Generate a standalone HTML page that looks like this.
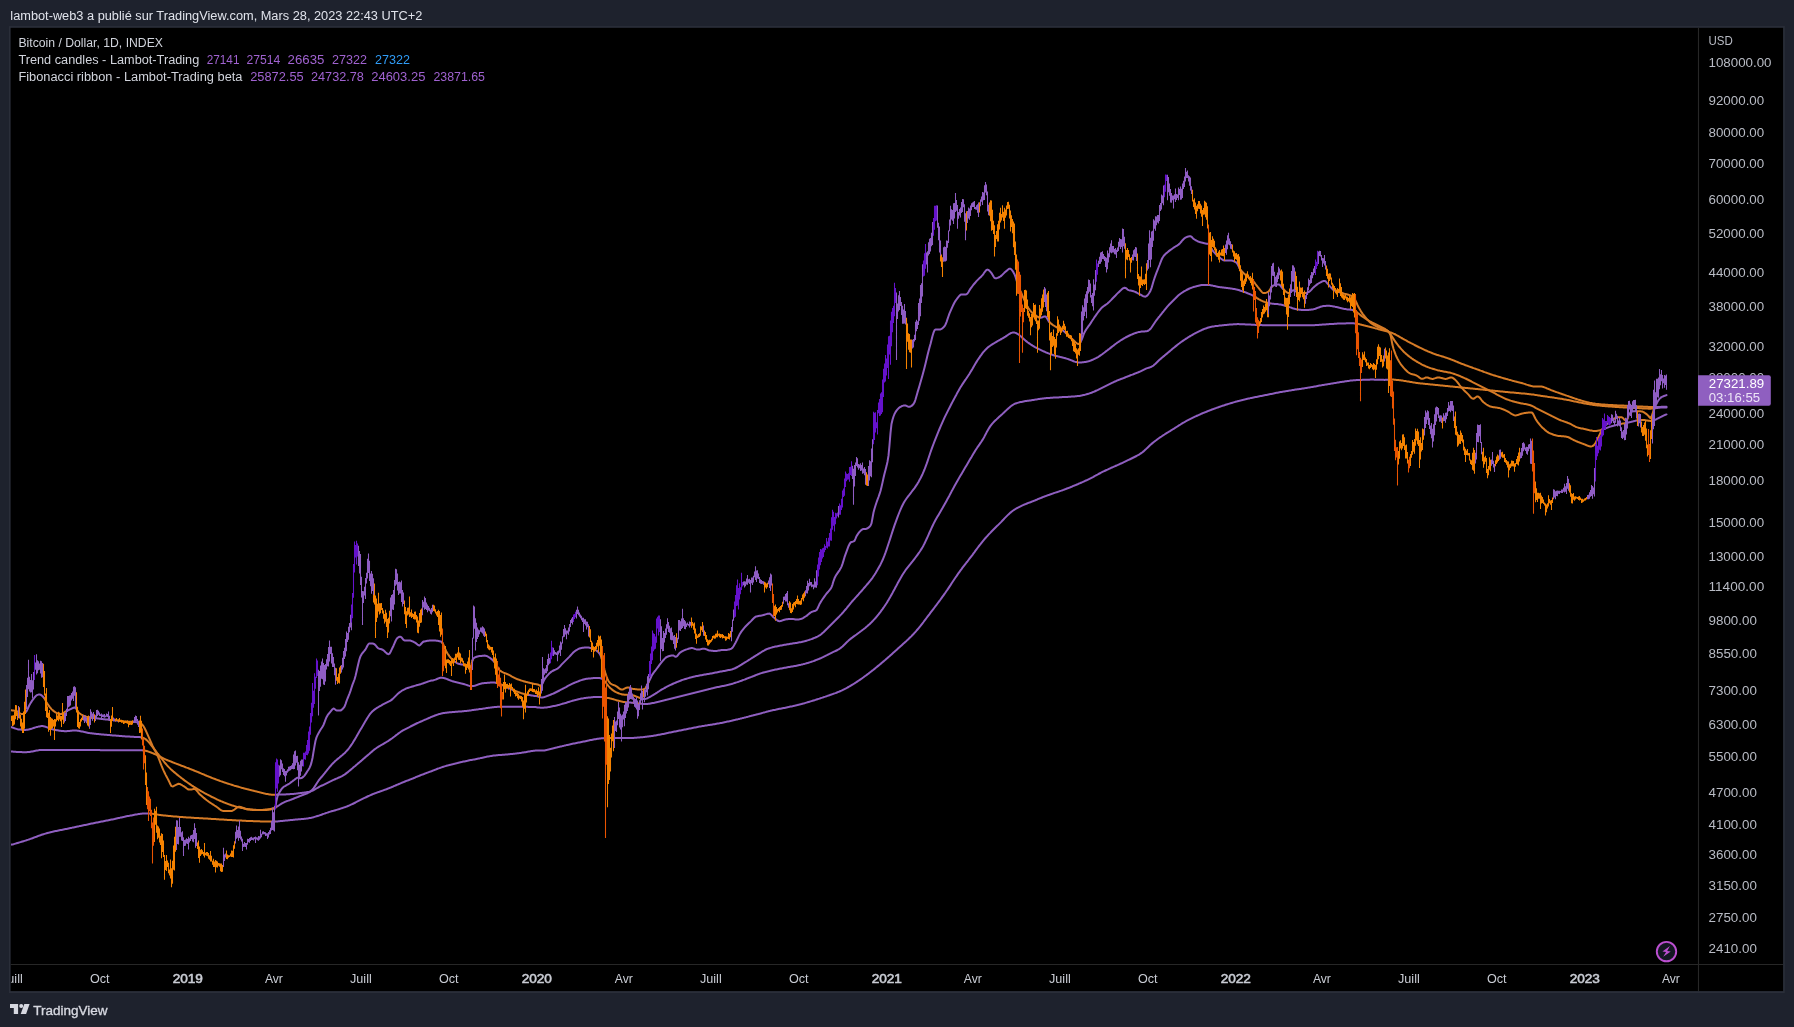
<!DOCTYPE html><html><head><meta charset="utf-8"><title>BTCUSD</title>
<style>html,body{margin:0;padding:0;background:#1e222d;overflow:hidden}svg{display:block;will-change:transform}text{font-family:"Liberation Sans",sans-serif}</style></head><body>
<svg width="1794" height="1027" viewBox="0 0 1794 1027">
<rect width="1794" height="1027" fill="#1e222d"/>
<rect x="9" y="26.1" width="1775.8" height="966.9" fill="#2a2e39"/>
<rect x="10.6" y="27.8" width="1772.5" height="963.3" fill="#000"/>
<path d="M1698.5 27.8V991M10.6 964.5H1783" stroke="#272727" stroke-width="1.1" fill="none"/>
<defs><clipPath id="cp"><rect x="11" y="28" width="1687" height="936"/></clipPath><clipPath id="ct"><rect x="11" y="965" width="1687" height="26"/></clipPath></defs>
<g clip-path="url(#cp)" fill="none" stroke-width="2" stroke-linejoin="round" stroke-linecap="round">
<path stroke="#8f5fc0" d="M10.5 844.8 L11.5 844.6 L12.5 844.4 L13.5 844.2 L14.5 843.9 L15.5 843.6 L16.5 843.3 L17.5 843.0 L18.5 842.7 L19.5 842.4 L20.5 842.1 L21.5 841.8 L22.5 841.5 L23.5 841.2 L24.5 840.9 L25.5 840.6 L26.5 840.3 L27.5 839.9 L28.5 839.6 L29.5 839.2 L30.5 838.9 L31.5 838.5 L32.5 838.2 L33.5 837.8 L34.5 837.4 L35.5 837.0 L36.5 836.7 L37.5 836.3 L38.5 835.9 L39.5 835.5 L40.5 835.2 L41.5 834.8 L42.5 834.5 L43.5 834.2 L44.5 833.9 L45.5 833.6 L46.5 833.3 L47.5 833.0 L48.5 832.7 L49.5 832.5 L50.5 832.2 L51.5 832.0 L52.5 831.8 L53.5 831.5 L54.5 831.3 L55.5 831.1 L56.5 830.9 L57.5 830.7 L58.5 830.5 L59.5 830.3 L60.5 830.1 L61.5 829.9 L62.5 829.7 L63.5 829.5 L64.5 829.3 L65.5 829.1 L66.5 828.9 L67.5 828.7 L68.5 828.5 L69.5 828.3 L70.5 828.1 L71.5 827.9 L72.5 827.6 L73.5 827.4 L74.5 827.2 L75.5 827.0 L76.5 826.8 L77.5 826.6 L78.5 826.4 L79.5 826.1 L80.5 825.9 L81.5 825.7 L82.5 825.5 L83.5 825.3 L84.5 825.1 L85.5 824.9 L86.5 824.7 L87.5 824.5 L88.5 824.2 L89.5 824.0 L90.5 823.8 L91.5 823.6 L92.5 823.4 L93.5 823.2 L94.5 823.0 L95.5 822.8 L96.5 822.6 L97.5 822.4 L98.5 822.2 L99.5 822.0 L100.5 821.8 L101.5 821.6 L102.5 821.4 L103.5 821.2 L104.5 821.0 L105.5 820.8 L106.5 820.6 L107.5 820.4 L108.5 820.2 L109.5 820.0 L110.5 819.8 L111.5 819.6 L112.5 819.4 L113.5 819.2 L114.5 819.0 L115.5 818.7 L116.5 818.5 L117.5 818.3 L118.5 818.1 L119.5 817.9 L120.5 817.6 L121.5 817.4 L122.5 817.2 L123.5 817.0 L124.5 816.8 L125.5 816.5 L126.5 816.3 L127.5 816.1 L128.5 815.9 L129.5 815.8 L130.5 815.6 L131.5 815.4 L132.5 815.2 L133.5 815.0 L134.5 814.8 L135.5 814.6 L136.5 814.4 L137.5 814.3 L138.5 814.1 L139.5 813.9 L140.5 813.8 L141.5 813.7 L142.5 813.6 L143.5 813.5 L144.5 813.4 L145.5 813.4 L146.5 813.4 L147.5 813.4 L148.5 813.4 L149.5 813.5 L150.5 813.6M274.5 821.5 L275.5 821.5 L276.5 821.4 L277.5 821.4 L278.5 821.3 L279.5 821.2 L280.5 821.1 L281.5 821.0 L282.5 820.9 L283.5 820.8 L284.5 820.7 L285.5 820.6 L286.5 820.5 L287.5 820.4 L288.5 820.3 L289.5 820.2 L290.5 820.1 L291.5 820.0 L292.5 819.9 L293.5 819.8 L294.5 819.7 L295.5 819.6 L296.5 819.5 L297.5 819.4 L298.5 819.3 L299.5 819.3 L300.5 819.2 L301.5 819.1 L302.5 819.0 L303.5 818.9 L304.5 818.8 L305.5 818.7 L306.5 818.6 L307.5 818.4 L308.5 818.3 L309.5 818.1 L310.5 817.9 L311.5 817.7 L312.5 817.4 L313.5 817.2 L314.5 816.9 L315.5 816.6 L316.5 816.3 L317.5 816.0 L318.5 815.7 L319.5 815.4 L320.5 815.0 L321.5 814.7 L322.5 814.3 L323.5 813.9 L324.5 813.6 L325.5 813.2 L326.5 812.9 L327.5 812.6 L328.5 812.2 L329.5 811.9 L330.5 811.6 L331.5 811.3 L332.5 811.0 L333.5 810.8 L334.5 810.5 L335.5 810.2 L336.5 809.9 L337.5 809.6 L338.5 809.3 L339.5 809.0 L340.5 808.6 L341.5 808.3 L342.5 808.0 L343.5 807.6 L344.5 807.3 L345.5 807.0 L346.5 806.6 L347.5 806.2 L348.5 805.8 L349.5 805.4 L350.5 804.9 L351.5 804.4 L352.5 804.0 L353.5 803.5 L354.5 803.0 L355.5 802.5 L356.5 801.9 L357.5 801.4 L358.5 800.9 L359.5 800.4 L360.5 799.9 L361.5 799.4 L362.5 798.9 L363.5 798.4 L364.5 797.9 L365.5 797.5 L366.5 797.0 L367.5 796.5 L368.5 796.0 L369.5 795.6 L370.5 795.1 L371.5 794.7 L372.5 794.3 L373.5 793.9 L374.5 793.5 L375.5 793.1 L376.5 792.8 L377.5 792.4 L378.5 792.0 L379.5 791.7 L380.5 791.3 L381.5 791.0 L382.5 790.6 L383.5 790.3 L384.5 789.9 L385.5 789.5 L386.5 789.2 L387.5 788.8 L388.5 788.4 L389.5 788.0 L390.5 787.6 L391.5 787.2 L392.5 786.8 L393.5 786.3 L394.5 785.9 L395.5 785.5 L396.5 785.0 L397.5 784.6 L398.5 784.2 L399.5 783.8 L400.5 783.4 L401.5 782.9 L402.5 782.5 L403.5 782.1 L404.5 781.7 L405.5 781.3 L406.5 780.9 L407.5 780.5 L408.5 780.2 L409.5 779.8 L410.5 779.4 L411.5 779.0 L412.5 778.6 L413.5 778.2 L414.5 777.8 L415.5 777.3 L416.5 776.9 L417.5 776.5 L418.5 776.1 L419.5 775.7 L420.5 775.3 L421.5 774.9 L422.5 774.5 L423.5 774.2 L424.5 773.8 L425.5 773.4 L426.5 773.0 L427.5 772.6 L428.5 772.3 L429.5 771.9 L430.5 771.5 L431.5 771.2 L432.5 770.8 L433.5 770.4 L434.5 770.0 L435.5 769.6 L436.5 769.2 L437.5 768.8 L438.5 768.4 L439.5 768.1 L440.5 767.7 L441.5 767.4 L442.5 767.0 L443.5 766.7 L444.5 766.4 L445.5 766.1 L446.5 765.8 L447.5 765.5 L448.5 765.3 L449.5 765.0 L450.5 764.7 L451.5 764.5 L452.5 764.2 L453.5 764.0 L454.5 763.7 L455.5 763.5 L456.5 763.2 L457.5 763.0 L458.5 762.7 L459.5 762.5 L460.5 762.3 L461.5 762.1 L462.5 761.8 L463.5 761.6 L464.5 761.4 L465.5 761.2 L466.5 761.0 L467.5 760.8 L468.5 760.5 L469.5 760.3 L470.5 760.1 L471.5 759.9 L472.5 759.7 L473.5 759.6 L474.5 759.4 L475.5 759.2 L476.5 759.0 L477.5 758.8 L478.5 758.6 L479.5 758.4 L480.5 758.1 L481.5 757.9 L482.5 757.7 L483.5 757.5 L484.5 757.3 L485.5 757.1 L486.5 756.8 L487.5 756.6 L488.5 756.4 L489.5 756.2 L490.5 756.1 L491.5 755.9 L492.5 755.7 L493.5 755.6 L494.5 755.5 L495.5 755.4 L496.5 755.3 L497.5 755.2 L498.5 755.1 L499.5 755.0 L500.5 755.0 L501.5 754.9 L502.5 754.8 L503.5 754.7 L504.5 754.7 L505.5 754.6 L506.5 754.5 L507.5 754.4 L508.5 754.3 L509.5 754.2 L510.5 754.1 L511.5 754.0 L512.5 753.9 L513.5 753.8 L514.5 753.7 L515.5 753.6 L516.5 753.4 L517.5 753.3 L518.5 753.2 L519.5 753.1 L520.5 752.9 L521.5 752.8 L522.5 752.6 L523.5 752.5 L524.5 752.3 L525.5 752.2 L526.5 752.0 L527.5 751.8 L528.5 751.6 L529.5 751.5 L530.5 751.3 L531.5 751.1 L532.5 751.0 L533.5 750.8 L534.5 750.7 L535.5 750.6 L536.5 750.6 L537.5 750.6 L538.5 750.6 L539.5 750.6 L540.5 750.6 L541.5 750.6 L542.5 750.5 L543.5 750.5 L544.5 750.4 L545.5 750.2 L546.5 750.0 L547.5 749.8 L548.5 749.5 L549.5 749.3 L550.5 749.0 L551.5 748.8 L552.5 748.5 L553.5 748.3 L554.5 748.0 L555.5 747.8 L556.5 747.6 L557.5 747.3 L558.5 747.1 L559.5 746.8 L560.5 746.6 L561.5 746.4 L562.5 746.1 L563.5 745.9 L564.5 745.6 L565.5 745.4 L566.5 745.1 L567.5 744.9 L568.5 744.7 L569.5 744.5 L570.5 744.2 L571.5 744.0 L572.5 743.8 L573.5 743.6 L574.5 743.4 L575.5 743.2 L576.5 743.0 L577.5 742.8 L578.5 742.6 L579.5 742.4 L580.5 742.2 L581.5 742.0 L582.5 741.8 L583.5 741.6 L584.5 741.4 L585.5 741.2 L586.5 741.0 L587.5 740.8 L588.5 740.6 L589.5 740.3 L590.5 740.1 L591.5 739.9 L592.5 739.7 L593.5 739.5 L594.5 739.3 L595.5 739.2 L596.5 739.0 L597.5 738.8 L598.5 738.7 L599.5 738.5 L600.5 738.4 L601.5 738.3 L602.5 738.2 L603.5 738.2 L604.5 738.1 L605.5 738.1 L606.5 738.1M611.5 738.1 L612.5 738.1 L613.5 738.1 L614.5 738.1 L615.5 738.1 L616.5 738.1 L617.5 738.1 L618.5 738.1 L619.5 738.1 L620.5 738.1 L621.5 738.1 L622.5 738.1 L623.5 738.1 L624.5 738.1 L625.5 738.1 L626.5 738.1 L627.5 738.1 L628.5 738.0 L629.5 738.0 L630.5 738.0 L631.5 738.0 L632.5 737.9 L633.5 737.9 L634.5 737.8 L635.5 737.7 L636.5 737.7 L637.5 737.6 L638.5 737.5 L639.5 737.4 L640.5 737.3 L641.5 737.2 L642.5 737.2 L643.5 737.1 L644.5 736.9 L645.5 736.8 L646.5 736.7 L647.5 736.6 L648.5 736.5 L649.5 736.3 L650.5 736.2 L651.5 736.0 L652.5 735.9 L653.5 735.7 L654.5 735.5 L655.5 735.4 L656.5 735.2 L657.5 735.0 L658.5 734.8 L659.5 734.7 L660.5 734.5 L661.5 734.3 L662.5 734.1 L663.5 733.9 L664.5 733.7 L665.5 733.5 L666.5 733.3 L667.5 733.1 L668.5 732.8 L669.5 732.6 L670.5 732.4 L671.5 732.2 L672.5 732.0 L673.5 731.8 L674.5 731.6 L675.5 731.4 L676.5 731.2 L677.5 731.0 L678.5 730.8 L679.5 730.6 L680.5 730.4 L681.5 730.2 L682.5 730.0 L683.5 729.8 L684.5 729.6 L685.5 729.4 L686.5 729.2 L687.5 729.0 L688.5 728.8 L689.5 728.6 L690.5 728.4 L691.5 728.2 L692.5 728.0 L693.5 727.8 L694.5 727.6 L695.5 727.4 L696.5 727.2 L697.5 727.0 L698.5 726.8 L699.5 726.6 L700.5 726.4 L701.5 726.3 L702.5 726.1 L703.5 725.9 L704.5 725.8 L705.5 725.6 L706.5 725.4 L707.5 725.3 L708.5 725.1 L709.5 725.0 L710.5 724.8 L711.5 724.7 L712.5 724.5 L713.5 724.3 L714.5 724.2 L715.5 724.0 L716.5 723.8 L717.5 723.6 L718.5 723.4 L719.5 723.3 L720.5 723.1 L721.5 722.9 L722.5 722.7 L723.5 722.5 L724.5 722.3 L725.5 722.1 L726.5 721.8 L727.5 721.6 L728.5 721.4 L729.5 721.2 L730.5 721.0 L731.5 720.8 L732.5 720.5 L733.5 720.3 L734.5 720.1 L735.5 719.8 L736.5 719.6 L737.5 719.4 L738.5 719.1 L739.5 718.9 L740.5 718.6 L741.5 718.4 L742.5 718.1 L743.5 717.9 L744.5 717.6 L745.5 717.4 L746.5 717.1 L747.5 716.9 L748.5 716.6 L749.5 716.3 L750.5 716.1 L751.5 715.8 L752.5 715.6 L753.5 715.3 L754.5 715.0 L755.5 714.8 L756.5 714.5 L757.5 714.2 L758.5 714.0 L759.5 713.7 L760.5 713.5 L761.5 713.2 L762.5 712.9 L763.5 712.6 L764.5 712.4 L765.5 712.1 L766.5 711.8 L767.5 711.6 L768.5 711.3 L769.5 711.1 L770.5 710.8 L771.5 710.6 L772.5 710.3 L773.5 710.1 L774.5 709.9 L775.5 709.7 L776.5 709.4 L777.5 709.2 L778.5 709.0 L779.5 708.8 L780.5 708.7 L781.5 708.5 L782.5 708.3 L783.5 708.1 L784.5 707.9 L785.5 707.7 L786.5 707.5 L787.5 707.3 L788.5 707.1 L789.5 706.8 L790.5 706.6 L791.5 706.4 L792.5 706.2 L793.5 705.9 L794.5 705.7 L795.5 705.5 L796.5 705.2 L797.5 705.0 L798.5 704.7 L799.5 704.5 L800.5 704.2 L801.5 704.0 L802.5 703.7 L803.5 703.4 L804.5 703.2 L805.5 702.9 L806.5 702.6 L807.5 702.3 L808.5 702.0 L809.5 701.7 L810.5 701.4 L811.5 701.1 L812.5 700.8 L813.5 700.5 L814.5 700.2 L815.5 699.9 L816.5 699.5 L817.5 699.2 L818.5 698.9 L819.5 698.6 L820.5 698.2 L821.5 697.9 L822.5 697.6 L823.5 697.2 L824.5 696.9 L825.5 696.6 L826.5 696.2 L827.5 695.9 L828.5 695.5 L829.5 695.2 L830.5 694.8 L831.5 694.5 L832.5 694.1 L833.5 693.8 L834.5 693.4 L835.5 693.1 L836.5 692.7 L837.5 692.3 L838.5 691.9 L839.5 691.5 L840.5 691.0 L841.5 690.6 L842.5 690.1 L843.5 689.6 L844.5 689.1 L845.5 688.6 L846.5 688.1 L847.5 687.5 L848.5 687.0 L849.5 686.4 L850.5 685.8 L851.5 685.2 L852.5 684.6 L853.5 684.0 L854.5 683.4 L855.5 682.7 L856.5 682.1 L857.5 681.4 L858.5 680.7 L859.5 680.1 L860.5 679.4 L861.5 678.7 L862.5 678.0 L863.5 677.3 L864.5 676.5 L865.5 675.8 L866.5 675.1 L867.5 674.3 L868.5 673.6 L869.5 672.8 L870.5 672.0 L871.5 671.2 L872.5 670.4 L873.5 669.7 L874.5 668.9 L875.5 668.0 L876.5 667.2 L877.5 666.4 L878.5 665.6 L879.5 664.8 L880.5 663.9 L881.5 663.1 L882.5 662.2 L883.5 661.4 L884.5 660.5 L885.5 659.7 L886.5 658.8 L887.5 657.9 L888.5 657.0 L889.5 656.2 L890.5 655.3 L891.5 654.4 L892.5 653.5 L893.5 652.6 L894.5 651.7 L895.5 650.8 L896.5 649.9 L897.5 649.0 L898.5 648.1 L899.5 647.2 L900.5 646.3 L901.5 645.4 L902.5 644.5 L903.5 643.6 L904.5 642.7 L905.5 641.8 L906.5 640.9 L907.5 639.9 L908.5 639.0 L909.5 638.0 L910.5 637.1 L911.5 636.1 L912.5 635.0 L913.5 634.0 L914.5 632.9 L915.5 631.8 L916.5 630.7 L917.5 629.5 L918.5 628.3 L919.5 627.1 L920.5 625.9 L921.5 624.6 L922.5 623.3 L923.5 622.0 L924.5 620.6 L925.5 619.3 L926.5 618.0 L927.5 616.7 L928.5 615.4 L929.5 614.1 L930.5 612.7 L931.5 611.4 L932.5 610.1 L933.5 608.8 L934.5 607.5 L935.5 606.2 L936.5 604.9 L937.5 603.5 L938.5 602.2 L939.5 600.8 L940.5 599.5 L941.5 598.1 L942.5 596.7 L943.5 595.3 L944.5 593.9 L945.5 592.5 L946.5 591.0 L947.5 589.6 L948.5 588.1 L949.5 586.6 L950.5 585.1 L951.5 583.5 L952.5 582.0 L953.5 580.5 L954.5 579.0 L955.5 577.5 L956.5 576.1 L957.5 574.6 L958.5 573.2 L959.5 571.8 L960.5 570.4 L961.5 569.1 L962.5 567.7 L963.5 566.4 L964.5 565.1 L965.5 563.8 L966.5 562.5 L967.5 561.3 L968.5 560.0 L969.5 558.7 L970.5 557.4 L971.5 556.1 L972.5 554.8 L973.5 553.4 L974.5 552.1 L975.5 550.7 L976.5 549.3 L977.5 548.0 L978.5 546.7 L979.5 545.3 L980.5 544.1 L981.5 542.8 L982.5 541.6 L983.5 540.4 L984.5 539.2 L985.5 538.0 L986.5 536.9 L987.5 535.8 L988.5 534.7 L989.5 533.6 L990.5 532.6 L991.5 531.5 L992.5 530.5 L993.5 529.5 L994.5 528.5 L995.5 527.5 L996.5 526.5 L997.5 525.6 L998.5 524.6 L999.5 523.6 L1000.5 522.6 L1001.5 521.6 L1002.5 520.5 L1003.5 519.5 L1004.5 518.4 L1005.5 517.4 L1006.5 516.4 L1007.5 515.4 L1008.5 514.4 L1009.5 513.5 L1010.5 512.6 L1011.5 511.8 L1012.5 511.0 L1013.5 510.3 L1014.5 509.6 L1015.5 509.0 L1016.5 508.4 L1017.5 507.8 L1018.5 507.3 L1019.5 506.8 L1020.5 506.3 L1021.5 505.8 L1022.5 505.4 L1023.5 504.9 L1024.5 504.5 L1025.5 504.1 L1026.5 503.7 L1027.5 503.3 L1028.5 502.9 L1029.5 502.5 L1030.5 502.2 L1031.5 501.8 L1032.5 501.4 L1033.5 501.0 L1034.5 500.6 L1035.5 500.2 L1036.5 499.8 L1037.5 499.3 L1038.5 498.9 L1039.5 498.5 L1040.5 498.1 L1041.5 497.7 L1042.5 497.3 L1043.5 496.9 L1044.5 496.5 L1045.5 496.1 L1046.5 495.8 L1047.5 495.4 L1048.5 495.0 L1049.5 494.7 L1050.5 494.3 L1051.5 494.0 L1052.5 493.6 L1053.5 493.3 L1054.5 492.9 L1055.5 492.6 L1056.5 492.3 L1057.5 492.0 L1058.5 491.6 L1059.5 491.3 L1060.5 490.9 L1061.5 490.6 L1062.5 490.2 L1063.5 489.9 L1064.5 489.5 L1065.5 489.1 L1066.5 488.7 L1067.5 488.3 L1068.5 488.0 L1069.5 487.6 L1070.5 487.2 L1071.5 486.8 L1072.5 486.3 L1073.5 485.9 L1074.5 485.5 L1075.5 485.1 L1076.5 484.7 L1077.5 484.3 L1078.5 483.8 L1079.5 483.4 L1080.5 483.0 L1081.5 482.5 L1082.5 482.1 L1083.5 481.6 L1084.5 481.2 L1085.5 480.7 L1086.5 480.3 L1087.5 479.8 L1088.5 479.3 L1089.5 478.8 L1090.5 478.3 L1091.5 477.8 L1092.5 477.3 L1093.5 476.8 L1094.5 476.2 L1095.5 475.7 L1096.5 475.1 L1097.5 474.6 L1098.5 474.0 L1099.5 473.5 L1100.5 473.0 L1101.5 472.4 L1102.5 471.9 L1103.5 471.4 L1104.5 471.0 L1105.5 470.5 L1106.5 470.0 L1107.5 469.6 L1108.5 469.1 L1109.5 468.6 L1110.5 468.2 L1111.5 467.7 L1112.5 467.3 L1113.5 466.9 L1114.5 466.4 L1115.5 466.0 L1116.5 465.5 L1117.5 465.1 L1118.5 464.6 L1119.5 464.2 L1120.5 463.7 L1121.5 463.3 L1122.5 462.8 L1123.5 462.3 L1124.5 461.9 L1125.5 461.4 L1126.5 460.9 L1127.5 460.4 L1128.5 459.9 L1129.5 459.5 L1130.5 459.0 L1131.5 458.5 L1132.5 458.0 L1133.5 457.5 L1134.5 457.0 L1135.5 456.5 L1136.5 456.0 L1137.5 455.4 L1138.5 454.9 L1139.5 454.3 L1140.5 453.6 L1141.5 452.9 L1142.5 452.2 L1143.5 451.4 L1144.5 450.5 L1145.5 449.6 L1146.5 448.6 L1147.5 447.7 L1148.5 446.7 L1149.5 445.7 L1150.5 444.8 L1151.5 443.9 L1152.5 443.1 L1153.5 442.3 L1154.5 441.5 L1155.5 440.7 L1156.5 440.0 L1157.5 439.2 L1158.5 438.5 L1159.5 437.8 L1160.5 437.1 L1161.5 436.5 L1162.5 435.8 L1163.5 435.1 L1164.5 434.5 L1165.5 433.8 L1166.5 433.2 L1167.5 432.6 L1168.5 432.0 L1169.5 431.4 L1170.5 430.8 L1171.5 430.1 L1172.5 429.5 L1173.5 428.9 L1174.5 428.3 L1175.5 427.6 L1176.5 427.0 L1177.5 426.4 L1178.5 425.7 L1179.5 425.1 L1180.5 424.5 L1181.5 423.8 L1182.5 423.2 L1183.5 422.6 L1184.5 422.1 L1185.5 421.5 L1186.5 420.9 L1187.5 420.4 L1188.5 419.9 L1189.5 419.4 L1190.5 418.9 L1191.5 418.4 L1192.5 417.9 L1193.5 417.4 L1194.5 416.9 L1195.5 416.4 L1196.5 416.0 L1197.5 415.5 L1198.5 415.1 L1199.5 414.6 L1200.5 414.2 L1201.5 413.7 L1202.5 413.3 L1203.5 412.9 L1204.5 412.5 L1205.5 412.1 L1206.5 411.7 L1207.5 411.3 L1208.5 410.9 L1209.5 410.5 L1210.5 410.1 L1211.5 409.7 L1212.5 409.3 L1213.5 409.0 L1214.5 408.6 L1215.5 408.2 L1216.5 407.9 L1217.5 407.5 L1218.5 407.2 L1219.5 406.8 L1220.5 406.5 L1221.5 406.1 L1222.5 405.8 L1223.5 405.5 L1224.5 405.2 L1225.5 404.8 L1226.5 404.5 L1227.5 404.2 L1228.5 403.9 L1229.5 403.6 L1230.5 403.3 L1231.5 403.0 L1232.5 402.7 L1233.5 402.4 L1234.5 402.1 L1235.5 401.8 L1236.5 401.6 L1237.5 401.3 L1238.5 401.0 L1239.5 400.8 L1240.5 400.5 L1241.5 400.3 L1242.5 400.0 L1243.5 399.8 L1244.5 399.5 L1245.5 399.3 L1246.5 399.0 L1247.5 398.8 L1248.5 398.6 L1249.5 398.4 L1250.5 398.1 L1251.5 397.9 L1252.5 397.7 L1253.5 397.5 L1254.5 397.3 L1255.5 397.1 L1256.5 396.9 L1257.5 396.7 L1258.5 396.5 L1259.5 396.3 L1260.5 396.1 L1261.5 395.9 L1262.5 395.7 L1263.5 395.5 L1264.5 395.3 L1265.5 395.1 L1266.5 394.9 L1267.5 394.7 L1268.5 394.5 L1269.5 394.3 L1270.5 394.1 L1271.5 393.9 L1272.5 393.7 L1273.5 393.5 L1274.5 393.2 L1275.5 393.0 L1276.5 392.8 L1277.5 392.7 L1278.5 392.5 L1279.5 392.3 L1280.5 392.1 L1281.5 391.9 L1282.5 391.7 L1283.5 391.6 L1284.5 391.4 L1285.5 391.2 L1286.5 391.1 L1287.5 390.9 L1288.5 390.7 L1289.5 390.6 L1290.5 390.4 L1291.5 390.3 L1292.5 390.1 L1293.5 390.0 L1294.5 389.8 L1295.5 389.6 L1296.5 389.5 L1297.5 389.3 L1298.5 389.2 L1299.5 389.0 L1300.5 388.9 L1301.5 388.7 L1302.5 388.5 L1303.5 388.4 L1304.5 388.2 L1305.5 388.1 L1306.5 387.9 L1307.5 387.7 L1308.5 387.6 L1309.5 387.4 L1310.5 387.2 L1311.5 387.1 L1312.5 386.9 L1313.5 386.7 L1314.5 386.5 L1315.5 386.4 L1316.5 386.2 L1317.5 386.0 L1318.5 385.8 L1319.5 385.6 L1320.5 385.4 L1321.5 385.3 L1322.5 385.1 L1323.5 384.9 L1324.5 384.7 L1325.5 384.6 L1326.5 384.4 L1327.5 384.2 L1328.5 384.1 L1329.5 383.9 L1330.5 383.7 L1331.5 383.6 L1332.5 383.4 L1333.5 383.2 L1334.5 383.1 L1335.5 382.9 L1336.5 382.8 L1337.5 382.6 L1338.5 382.5 L1339.5 382.3 L1340.5 382.1 L1341.5 382.0 L1342.5 381.8 L1343.5 381.7 L1344.5 381.5 L1345.5 381.3 L1346.5 381.2 L1347.5 381.0 L1348.5 380.9 L1349.5 380.8 L1350.5 380.6 L1351.5 380.5 L1352.5 380.4 L1353.5 380.3 L1354.5 380.2 L1355.5 380.2 L1356.5 380.1 L1357.5 380.1 L1358.5 380.0 L1359.5 380.0 L1360.5 379.9 L1361.5 379.9 L1362.5 379.8 L1363.5 379.8 L1364.5 379.8 L1365.5 379.7 L1366.5 379.7 L1367.5 379.7 L1368.5 379.7 L1369.5 379.7 L1370.5 379.6 L1371.5 379.6 L1372.5 379.6 L1373.5 379.6 L1374.5 379.7 L1375.5 379.7 L1376.5 379.7 L1377.5 379.7 L1378.5 379.7 L1379.5 379.8 L1380.5 379.8 L1381.5 379.8 L1382.5 379.8 L1383.5 379.8 L1384.5 379.9 L1385.5 379.8 L1386.5 379.8 L1387.5 379.8 L1388.5 379.7 L1389.5 379.7 L1390.5 379.7 L1391.5 379.6M1628.5 407.7 L1629.5 407.7 L1630.5 407.8M1632.5 407.9 L1633.5 407.9 L1634.5 408.0 L1635.5 408.0M1654.5 408.4 L1655.5 408.2 L1656.5 408.1 L1657.5 408.0 L1658.5 407.8 L1659.5 407.7 L1660.5 407.6 L1661.5 407.6 L1662.5 407.5 L1663.5 407.5 L1664.5 407.4 L1665.5 407.4 L1666.5 407.4"/>
<path stroke="#d67b26" d="M150.5 813.6 L151.5 813.7 L152.5 813.8 L153.5 814.0 L154.5 814.1 L155.5 814.3 L156.5 814.4 L157.5 814.6 L158.5 814.7 L159.5 814.9 L160.5 815.0 L161.5 815.2 L162.5 815.3 L163.5 815.4 L164.5 815.5 L165.5 815.6 L166.5 815.7 L167.5 815.8 L168.5 815.9 L169.5 816.0 L170.5 816.1 L171.5 816.2 L172.5 816.3 L173.5 816.4 L174.5 816.5 L175.5 816.5 L176.5 816.6 L177.5 816.7 L178.5 816.8 L179.5 816.9 L180.5 817.0 L181.5 817.0 L182.5 817.1 L183.5 817.2 L184.5 817.2 L185.5 817.3 L186.5 817.4 L187.5 817.5 L188.5 817.5 L189.5 817.6 L190.5 817.6 L191.5 817.7 L192.5 817.8 L193.5 817.8 L194.5 817.9 L195.5 817.9 L196.5 818.0 L197.5 818.1 L198.5 818.1 L199.5 818.2 L200.5 818.2 L201.5 818.3 L202.5 818.3 L203.5 818.4 L204.5 818.5 L205.5 818.5 L206.5 818.6 L207.5 818.6 L208.5 818.7 L209.5 818.7 L210.5 818.8 L211.5 818.9 L212.5 818.9 L213.5 819.0 L214.5 819.1 L215.5 819.1 L216.5 819.2 L217.5 819.2 L218.5 819.3 L219.5 819.4 L220.5 819.4 L221.5 819.5 L222.5 819.6 L223.5 819.6 L224.5 819.7 L225.5 819.7 L226.5 819.8 L227.5 819.9 L228.5 819.9 L229.5 820.0 L230.5 820.0 L231.5 820.1 L232.5 820.2 L233.5 820.2 L234.5 820.3 L235.5 820.3 L236.5 820.4 L237.5 820.4 L238.5 820.5 L239.5 820.5 L240.5 820.6 L241.5 820.6 L242.5 820.7 L243.5 820.7 L244.5 820.8 L245.5 820.8 L246.5 820.9 L247.5 820.9 L248.5 820.9 L249.5 821.0 L250.5 821.0 L251.5 821.1 L252.5 821.1 L253.5 821.2 L254.5 821.2 L255.5 821.2 L256.5 821.3 L257.5 821.3 L258.5 821.3 L259.5 821.3 L260.5 821.4 L261.5 821.4 L262.5 821.4 L263.5 821.4 L264.5 821.4 L265.5 821.5 L266.5 821.5 L267.5 821.5 L268.5 821.5 L269.5 821.5 L270.5 821.5 L271.5 821.5 L272.5 821.5 L273.5 821.5 L274.5 821.5M606.5 738.1 L607.5 738.1 L608.5 738.1 L609.5 738.1 L610.5 738.1 L611.5 738.1M1391.5 379.6 L1392.5 379.6 L1393.5 379.6 L1394.5 379.7 L1395.5 379.8 L1396.5 379.9 L1397.5 380.0 L1398.5 380.1 L1399.5 380.2 L1400.5 380.3 L1401.5 380.5 L1402.5 380.6 L1403.5 380.8 L1404.5 380.9 L1405.5 381.1 L1406.5 381.3 L1407.5 381.4 L1408.5 381.6 L1409.5 381.8 L1410.5 382.0 L1411.5 382.1 L1412.5 382.3 L1413.5 382.4 L1414.5 382.6 L1415.5 382.7 L1416.5 382.9 L1417.5 383.0 L1418.5 383.2 L1419.5 383.3 L1420.5 383.4 L1421.5 383.5 L1422.5 383.6 L1423.5 383.7 L1424.5 383.8 L1425.5 383.9 L1426.5 384.0 L1427.5 384.1 L1428.5 384.2 L1429.5 384.3 L1430.5 384.4 L1431.5 384.5 L1432.5 384.6 L1433.5 384.7 L1434.5 384.8 L1435.5 384.9 L1436.5 385.0 L1437.5 385.1 L1438.5 385.2 L1439.5 385.3 L1440.5 385.4 L1441.5 385.5 L1442.5 385.6 L1443.5 385.7 L1444.5 385.8 L1445.5 385.9 L1446.5 386.0 L1447.5 386.1 L1448.5 386.2 L1449.5 386.3 L1450.5 386.4 L1451.5 386.5 L1452.5 386.6 L1453.5 386.7 L1454.5 386.8 L1455.5 386.9 L1456.5 387.0 L1457.5 387.1 L1458.5 387.2 L1459.5 387.3 L1460.5 387.4 L1461.5 387.5 L1462.5 387.6 L1463.5 387.7 L1464.5 387.8 L1465.5 387.9 L1466.5 388.0 L1467.5 388.1 L1468.5 388.2 L1469.5 388.3 L1470.5 388.4 L1471.5 388.5 L1472.5 388.6 L1473.5 388.7 L1474.5 388.8 L1475.5 388.9 L1476.5 389.0 L1477.5 389.1 L1478.5 389.2 L1479.5 389.3 L1480.5 389.4 L1481.5 389.5 L1482.5 389.6 L1483.5 389.7 L1484.5 389.8 L1485.5 389.9 L1486.5 390.0 L1487.5 390.1 L1488.5 390.2 L1489.5 390.3 L1490.5 390.4 L1491.5 390.5 L1492.5 390.6 L1493.5 390.7 L1494.5 390.8 L1495.5 390.9 L1496.5 391.0 L1497.5 391.1 L1498.5 391.2 L1499.5 391.3 L1500.5 391.4 L1501.5 391.5 L1502.5 391.6 L1503.5 391.7 L1504.5 391.8 L1505.5 391.9 L1506.5 392.0 L1507.5 392.1 L1508.5 392.2 L1509.5 392.3 L1510.5 392.4 L1511.5 392.5 L1512.5 392.6 L1513.5 392.6 L1514.5 392.7 L1515.5 392.8 L1516.5 392.9 L1517.5 393.0 L1518.5 393.1 L1519.5 393.2 L1520.5 393.3 L1521.5 393.4 L1522.5 393.5 L1523.5 393.5 L1524.5 393.6 L1525.5 393.7 L1526.5 393.8 L1527.5 393.9 L1528.5 394.0 L1529.5 394.2 L1530.5 394.3 L1531.5 394.4 L1532.5 394.5 L1533.5 394.6 L1534.5 394.8 L1535.5 394.9 L1536.5 395.1 L1537.5 395.2 L1538.5 395.4 L1539.5 395.5 L1540.5 395.7 L1541.5 395.9 L1542.5 396.0 L1543.5 396.2 L1544.5 396.3 L1545.5 396.5 L1546.5 396.6 L1547.5 396.8 L1548.5 396.9 L1549.5 397.1 L1550.5 397.2 L1551.5 397.3 L1552.5 397.5 L1553.5 397.6 L1554.5 397.8 L1555.5 397.9 L1556.5 398.1 L1557.5 398.2 L1558.5 398.4 L1559.5 398.5 L1560.5 398.7 L1561.5 398.8 L1562.5 399.0 L1563.5 399.2 L1564.5 399.4 L1565.5 399.5 L1566.5 399.7 L1567.5 399.9 L1568.5 400.1 L1569.5 400.3 L1570.5 400.5 L1571.5 400.7 L1572.5 400.9 L1573.5 401.2 L1574.5 401.4 L1575.5 401.6 L1576.5 401.8 L1577.5 402.0 L1578.5 402.2 L1579.5 402.4 L1580.5 402.6 L1581.5 402.8 L1582.5 403.0 L1583.5 403.2 L1584.5 403.4 L1585.5 403.6 L1586.5 403.8 L1587.5 403.9 L1588.5 404.1 L1589.5 404.3 L1590.5 404.4 L1591.5 404.6 L1592.5 404.7 L1593.5 404.9 L1594.5 405.0 L1595.5 405.2 L1596.5 405.3 L1597.5 405.4 L1598.5 405.5 L1599.5 405.6 L1600.5 405.7 L1601.5 405.8 L1602.5 405.9 L1603.5 406.0 L1604.5 406.1 L1605.5 406.2 L1606.5 406.2 L1607.5 406.3 L1608.5 406.4 L1609.5 406.5 L1610.5 406.5 L1611.5 406.6 L1612.5 406.7 L1613.5 406.7 L1614.5 406.8 L1615.5 406.9 L1616.5 407.0 L1617.5 407.0 L1618.5 407.1 L1619.5 407.2 L1620.5 407.2 L1621.5 407.3 L1622.5 407.3 L1623.5 407.4 L1624.5 407.5 L1625.5 407.5 L1626.5 407.6 L1627.5 407.6 L1628.5 407.7M1630.5 407.8 L1631.5 407.8 L1632.5 407.9M1635.5 408.0 L1636.5 408.0 L1637.5 408.1 L1638.5 408.1 L1639.5 408.2 L1640.5 408.2 L1641.5 408.3 L1642.5 408.4 L1643.5 408.4 L1644.5 408.5 L1645.5 408.5 L1646.5 408.6 L1647.5 408.6 L1648.5 408.7 L1649.5 408.7 L1650.5 408.7 L1651.5 408.6 L1652.5 408.6 L1653.5 408.5 L1654.5 408.4"/>
<path stroke="#8f5fc0" d="M10.5 751.5 L11.5 751.6 L12.5 751.6 L13.5 751.7 L14.5 751.7 L15.5 751.8 L16.5 751.9 L17.5 751.9 L18.5 752.0 L19.5 752.0 L20.5 752.1 L21.5 752.1 L22.5 752.2 L23.5 752.2 L24.5 752.2 L25.5 752.2 L26.5 752.2 L27.5 752.1 L28.5 752.1 L29.5 752.0 L30.5 751.8 L31.5 751.6 L32.5 751.4 L33.5 751.2 L34.5 751.0 L35.5 750.8 L36.5 750.6 L37.5 750.4 L38.5 750.3 L39.5 750.1 L40.5 750.1 L41.5 750.0 L42.5 749.9 L43.5 749.9 L44.5 749.9 L45.5 749.9 L46.5 749.9 L47.5 749.9 L48.5 749.9 L49.5 749.9 L50.5 749.9 L51.5 749.9 L52.5 749.9 L53.5 749.9 L54.5 749.9 L55.5 749.9 L56.5 749.9 L57.5 749.9 L58.5 749.9 L59.5 749.9 L60.5 749.9 L61.5 749.9 L62.5 749.9 L63.5 749.9 L64.5 749.9 L65.5 749.9 L66.5 749.9 L67.5 749.9 L68.5 749.9 L69.5 749.9 L70.5 749.9 L71.5 749.9 L72.5 749.9 L73.5 749.9 L74.5 749.9 L75.5 749.9 L76.5 749.9 L77.5 749.9 L78.5 749.9 L79.5 749.9 L80.5 749.9 L81.5 749.9 L82.5 750.0 L83.5 750.0 L84.5 750.0 L85.5 750.0 L86.5 750.0 L87.5 750.0 L88.5 750.0 L89.5 750.0 L90.5 750.1 L91.5 750.1 L92.5 750.1 L93.5 750.1 L94.5 750.1 L95.5 750.1 L96.5 750.1 L97.5 750.1 L98.5 750.1 L99.5 750.1 L100.5 750.2 L101.5 750.2 L102.5 750.2 L103.5 750.2 L104.5 750.2 L105.5 750.2 L106.5 750.2 L107.5 750.2 L108.5 750.2 L109.5 750.2 L110.5 750.2 L111.5 750.2 L112.5 750.2 L113.5 750.2 L114.5 750.2 L115.5 750.2 L116.5 750.2 L117.5 750.2 L118.5 750.2 L119.5 750.2 L120.5 750.2 L121.5 750.2 L122.5 750.2 L123.5 750.2 L124.5 750.2 L125.5 750.2 L126.5 750.2 L127.5 750.2 L128.5 750.2 L129.5 750.2 L130.5 750.2 L131.5 750.2 L132.5 750.2 L133.5 750.2 L134.5 750.2 L135.5 750.2 L136.5 750.2 L137.5 750.2 L138.5 750.2 L139.5 750.2 L140.5 750.2 L141.5 750.2 L142.5 750.3 L143.5 750.4M275.5 794.7 L276.5 794.7 L277.5 794.6 L278.5 794.6 L279.5 794.5 L280.5 794.5 L281.5 794.5 L282.5 794.4 L283.5 794.4 L284.5 794.4 L285.5 794.4 L286.5 794.3 L287.5 794.3 L288.5 794.2 L289.5 794.2 L290.5 794.1 L291.5 794.1 L292.5 794.0 L293.5 793.9 L294.5 793.8 L295.5 793.7 L296.5 793.6 L297.5 793.4 L298.5 793.3 L299.5 793.2 L300.5 793.1 L301.5 793.0 L302.5 792.8 L303.5 792.7 L304.5 792.6 L305.5 792.5 L306.5 792.3 L307.5 792.1 L308.5 791.9 L309.5 791.7 L310.5 791.4 L311.5 791.1 L312.5 790.6 L313.5 790.2 L314.5 789.6 L315.5 789.0 L316.5 788.4 L317.5 787.9 L318.5 787.3 L319.5 786.7 L320.5 786.2 L321.5 785.7 L322.5 785.3 L323.5 784.8 L324.5 784.3 L325.5 783.8 L326.5 783.3 L327.5 782.8 L328.5 782.3 L329.5 781.8 L330.5 781.4 L331.5 780.9 L332.5 780.4 L333.5 779.9 L334.5 779.5 L335.5 779.0 L336.5 778.6 L337.5 778.2 L338.5 777.7 L339.5 777.3 L340.5 776.8 L341.5 776.3 L342.5 775.8 L343.5 775.2 L344.5 774.6 L345.5 773.9 L346.5 773.1 L347.5 772.4 L348.5 771.5 L349.5 770.7 L350.5 769.9 L351.5 769.0 L352.5 768.2 L353.5 767.3 L354.5 766.5 L355.5 765.7 L356.5 764.8 L357.5 764.0 L358.5 763.1 L359.5 762.3 L360.5 761.4 L361.5 760.6 L362.5 759.7 L363.5 758.8 L364.5 757.9 L365.5 757.1 L366.5 756.2 L367.5 755.4 L368.5 754.5 L369.5 753.7 L370.5 752.8 L371.5 751.9 L372.5 751.1 L373.5 750.2 L374.5 749.4 L375.5 748.7 L376.5 748.0 L377.5 747.3 L378.5 746.7 L379.5 746.1 L380.5 745.5 L381.5 744.9 L382.5 744.4 L383.5 743.8 L384.5 743.2 L385.5 742.6 L386.5 742.0 L387.5 741.4 L388.5 740.8 L389.5 740.1 L390.5 739.4 L391.5 738.7 L392.5 738.0 L393.5 737.2 L394.5 736.5 L395.5 735.7 L396.5 734.9 L397.5 734.2 L398.5 733.4 L399.5 732.7 L400.5 732.0 L401.5 731.3 L402.5 730.7 L403.5 730.1 L404.5 729.6 L405.5 729.1 L406.5 728.6 L407.5 728.1 L408.5 727.6 L409.5 727.1 L410.5 726.5 L411.5 726.0 L412.5 725.5 L413.5 725.0 L414.5 724.5 L415.5 724.0 L416.5 723.5 L417.5 723.0 L418.5 722.6 L419.5 722.1 L420.5 721.7 L421.5 721.3 L422.5 720.8 L423.5 720.4 L424.5 719.9 L425.5 719.5 L426.5 719.1 L427.5 718.6 L428.5 718.2 L429.5 717.8 L430.5 717.3 L431.5 716.9 L432.5 716.5 L433.5 716.1 L434.5 715.7 L435.5 715.3 L436.5 715.0 L437.5 714.6 L438.5 714.3 L439.5 713.9 L440.5 713.7 L441.5 713.4 L442.5 713.2 L443.5 713.0 L444.5 712.9 L445.5 712.8 L446.5 712.7 L447.5 712.5 L448.5 712.4 L449.5 712.3 L450.5 712.2 L451.5 712.2 L452.5 712.1 L453.5 712.0 L454.5 711.9 L455.5 711.8 L456.5 711.8 L457.5 711.7 L458.5 711.6 L459.5 711.5 L460.5 711.5 L461.5 711.4 L462.5 711.3 L463.5 711.2 L464.5 711.1 L465.5 711.0 L466.5 710.9 L467.5 710.8 L468.5 710.7 L469.5 710.5 L470.5 710.4 L471.5 710.3 L472.5 710.1 L473.5 710.0 L474.5 709.8 L475.5 709.7 L476.5 709.5 L477.5 709.4 L478.5 709.3 L479.5 709.1 L480.5 709.0 L481.5 708.9 L482.5 708.7 L483.5 708.6 L484.5 708.4 L485.5 708.3 L486.5 708.1 L487.5 708.0 L488.5 707.8 L489.5 707.7 L490.5 707.6 L491.5 707.4 L492.5 707.3 L493.5 707.2 L494.5 707.1 L495.5 707.0 L496.5 706.9 L497.5 706.8 L498.5 706.8 L499.5 706.8 L500.5 706.8 L501.5 706.7 L502.5 706.7 L503.5 706.7 L504.5 706.7 L505.5 706.7 L506.5 706.7 L507.5 706.7 L508.5 706.7 L509.5 706.7 L510.5 706.7 L511.5 706.7 L512.5 706.7 L513.5 706.7 L514.5 706.7 L515.5 706.7 L516.5 706.7 L517.5 706.7 L518.5 706.7 L519.5 706.8 L520.5 706.8 L521.5 706.8 L522.5 706.8 L523.5 706.8 L524.5 706.8 L525.5 706.8 L526.5 706.8 L527.5 706.8 L528.5 706.9 L529.5 706.9 L530.5 706.9 L531.5 706.9 L532.5 707.0 L533.5 707.0 L534.5 707.1 L535.5 707.1 L536.5 707.2 L537.5 707.4 L538.5 707.5 L539.5 707.6 L540.5 707.7 L541.5 707.7 L542.5 707.8 L543.5 707.7 L544.5 707.6 L545.5 707.5 L546.5 707.4 L547.5 707.2 L548.5 707.1 L549.5 706.9 L550.5 706.7 L551.5 706.5 L552.5 706.3 L553.5 706.1 L554.5 705.9 L555.5 705.7 L556.5 705.5 L557.5 705.2 L558.5 704.9 L559.5 704.7 L560.5 704.4 L561.5 704.1 L562.5 703.8 L563.5 703.5 L564.5 703.3 L565.5 703.0 L566.5 702.7 L567.5 702.3 L568.5 702.0 L569.5 701.7 L570.5 701.4 L571.5 701.1 L572.5 700.8 L573.5 700.5 L574.5 700.3 L575.5 700.0 L576.5 699.8 L577.5 699.5 L578.5 699.3 L579.5 699.1 L580.5 698.8 L581.5 698.6 L582.5 698.4 L583.5 698.3 L584.5 698.1 L585.5 697.9 L586.5 697.8 L587.5 697.7 L588.5 697.6 L589.5 697.5 L590.5 697.4 L591.5 697.3 L592.5 697.2 L593.5 697.1 L594.5 697.0 L595.5 697.0 L596.5 696.9 L597.5 696.9 L598.5 696.9 L599.5 696.9 L600.5 697.0 L601.5 697.0 L602.5 697.1 L603.5 697.2 L604.5 697.3M627.5 702.4 L628.5 702.5 L629.5 702.5 L630.5 702.6 L631.5 702.7 L632.5 702.7 L633.5 702.8M639.5 703.5 L640.5 703.7 L641.5 703.8 L642.5 703.9 L643.5 704.0 L644.5 704.1 L645.5 704.1 L646.5 704.0 L647.5 703.9 L648.5 703.8 L649.5 703.7 L650.5 703.5 L651.5 703.3 L652.5 703.1 L653.5 702.9 L654.5 702.7 L655.5 702.4 L656.5 702.2 L657.5 702.0 L658.5 701.8 L659.5 701.5 L660.5 701.3 L661.5 701.0 L662.5 700.8 L663.5 700.5 L664.5 700.3 L665.5 700.0 L666.5 699.7 L667.5 699.5 L668.5 699.2 L669.5 699.0 L670.5 698.7 L671.5 698.5 L672.5 698.2 L673.5 698.0 L674.5 697.7 L675.5 697.5 L676.5 697.2 L677.5 697.0 L678.5 696.7 L679.5 696.5 L680.5 696.2 L681.5 696.0 L682.5 695.7 L683.5 695.5 L684.5 695.2 L685.5 695.0 L686.5 694.7 L687.5 694.5 L688.5 694.2 L689.5 694.0 L690.5 693.7 L691.5 693.5 L692.5 693.2 L693.5 693.0 L694.5 692.7 L695.5 692.5 L696.5 692.2 L697.5 692.0 L698.5 691.7 L699.5 691.5 L700.5 691.2 L701.5 691.0 L702.5 690.7 L703.5 690.5 L704.5 690.2 L705.5 690.0 L706.5 689.7 L707.5 689.5 L708.5 689.2 L709.5 688.9 L710.5 688.7 L711.5 688.4 L712.5 688.2 L713.5 688.0 L714.5 687.7 L715.5 687.5 L716.5 687.3 L717.5 687.1 L718.5 686.9 L719.5 686.7 L720.5 686.5 L721.5 686.3 L722.5 686.1 L723.5 685.9 L724.5 685.7 L725.5 685.5 L726.5 685.3 L727.5 685.0 L728.5 684.8 L729.5 684.5 L730.5 684.2 L731.5 684.0 L732.5 683.7 L733.5 683.4 L734.5 683.0 L735.5 682.7 L736.5 682.4 L737.5 682.1 L738.5 681.7 L739.5 681.4 L740.5 681.0 L741.5 680.7 L742.5 680.3 L743.5 679.9 L744.5 679.6 L745.5 679.2 L746.5 678.8 L747.5 678.4 L748.5 678.0 L749.5 677.6 L750.5 677.2 L751.5 676.9 L752.5 676.5 L753.5 676.1 L754.5 675.7 L755.5 675.3 L756.5 674.9 L757.5 674.5 L758.5 674.1 L759.5 673.8 L760.5 673.4 L761.5 673.1 L762.5 672.8 L763.5 672.5 L764.5 672.2 L765.5 672.0 L766.5 671.7 L767.5 671.5 L768.5 671.2 L769.5 671.0 L770.5 670.7 L771.5 670.5 L772.5 670.3 L773.5 670.1 L774.5 669.8 L775.5 669.6 L776.5 669.4 L777.5 669.2 L778.5 669.0 L779.5 668.8 L780.5 668.6 L781.5 668.4 L782.5 668.2 L783.5 668.0 L784.5 667.8 L785.5 667.7 L786.5 667.5 L787.5 667.3 L788.5 667.1 L789.5 667.0 L790.5 666.8 L791.5 666.6 L792.5 666.5 L793.5 666.3 L794.5 666.1 L795.5 665.9 L796.5 665.7 L797.5 665.5 L798.5 665.3 L799.5 665.1 L800.5 664.9 L801.5 664.6 L802.5 664.4 L803.5 664.1 L804.5 663.9 L805.5 663.6 L806.5 663.3 L807.5 663.1 L808.5 662.8 L809.5 662.4 L810.5 662.1 L811.5 661.8 L812.5 661.4 L813.5 661.1 L814.5 660.7 L815.5 660.3 L816.5 659.9 L817.5 659.5 L818.5 659.1 L819.5 658.7 L820.5 658.3 L821.5 657.8 L822.5 657.4 L823.5 656.9 L824.5 656.4 L825.5 655.9 L826.5 655.4 L827.5 654.9 L828.5 654.3 L829.5 653.8 L830.5 653.3 L831.5 652.8 L832.5 652.3 L833.5 651.9 L834.5 651.4 L835.5 651.0 L836.5 650.5 L837.5 650.0 L838.5 649.4 L839.5 648.8 L840.5 648.1 L841.5 647.3 L842.5 646.5 L843.5 645.5 L844.5 644.6 L845.5 643.5 L846.5 642.5 L847.5 641.6 L848.5 640.6 L849.5 639.7 L850.5 638.9 L851.5 638.1 L852.5 637.4 L853.5 636.6 L854.5 635.9 L855.5 635.2 L856.5 634.5 L857.5 633.7 L858.5 633.0 L859.5 632.3 L860.5 631.5 L861.5 630.8 L862.5 630.0 L863.5 629.3 L864.5 628.5 L865.5 627.7 L866.5 626.8 L867.5 626.0 L868.5 625.1 L869.5 624.2 L870.5 623.2 L871.5 622.3 L872.5 621.3 L873.5 620.2 L874.5 619.1 L875.5 618.0 L876.5 616.8 L877.5 615.6 L878.5 614.4 L879.5 613.1 L880.5 611.8 L881.5 610.4 L882.5 609.1 L883.5 607.7 L884.5 606.2 L885.5 604.7 L886.5 603.2 L887.5 601.6 L888.5 599.9 L889.5 598.2 L890.5 596.5 L891.5 594.7 L892.5 592.9 L893.5 591.0 L894.5 589.2 L895.5 587.3 L896.5 585.5 L897.5 583.6 L898.5 581.8 L899.5 580.0 L900.5 578.2 L901.5 576.5 L902.5 574.8 L903.5 573.2 L904.5 571.7 L905.5 570.2 L906.5 568.9 L907.5 567.6 L908.5 566.3 L909.5 565.1 L910.5 563.9 L911.5 562.6 L912.5 561.4 L913.5 560.1 L914.5 558.8 L915.5 557.5 L916.5 556.2 L917.5 554.8 L918.5 553.4 L919.5 552.0 L920.5 550.5 L921.5 548.9 L922.5 547.2 L923.5 545.4 L924.5 543.5 L925.5 541.4 L926.5 539.3 L927.5 537.1 L928.5 534.8 L929.5 532.5 L930.5 530.3 L931.5 528.1 L932.5 526.0 L933.5 523.9 L934.5 521.9 L935.5 520.1 L936.5 518.3 L937.5 516.6 L938.5 514.9 L939.5 513.2 L940.5 511.5 L941.5 509.8 L942.5 508.1 L943.5 506.3 L944.5 504.5 L945.5 502.7 L946.5 500.9 L947.5 499.1 L948.5 497.2 L949.5 495.4 L950.5 493.5 L951.5 491.6 L952.5 489.8 L953.5 487.9 L954.5 486.1 L955.5 484.3 L956.5 482.5 L957.5 480.7 L958.5 479.0 L959.5 477.3 L960.5 475.6 L961.5 473.9 L962.5 472.2 L963.5 470.5 L964.5 468.8 L965.5 467.1 L966.5 465.4 L967.5 463.7 L968.5 462.0 L969.5 460.3 L970.5 458.6 L971.5 457.0 L972.5 455.3 L973.5 453.6 L974.5 451.9 L975.5 450.3 L976.5 448.7 L977.5 447.2 L978.5 445.8 L979.5 444.4 L980.5 442.9 L981.5 441.5 L982.5 439.9 L983.5 438.2 L984.5 436.4 L985.5 434.5 L986.5 432.6 L987.5 430.8 L988.5 429.0 L989.5 427.4 L990.5 425.9 L991.5 424.6 L992.5 423.4 L993.5 422.3 L994.5 421.3 L995.5 420.3 L996.5 419.4 L997.5 418.4 L998.5 417.5 L999.5 416.6 L1000.5 415.7 L1001.5 414.8 L1002.5 413.9 L1003.5 412.9 L1004.5 412.0 L1005.5 411.1 L1006.5 410.1 L1007.5 409.2 L1008.5 408.3 L1009.5 407.4 L1010.5 406.5 L1011.5 405.8 L1012.5 405.1 L1013.5 404.5 L1014.5 403.9 L1015.5 403.5 L1016.5 403.2 L1017.5 402.9 L1018.5 402.6 L1019.5 402.3 L1020.5 402.1 L1021.5 401.9 L1022.5 401.7 L1023.5 401.5 L1024.5 401.3 L1025.5 401.1 L1026.5 401.0 L1027.5 400.8 L1028.5 400.7 L1029.5 400.5 L1030.5 400.4 L1031.5 400.2 L1032.5 400.0 L1033.5 399.9 L1034.5 399.7 L1035.5 399.6 L1036.5 399.4 L1037.5 399.3 L1038.5 399.1 L1039.5 399.0 L1040.5 398.8 L1041.5 398.7 L1042.5 398.5 L1043.5 398.4 L1044.5 398.3 L1045.5 398.2 L1046.5 398.1 L1047.5 398.0 L1048.5 398.0 L1049.5 397.9 L1050.5 397.8 L1051.5 397.8 L1052.5 397.7 L1053.5 397.6 L1054.5 397.6 L1055.5 397.5 L1056.5 397.5 L1057.5 397.4 L1058.5 397.4 L1059.5 397.3 L1060.5 397.3 L1061.5 397.2 L1062.5 397.1 L1063.5 397.1 L1064.5 397.0 L1065.5 397.0 L1066.5 396.9 L1067.5 396.9 L1068.5 396.8 L1069.5 396.8 L1070.5 396.7 L1071.5 396.6 L1072.5 396.6 L1073.5 396.5 L1074.5 396.4 L1075.5 396.3 L1076.5 396.2 L1077.5 396.1 L1078.5 396.0 L1079.5 395.9 L1080.5 395.7 L1081.5 395.6 L1082.5 395.3 L1083.5 395.1 L1084.5 394.9 L1085.5 394.6 L1086.5 394.3 L1087.5 394.0 L1088.5 393.7 L1089.5 393.4 L1090.5 393.0 L1091.5 392.7 L1092.5 392.3 L1093.5 391.9 L1094.5 391.5 L1095.5 391.0 L1096.5 390.5 L1097.5 390.1 L1098.5 389.6 L1099.5 389.1 L1100.5 388.6 L1101.5 388.1 L1102.5 387.6 L1103.5 387.1 L1104.5 386.6 L1105.5 386.1 L1106.5 385.6 L1107.5 385.1 L1108.5 384.6 L1109.5 384.1 L1110.5 383.6 L1111.5 383.1 L1112.5 382.6 L1113.5 382.2 L1114.5 381.7 L1115.5 381.3 L1116.5 380.8 L1117.5 380.4 L1118.5 380.0 L1119.5 379.6 L1120.5 379.2 L1121.5 378.8 L1122.5 378.5 L1123.5 378.1 L1124.5 377.7 L1125.5 377.3 L1126.5 376.9 L1127.5 376.5 L1128.5 376.1 L1129.5 375.7 L1130.5 375.3 L1131.5 374.9 L1132.5 374.6 L1133.5 374.2 L1134.5 373.8 L1135.5 373.4 L1136.5 373.0 L1137.5 372.6 L1138.5 372.2 L1139.5 371.8 L1140.5 371.4 L1141.5 370.9 L1142.5 370.4 L1143.5 369.9 L1144.5 369.4 L1145.5 368.9 L1146.5 368.4 L1147.5 368.1 L1148.5 367.8 L1149.5 367.5 L1150.5 367.1 L1151.5 366.7 L1152.5 366.2 L1153.5 365.5 L1154.5 364.6 L1155.5 363.7 L1156.5 362.7 L1157.5 361.7 L1158.5 360.7 L1159.5 359.8 L1160.5 358.9 L1161.5 358.1 L1162.5 357.2 L1163.5 356.4 L1164.5 355.6 L1165.5 354.7 L1166.5 353.9 L1167.5 353.1 L1168.5 352.2 L1169.5 351.4 L1170.5 350.5 L1171.5 349.7 L1172.5 348.8 L1173.5 348.0 L1174.5 347.2 L1175.5 346.4 L1176.5 345.6 L1177.5 344.8 L1178.5 344.0 L1179.5 343.3 L1180.5 342.5 L1181.5 341.8 L1182.5 341.1 L1183.5 340.4 L1184.5 339.7 L1185.5 339.1 L1186.5 338.4 L1187.5 337.8 L1188.5 337.1 L1189.5 336.5 L1190.5 336.0 L1191.5 335.4 L1192.5 334.8 L1193.5 334.2 L1194.5 333.7 L1195.5 333.1 L1196.5 332.6 L1197.5 332.1 L1198.5 331.6 L1199.5 331.1 L1200.5 330.6 L1201.5 330.2 L1202.5 329.7 L1203.5 329.3 L1204.5 328.9 L1205.5 328.5 L1206.5 328.2 L1207.5 327.8 L1208.5 327.5 L1209.5 327.2 L1210.5 327.0 L1211.5 326.8 L1212.5 326.6 L1213.5 326.4 L1214.5 326.3 L1215.5 326.1 L1216.5 326.0 L1217.5 325.9 L1218.5 325.8 L1219.5 325.6 L1220.5 325.5 L1221.5 325.4 L1222.5 325.3 L1223.5 325.2 L1224.5 325.1 L1225.5 325.0 L1226.5 324.9 L1227.5 324.8 L1228.5 324.7 L1229.5 324.6 L1230.5 324.5 L1231.5 324.4 L1232.5 324.4 L1233.5 324.3 L1234.5 324.2 L1235.5 324.2 L1236.5 324.2 L1237.5 324.1 L1238.5 324.1 L1239.5 324.2 L1240.5 324.2 L1241.5 324.2 L1242.5 324.2 L1243.5 324.3 L1244.5 324.3 L1245.5 324.4 L1246.5 324.4 L1247.5 324.5 L1248.5 324.5 L1249.5 324.6 L1250.5 324.6 L1251.5 324.7 L1252.5 324.7 L1253.5 324.8 L1254.5 324.8 L1255.5 324.9 L1256.5 324.9 L1257.5 325.0M1258.5 325.0 L1259.5 325.1 L1260.5 325.1 L1261.5 325.1 L1262.5 325.2 L1263.5 325.2 L1264.5 325.2 L1265.5 325.3 L1266.5 325.3 L1267.5 325.3 L1268.5 325.3 L1269.5 325.3 L1270.5 325.3 L1271.5 325.3 L1272.5 325.3 L1273.5 325.3 L1274.5 325.3 L1275.5 325.3 L1276.5 325.3 L1277.5 325.3 L1278.5 325.3 L1279.5 325.3 L1280.5 325.3 L1281.5 325.3 L1282.5 325.3 L1283.5 325.3 L1284.5 325.3 L1285.5 325.3 L1286.5 325.3 L1287.5 325.3 L1288.5 325.3 L1289.5 325.3 L1290.5 325.3 L1291.5 325.3 L1292.5 325.3 L1293.5 325.3 L1294.5 325.3 L1295.5 325.3 L1296.5 325.3 L1297.5 325.3 L1298.5 325.3 L1299.5 325.3 L1300.5 325.3 L1301.5 325.3 L1302.5 325.3 L1303.5 325.3 L1304.5 325.3 L1305.5 325.3 L1306.5 325.3 L1307.5 325.3 L1308.5 325.3 L1309.5 325.3 L1310.5 325.3 L1311.5 325.3 L1312.5 325.2 L1313.5 325.2 L1314.5 325.2 L1315.5 325.1 L1316.5 325.0 L1317.5 325.0 L1318.5 324.9 L1319.5 324.8 L1320.5 324.8 L1321.5 324.7 L1322.5 324.6 L1323.5 324.5 L1324.5 324.5 L1325.5 324.4 L1326.5 324.3 L1327.5 324.3 L1328.5 324.2 L1329.5 324.1 L1330.5 324.1 L1331.5 324.0 L1332.5 323.9 L1333.5 323.9 L1334.5 323.8 L1335.5 323.7 L1336.5 323.7 L1337.5 323.6 L1338.5 323.6 L1339.5 323.6 L1340.5 323.5 L1341.5 323.5 L1342.5 323.5 L1343.5 323.4 L1344.5 323.4 L1345.5 323.4 L1346.5 323.3 L1347.5 323.3 L1348.5 323.3 L1349.5 323.3 L1350.5 323.3 L1351.5 323.3 L1352.5 323.3 L1353.5 323.3 L1354.5 323.4 L1355.5 323.5 L1356.5 323.6M1628.5 405.9 L1629.5 405.9M1632.5 406.1 L1633.5 406.1 L1634.5 406.2 L1635.5 406.3M1654.5 406.9 L1655.5 406.9 L1656.5 406.9 L1657.5 406.9 L1658.5 406.9 L1659.5 406.9 L1660.5 406.9 L1661.5 406.8 L1662.5 406.8 L1663.5 406.8 L1664.5 406.8 L1665.5 406.8 L1666.5 406.7"/>
<path stroke="#d67b26" d="M143.5 750.4 L144.5 750.5 L145.5 750.7 L146.5 751.0 L147.5 751.3 L148.5 751.6 L149.5 752.0 L150.5 752.3 L151.5 752.7 L152.5 753.1 L153.5 753.5 L154.5 754.0 L155.5 754.4 L156.5 754.9 L157.5 755.4 L158.5 756.0 L159.5 756.5 L160.5 757.0 L161.5 757.5 L162.5 758.0 L163.5 758.5 L164.5 758.9 L165.5 759.4 L166.5 759.8 L167.5 760.2 L168.5 760.6 L169.5 761.0 L170.5 761.4 L171.5 761.8 L172.5 762.2 L173.5 762.6 L174.5 763.0 L175.5 763.4 L176.5 763.7 L177.5 764.1 L178.5 764.5 L179.5 764.9 L180.5 765.3 L181.5 765.7 L182.5 766.0 L183.5 766.4 L184.5 766.8 L185.5 767.2 L186.5 767.6 L187.5 767.9 L188.5 768.3 L189.5 768.7 L190.5 769.1 L191.5 769.5 L192.5 769.9 L193.5 770.3 L194.5 770.7 L195.5 771.1 L196.5 771.5 L197.5 771.9 L198.5 772.3 L199.5 772.7 L200.5 773.1 L201.5 773.6 L202.5 774.0 L203.5 774.4 L204.5 774.8 L205.5 775.3 L206.5 775.7 L207.5 776.1 L208.5 776.5 L209.5 776.9 L210.5 777.3 L211.5 777.7 L212.5 778.1 L213.5 778.5 L214.5 778.8 L215.5 779.2 L216.5 779.6 L217.5 780.0 L218.5 780.3 L219.5 780.7 L220.5 781.1 L221.5 781.4 L222.5 781.8 L223.5 782.1 L224.5 782.5 L225.5 782.8 L226.5 783.1 L227.5 783.5 L228.5 783.8 L229.5 784.1 L230.5 784.4 L231.5 784.7 L232.5 785.0 L233.5 785.4 L234.5 785.7 L235.5 785.9 L236.5 786.2 L237.5 786.5 L238.5 786.8 L239.5 787.1 L240.5 787.4 L241.5 787.7 L242.5 787.9 L243.5 788.2 L244.5 788.5 L245.5 788.7 L246.5 789.0 L247.5 789.2 L248.5 789.5 L249.5 789.8 L250.5 790.0 L251.5 790.3 L252.5 790.5 L253.5 790.7 L254.5 791.0 L255.5 791.2 L256.5 791.4 L257.5 791.7 L258.5 791.9 L259.5 792.2 L260.5 792.4 L261.5 792.7 L262.5 792.9 L263.5 793.2 L264.5 793.4 L265.5 793.7 L266.5 793.9 L267.5 794.1 L268.5 794.3 L269.5 794.5 L270.5 794.6 L271.5 794.7 L272.5 794.7 L273.5 794.7 L274.5 794.7 L275.5 794.7M604.5 697.3 L605.5 697.5 L606.5 697.7 L607.5 697.9 L608.5 698.1 L609.5 698.3 L610.5 698.6 L611.5 698.8 L612.5 699.1 L613.5 699.3 L614.5 699.6 L615.5 699.9 L616.5 700.2 L617.5 700.4 L618.5 700.7 L619.5 701.0 L620.5 701.3 L621.5 701.5 L622.5 701.7 L623.5 701.9 L624.5 702.0 L625.5 702.2 L626.5 702.3 L627.5 702.4M633.5 702.8 L634.5 702.9 L635.5 703.0 L636.5 703.1 L637.5 703.2 L638.5 703.4 L639.5 703.5M1257.5 325.0 L1258.5 325.0M1356.5 323.6 L1357.5 323.8 L1358.5 324.0 L1359.5 324.3 L1360.5 324.6 L1361.5 324.8 L1362.5 325.1 L1363.5 325.3 L1364.5 325.6 L1365.5 325.8 L1366.5 326.1 L1367.5 326.3 L1368.5 326.6 L1369.5 326.8 L1370.5 327.1 L1371.5 327.3 L1372.5 327.6 L1373.5 327.8 L1374.5 328.1 L1375.5 328.4 L1376.5 328.6 L1377.5 328.9 L1378.5 329.2 L1379.5 329.4 L1380.5 329.7 L1381.5 330.0 L1382.5 330.3 L1383.5 330.5 L1384.5 330.8 L1385.5 331.1 L1386.5 331.3 L1387.5 331.6 L1388.5 331.8 L1389.5 332.1 L1390.5 332.4 L1391.5 332.7 L1392.5 333.1 L1393.5 333.6 L1394.5 334.0 L1395.5 334.5 L1396.5 335.1 L1397.5 335.6 L1398.5 336.2 L1399.5 336.8 L1400.5 337.4 L1401.5 338.0 L1402.5 338.5 L1403.5 339.1 L1404.5 339.7 L1405.5 340.2 L1406.5 340.7 L1407.5 341.3 L1408.5 341.8 L1409.5 342.3 L1410.5 342.9 L1411.5 343.4 L1412.5 343.9 L1413.5 344.4 L1414.5 345.0 L1415.5 345.5 L1416.5 346.0 L1417.5 346.5 L1418.5 347.0 L1419.5 347.5 L1420.5 347.9 L1421.5 348.4 L1422.5 348.9 L1423.5 349.3 L1424.5 349.8 L1425.5 350.3 L1426.5 350.7 L1427.5 351.2 L1428.5 351.6 L1429.5 352.0 L1430.5 352.4 L1431.5 352.8 L1432.5 353.2 L1433.5 353.6 L1434.5 354.0 L1435.5 354.3 L1436.5 354.7 L1437.5 355.0 L1438.5 355.3 L1439.5 355.6 L1440.5 355.9 L1441.5 356.2 L1442.5 356.5 L1443.5 356.8 L1444.5 357.1 L1445.5 357.5 L1446.5 357.8 L1447.5 358.1 L1448.5 358.5 L1449.5 358.8 L1450.5 359.2 L1451.5 359.6 L1452.5 360.0 L1453.5 360.4 L1454.5 360.8 L1455.5 361.2 L1456.5 361.6 L1457.5 362.0 L1458.5 362.5 L1459.5 362.9 L1460.5 363.3 L1461.5 363.7 L1462.5 364.0 L1463.5 364.4 L1464.5 364.8 L1465.5 365.2 L1466.5 365.5 L1467.5 365.9 L1468.5 366.3 L1469.5 366.6 L1470.5 367.0 L1471.5 367.3 L1472.5 367.7 L1473.5 368.1 L1474.5 368.4 L1475.5 368.8 L1476.5 369.1 L1477.5 369.5 L1478.5 369.8 L1479.5 370.2 L1480.5 370.6 L1481.5 370.9 L1482.5 371.3 L1483.5 371.7 L1484.5 372.1 L1485.5 372.4 L1486.5 372.8 L1487.5 373.1 L1488.5 373.5 L1489.5 373.8 L1490.5 374.2 L1491.5 374.5 L1492.5 374.9 L1493.5 375.2 L1494.5 375.5 L1495.5 375.8 L1496.5 376.1 L1497.5 376.4 L1498.5 376.7 L1499.5 377.0 L1500.5 377.3 L1501.5 377.6 L1502.5 377.9 L1503.5 378.2 L1504.5 378.5 L1505.5 378.8 L1506.5 379.1 L1507.5 379.3 L1508.5 379.6 L1509.5 379.9 L1510.5 380.1 L1511.5 380.4 L1512.5 380.7 L1513.5 380.9 L1514.5 381.2 L1515.5 381.4 L1516.5 381.7 L1517.5 382.0 L1518.5 382.2 L1519.5 382.5 L1520.5 382.7 L1521.5 383.0 L1522.5 383.3 L1523.5 383.6 L1524.5 383.9 L1525.5 384.2 L1526.5 384.6 L1527.5 384.9 L1528.5 385.2 L1529.5 385.5 L1530.5 385.8 L1531.5 386.1 L1532.5 386.3 L1533.5 386.4 L1534.5 386.6 L1535.5 386.6 L1536.5 386.6 L1537.5 386.6 L1538.5 386.5 L1539.5 386.5 L1540.5 386.5 L1541.5 386.6 L1542.5 386.8 L1543.5 387.0 L1544.5 387.4 L1545.5 387.7 L1546.5 388.2 L1547.5 388.6 L1548.5 389.0 L1549.5 389.4 L1550.5 389.9 L1551.5 390.3 L1552.5 390.6 L1553.5 391.0 L1554.5 391.4 L1555.5 391.7 L1556.5 392.1 L1557.5 392.4 L1558.5 392.8 L1559.5 393.1 L1560.5 393.5 L1561.5 393.8 L1562.5 394.2 L1563.5 394.5 L1564.5 394.9 L1565.5 395.2 L1566.5 395.6 L1567.5 395.9 L1568.5 396.3 L1569.5 396.6 L1570.5 397.0 L1571.5 397.3 L1572.5 397.7 L1573.5 398.0 L1574.5 398.4 L1575.5 398.7 L1576.5 399.0 L1577.5 399.4 L1578.5 399.7 L1579.5 400.0 L1580.5 400.3 L1581.5 400.6 L1582.5 400.9 L1583.5 401.2 L1584.5 401.5 L1585.5 401.7 L1586.5 402.0 L1587.5 402.2 L1588.5 402.4 L1589.5 402.7 L1590.5 402.9 L1591.5 403.1 L1592.5 403.3 L1593.5 403.4 L1594.5 403.6 L1595.5 403.8 L1596.5 403.9 L1597.5 404.0 L1598.5 404.1 L1599.5 404.2 L1600.5 404.3 L1601.5 404.4 L1602.5 404.5 L1603.5 404.6 L1604.5 404.6 L1605.5 404.7 L1606.5 404.8 L1607.5 404.8 L1608.5 404.9 L1609.5 404.9 L1610.5 405.0 L1611.5 405.1 L1612.5 405.1 L1613.5 405.2 L1614.5 405.2 L1615.5 405.3 L1616.5 405.3 L1617.5 405.4 L1618.5 405.4 L1619.5 405.5 L1620.5 405.5 L1621.5 405.5 L1622.5 405.6 L1623.5 405.6 L1624.5 405.7 L1625.5 405.7 L1626.5 405.8 L1627.5 405.8 L1628.5 405.9M1629.5 405.9 L1630.5 406.0 L1631.5 406.0 L1632.5 406.1M1635.5 406.3 L1636.5 406.3 L1637.5 406.4 L1638.5 406.4 L1639.5 406.5 L1640.5 406.5 L1641.5 406.6 L1642.5 406.6 L1643.5 406.7 L1644.5 406.7 L1645.5 406.7 L1646.5 406.8 L1647.5 406.8 L1648.5 406.9 L1649.5 406.9 L1650.5 406.9 L1651.5 406.9 L1652.5 406.9 L1653.5 406.9 L1654.5 406.9"/>
<path stroke="#8f5fc0" d="M10.5 727.0 L11.5 727.2 L12.5 727.5 L13.5 727.9 L14.5 728.3 L15.5 728.6 L16.5 728.9 L17.5 729.2 L18.5 729.4 L19.5 729.5 L20.5 729.6 L21.5 729.7 L22.5 729.8 L23.5 729.8 L24.5 729.9 L25.5 729.9 L26.5 729.8 L27.5 729.7 L28.5 729.6 L29.5 729.3 L30.5 729.0 L31.5 728.7 L32.5 728.4 L33.5 728.0 L34.5 727.7 L35.5 727.4 L36.5 727.1 L37.5 726.9 L38.5 726.6 L39.5 726.4 L40.5 726.2 L41.5 726.1 L42.5 726.1 L43.5 726.2 L44.5 726.4 L45.5 726.7 L46.5 727.1 L47.5 727.5 L48.5 727.9 L49.5 728.3 L50.5 728.7 L51.5 729.0 L52.5 729.3 L53.5 729.6 L54.5 729.8 L55.5 730.0 L56.5 730.2 L57.5 730.3 L58.5 730.5 L59.5 730.7 L60.5 730.8 L61.5 730.9 L62.5 731.1 L63.5 731.1 L64.5 731.2 L65.5 731.2 L66.5 731.2 L67.5 731.1 L68.5 731.0 L69.5 730.9 L70.5 730.8 L71.5 730.7 L72.5 730.6 L73.5 730.5 L74.5 730.5 L75.5 730.5 L76.5 730.6 L77.5 730.7 L78.5 730.8 L79.5 731.0 L80.5 731.2 L81.5 731.4 L82.5 731.6 L83.5 731.8 L84.5 732.1 L85.5 732.3 L86.5 732.5 L87.5 732.7 L88.5 732.9 L89.5 733.1 L90.5 733.2 L91.5 733.3 L92.5 733.5 L93.5 733.6 L94.5 733.7 L95.5 733.8 L96.5 733.9 L97.5 734.0 L98.5 734.1 L99.5 734.2 L100.5 734.3 L101.5 734.4 L102.5 734.5 L103.5 734.6 L104.5 734.7 L105.5 734.8 L106.5 734.8 L107.5 734.9 L108.5 735.0 L109.5 735.1 L110.5 735.2 L111.5 735.3 L112.5 735.4 L113.5 735.4 L114.5 735.5 L115.5 735.6 L116.5 735.7 L117.5 735.8 L118.5 735.8 L119.5 735.9 L120.5 736.0 L121.5 736.1 L122.5 736.2 L123.5 736.2 L124.5 736.3 L125.5 736.4 L126.5 736.4 L127.5 736.5 L128.5 736.6 L129.5 736.6 L130.5 736.7 L131.5 736.8 L132.5 736.8 L133.5 736.8 L134.5 736.9 L135.5 736.9 L136.5 737.0 L137.5 737.0 L138.5 737.0 L139.5 737.1 L140.5 737.2 L141.5 737.3 L142.5 737.6M275.5 807.6 L276.5 807.0 L277.5 806.3 L278.5 805.6 L279.5 805.0 L280.5 804.3 L281.5 803.7 L282.5 803.1 L283.5 802.6 L284.5 802.1 L285.5 801.6 L286.5 801.3 L287.5 800.9 L288.5 800.6 L289.5 800.2 L290.5 799.9 L291.5 799.5 L292.5 799.1 L293.5 798.7 L294.5 798.3 L295.5 797.9 L296.5 797.5 L297.5 797.1 L298.5 796.7 L299.5 796.3 L300.5 795.9 L301.5 795.5 L302.5 795.1 L303.5 794.7 L304.5 794.3 L305.5 794.0 L306.5 793.6 L307.5 793.2 L308.5 792.7 L309.5 792.1 L310.5 791.4 L311.5 790.6 L312.5 789.5 L313.5 788.3 L314.5 786.9 L315.5 785.4 L316.5 783.8 L317.5 782.2 L318.5 780.7 L319.5 779.4 L320.5 778.2 L321.5 777.0 L322.5 775.8 L323.5 774.6 L324.5 773.4 L325.5 772.1 L326.5 770.9 L327.5 769.6 L328.5 768.4 L329.5 767.1 L330.5 766.0 L331.5 764.8 L332.5 763.7 L333.5 762.7 L334.5 761.8 L335.5 760.8 L336.5 760.0 L337.5 759.1 L338.5 758.3 L339.5 757.5 L340.5 756.6 L341.5 755.8 L342.5 755.0 L343.5 754.1 L344.5 753.2 L345.5 752.2 L346.5 751.1 L347.5 750.0 L348.5 748.8 L349.5 747.5 L350.5 746.1 L351.5 744.7 L352.5 743.2 L353.5 741.5 L354.5 739.9 L355.5 738.2 L356.5 736.5 L357.5 734.7 L358.5 733.0 L359.5 731.3 L360.5 729.6 L361.5 727.9 L362.5 726.2 L363.5 724.5 L364.5 722.8 L365.5 721.1 L366.5 719.4 L367.5 717.8 L368.5 716.2 L369.5 714.7 L370.5 713.4 L371.5 712.3 L372.5 711.3 L373.5 710.4 L374.5 709.6 L375.5 708.9 L376.5 708.2 L377.5 707.6 L378.5 707.0 L379.5 706.4 L380.5 705.8 L381.5 705.3 L382.5 704.7 L383.5 704.2 L384.5 703.7 L385.5 703.2 L386.5 702.7 L387.5 702.2 L388.5 701.7 L389.5 701.2 L390.5 700.6 L391.5 699.9 L392.5 699.1 L393.5 698.1 L394.5 697.1 L395.5 696.1 L396.5 695.1 L397.5 694.1 L398.5 693.2 L399.5 692.4 L400.5 691.7 L401.5 691.0 L402.5 690.3 L403.5 689.8 L404.5 689.3 L405.5 688.8 L406.5 688.4 L407.5 688.0 L408.5 687.7 L409.5 687.4 L410.5 687.1 L411.5 686.8 L412.5 686.5 L413.5 686.2 L414.5 685.9 L415.5 685.6 L416.5 685.3 L417.5 685.0 L418.5 684.8 L419.5 684.5 L420.5 684.2 L421.5 683.9 L422.5 683.5 L423.5 683.2 L424.5 682.8 L425.5 682.5 L426.5 682.1 L427.5 681.8 L428.5 681.4 L429.5 681.1 L430.5 680.8 L431.5 680.6 L432.5 680.4 L433.5 680.2 L434.5 679.9 L435.5 679.6 L436.5 679.2 L437.5 678.8 L438.5 678.4 L439.5 678.0 L440.5 677.8 L441.5 677.7 L442.5 677.7 L443.5 677.9 L444.5 678.2 L445.5 678.5 L446.5 678.9 L447.5 679.3 L448.5 679.7 L449.5 680.1 L450.5 680.5 L451.5 680.9 L452.5 681.2 L453.5 681.5 L454.5 681.8 L455.5 682.0 L456.5 682.3 L457.5 682.5 L458.5 682.8 L459.5 683.0 L460.5 683.3 L461.5 683.5 L462.5 683.7 L463.5 684.0 L464.5 684.3 L465.5 684.6 L466.5 684.9 L467.5 685.3 L468.5 685.6 L469.5 685.9 L470.5 686.1 L471.5 686.2 L472.5 686.1 L473.5 686.0 L474.5 685.8 L475.5 685.5 L476.5 685.1 L477.5 684.8 L478.5 684.4 L479.5 684.0 L480.5 683.8 L481.5 683.5 L482.5 683.3 L483.5 683.2 L484.5 683.1 L485.5 683.0 L486.5 682.9 L487.5 682.8 L488.5 682.7 L489.5 682.7 L490.5 682.6 L491.5 682.6 L492.5 682.5 L493.5 682.6 L494.5 682.6 L495.5 682.8 L496.5 683.0 L497.5 683.2 L498.5 683.5 L499.5 683.8M503.5 685.5 L504.5 686.0 L505.5 686.5 L506.5 687.0 L507.5 687.5 L508.5 688.0 L509.5 688.4 L510.5 688.9 L511.5 689.3 L512.5 689.7 L513.5 690.2M527.5 694.7 L528.5 694.9 L529.5 695.1 L530.5 695.2 L531.5 695.4 L532.5 695.6 L533.5 695.7 L534.5 695.9 L535.5 696.0 L536.5 696.1 L537.5 696.4 L538.5 696.7 L539.5 697.0 L540.5 697.3 L541.5 697.5 L542.5 697.4 L543.5 697.2 L544.5 697.0 L545.5 696.6 L546.5 696.3 L547.5 695.9 L548.5 695.5 L549.5 695.1 L550.5 694.7 L551.5 694.3 L552.5 693.9 L553.5 693.5 L554.5 693.0 L555.5 692.5 L556.5 692.0 L557.5 691.5 L558.5 691.0 L559.5 690.5 L560.5 689.9 L561.5 689.4 L562.5 688.9 L563.5 688.3 L564.5 687.8 L565.5 687.3 L566.5 686.8 L567.5 686.2 L568.5 685.7 L569.5 685.2 L570.5 684.7 L571.5 684.2 L572.5 683.7 L573.5 683.2 L574.5 682.8 L575.5 682.4 L576.5 682.0 L577.5 681.6 L578.5 681.2 L579.5 680.8 L580.5 680.4 L581.5 680.1 L582.5 679.8 L583.5 679.5 L584.5 679.2 L585.5 679.0 L586.5 678.8 L587.5 678.7 L588.5 678.6 L589.5 678.5 L590.5 678.4 L591.5 678.3 L592.5 678.2 L593.5 678.1 L594.5 678.0 L595.5 678.0 L596.5 677.9 L597.5 677.9 L598.5 678.0 L599.5 678.0 L600.5 678.2 L601.5 678.5 L602.5 679.0 L603.5 679.8M629.5 694.8 L630.5 694.9 L631.5 695.0M640.5 698.2 L641.5 698.5 L642.5 698.8 L643.5 699.0 L644.5 699.0 L645.5 698.9 L646.5 698.6 L647.5 698.2 L648.5 697.7 L649.5 697.2 L650.5 696.6 L651.5 696.0 L652.5 695.4 L653.5 694.8 L654.5 694.2 L655.5 693.6 L656.5 692.9 L657.5 692.3 L658.5 691.6 L659.5 691.0 L660.5 690.3 L661.5 689.7 L662.5 689.1 L663.5 688.6 L664.5 688.0 L665.5 687.5 L666.5 686.9 L667.5 686.4 L668.5 685.9 L669.5 685.4 L670.5 684.9 L671.5 684.5 L672.5 684.0 L673.5 683.5 L674.5 683.1 L675.5 682.7 L676.5 682.3 L677.5 681.9 L678.5 681.5 L679.5 681.1 L680.5 680.7 L681.5 680.3 L682.5 679.9 L683.5 679.6 L684.5 679.3 L685.5 679.0 L686.5 678.7 L687.5 678.4 L688.5 678.1 L689.5 677.8 L690.5 677.5 L691.5 677.3 L692.5 677.0 L693.5 676.8 L694.5 676.6 L695.5 676.3 L696.5 676.1 L697.5 675.9 L698.5 675.7 L699.5 675.5 L700.5 675.3 L701.5 675.2 L702.5 675.0 L703.5 674.8 L704.5 674.6 L705.5 674.5 L706.5 674.3 L707.5 674.1 L708.5 674.0 L709.5 673.8 L710.5 673.6 L711.5 673.4 L712.5 673.2 L713.5 673.0 L714.5 672.8 L715.5 672.6 L716.5 672.4 L717.5 672.2 L718.5 672.0 L719.5 671.8 L720.5 671.6 L721.5 671.4 L722.5 671.2 L723.5 671.0 L724.5 670.9 L725.5 670.7 L726.5 670.5 L727.5 670.3 L728.5 670.1 L729.5 669.9 L730.5 669.7 L731.5 669.5 L732.5 669.2 L733.5 668.8 L734.5 668.5 L735.5 668.0 L736.5 667.5 L737.5 667.0 L738.5 666.4 L739.5 665.8 L740.5 665.2 L741.5 664.6 L742.5 663.9 L743.5 663.3 L744.5 662.7 L745.5 662.1 L746.5 661.5 L747.5 660.9 L748.5 660.2 L749.5 659.6 L750.5 659.0 L751.5 658.3 L752.5 657.7 L753.5 657.1 L754.5 656.4 L755.5 655.8 L756.5 655.2 L757.5 654.6 L758.5 653.9 L759.5 653.3 L760.5 652.7 L761.5 652.0 L762.5 651.4 L763.5 650.8 L764.5 650.3 L765.5 649.7 L766.5 649.3 L767.5 648.9 L768.5 648.5 L769.5 648.2 L770.5 647.9 L771.5 647.6 L772.5 647.3 L773.5 647.1 L774.5 646.8 L775.5 646.6 L776.5 646.4 L777.5 646.2 L778.5 646.0 L779.5 645.8 L780.5 645.6 L781.5 645.4 L782.5 645.2 L783.5 645.0 L784.5 644.8 L785.5 644.7 L786.5 644.5 L787.5 644.3 L788.5 644.2 L789.5 644.0 L790.5 643.8 L791.5 643.7 L792.5 643.5 L793.5 643.3 L794.5 643.2 L795.5 643.0 L796.5 642.9 L797.5 642.7 L798.5 642.5 L799.5 642.3 L800.5 642.2 L801.5 642.0 L802.5 641.7 L803.5 641.5 L804.5 641.3 L805.5 641.0 L806.5 640.7 L807.5 640.4 L808.5 640.1 L809.5 639.8 L810.5 639.4 L811.5 639.1 L812.5 638.7 L813.5 638.3 L814.5 637.9 L815.5 637.5 L816.5 637.0 L817.5 636.6 L818.5 636.0 L819.5 635.4 L820.5 634.8 L821.5 634.0 L822.5 633.1 L823.5 632.2 L824.5 631.2 L825.5 630.2 L826.5 629.2 L827.5 628.3 L828.5 627.3 L829.5 626.3 L830.5 625.3 L831.5 624.3 L832.5 623.3 L833.5 622.3 L834.5 621.3 L835.5 620.2 L836.5 619.2 L837.5 618.2 L838.5 617.2 L839.5 616.2 L840.5 615.1 L841.5 614.1 L842.5 613.0 L843.5 611.9 L844.5 610.7 L845.5 609.5 L846.5 608.3 L847.5 607.0 L848.5 605.8 L849.5 604.6 L850.5 603.3 L851.5 602.2 L852.5 601.0 L853.5 599.9 L854.5 598.8 L855.5 597.7 L856.5 596.6 L857.5 595.5 L858.5 594.4 L859.5 593.2 L860.5 592.1 L861.5 591.0 L862.5 589.8 L863.5 588.7 L864.5 587.5 L865.5 586.3 L866.5 585.2 L867.5 584.0 L868.5 582.8 L869.5 581.6 L870.5 580.4 L871.5 579.1 L872.5 577.8 L873.5 576.3 L874.5 574.8 L875.5 573.2 L876.5 571.5 L877.5 569.8 L878.5 568.0 L879.5 566.2 L880.5 564.4 L881.5 562.4 L882.5 560.3 L883.5 557.9 L884.5 555.4 L885.5 552.7 L886.5 549.8 L887.5 546.8 L888.5 543.8 L889.5 540.7 L890.5 537.6 L891.5 534.5 L892.5 531.4 L893.5 528.4 L894.5 525.4 L895.5 522.6 L896.5 519.8 L897.5 517.1 L898.5 514.5 L899.5 512.0 L900.5 509.6 L901.5 507.3 L902.5 505.2 L903.5 503.3 L904.5 501.5 L905.5 500.0 L906.5 498.5 L907.5 497.2 L908.5 495.8 L909.5 494.6 L910.5 493.3 L911.5 492.0 L912.5 490.7 L913.5 489.4 L914.5 488.1 L915.5 486.6 L916.5 485.1 L917.5 483.6 L918.5 481.9 L919.5 480.1 L920.5 478.3 L921.5 476.3 L922.5 474.2 L923.5 471.9 L924.5 469.5 L925.5 466.9 L926.5 464.2 L927.5 461.3 L928.5 458.3 L929.5 455.3 L930.5 452.3 L931.5 449.4 L932.5 446.7 L933.5 444.0 L934.5 441.4 L935.5 438.8 L936.5 436.3 L937.5 433.8 L938.5 431.4 L939.5 429.0 L940.5 426.6 L941.5 424.3 L942.5 422.1 L943.5 419.9 L944.5 417.7 L945.5 415.6 L946.5 413.6 L947.5 411.6 L948.5 409.6 L949.5 407.7 L950.5 405.8 L951.5 403.8 L952.5 401.9 L953.5 400.0 L954.5 398.1 L955.5 396.2 L956.5 394.4 L957.5 392.5 L958.5 390.8 L959.5 389.0 L960.5 387.3 L961.5 385.7 L962.5 384.1 L963.5 382.6 L964.5 381.1 L965.5 379.7 L966.5 378.2 L967.5 376.7 L968.5 375.2 L969.5 373.7 L970.5 372.0 L971.5 370.4 L972.5 368.7 L973.5 366.9 L974.5 365.2 L975.5 363.5 L976.5 361.9 L977.5 360.3 L978.5 358.8 L979.5 357.4 L980.5 355.9 L981.5 354.6 L982.5 353.2 L983.5 351.9 L984.5 350.8 L985.5 349.7 L986.5 348.7 L987.5 347.7 L988.5 346.9 L989.5 346.2 L990.5 345.5 L991.5 344.8 L992.5 344.2 L993.5 343.6 L994.5 343.0 L995.5 342.4 L996.5 341.8 L997.5 341.2 L998.5 340.7 L999.5 340.1 L1000.5 339.5 L1001.5 339.0 L1002.5 338.4 L1003.5 337.8 L1004.5 337.2 L1005.5 336.6 L1006.5 335.9 L1007.5 335.2 L1008.5 334.5 L1009.5 333.9 L1010.5 333.3 L1011.5 332.9 L1012.5 332.6 L1013.5 332.5 L1014.5 332.6 L1015.5 332.9 L1016.5 333.3 L1017.5 333.9 L1018.5 334.5 L1019.5 335.3 L1020.5 336.1 L1021.5 337.0 L1022.5 337.9 L1023.5 338.8 L1024.5 339.7 L1025.5 340.6 L1026.5 341.4 L1027.5 342.2 L1028.5 342.9 L1029.5 343.6 L1030.5 344.3 L1031.5 344.9 L1032.5 345.6 L1033.5 346.2 L1034.5 346.8 L1035.5 347.3 L1036.5 347.9 L1037.5 348.4 L1038.5 348.9 L1039.5 349.4 L1040.5 349.9 L1041.5 350.4 L1042.5 350.9 L1043.5 351.3 L1044.5 351.7 L1045.5 352.2 L1046.5 352.6 L1047.5 353.0 L1048.5 353.4 L1049.5 353.7 L1050.5 354.1 L1051.5 354.5 L1052.5 354.8 L1053.5 355.2 L1054.5 355.5 L1055.5 355.8 L1056.5 356.1 L1057.5 356.3 L1058.5 356.6 L1059.5 356.8 L1060.5 357.1 L1061.5 357.3 L1062.5 357.5 L1063.5 357.8 L1064.5 358.0 L1065.5 358.3 L1066.5 358.6 L1067.5 358.9 L1068.5 359.2 L1069.5 359.6 L1070.5 360.0 L1071.5 360.4 L1072.5 360.8 L1073.5 361.2 L1074.5 361.6 L1075.5 361.9 L1076.5 362.1 L1077.5 362.3 L1078.5 362.4 L1079.5 362.4 L1080.5 362.4 L1081.5 362.4 L1082.5 362.3 L1083.5 362.2 L1084.5 362.1 L1085.5 362.0 L1086.5 361.8 L1087.5 361.6 L1088.5 361.3 L1089.5 361.0 L1090.5 360.6 L1091.5 360.2 L1092.5 359.8 L1093.5 359.3 L1094.5 358.9 L1095.5 358.4 L1096.5 357.9 L1097.5 357.3 L1098.5 356.8 L1099.5 356.1 L1100.5 355.4 L1101.5 354.7 L1102.5 354.0 L1103.5 353.2 L1104.5 352.5 L1105.5 351.7 L1106.5 350.9 L1107.5 350.2 L1108.5 349.4 L1109.5 348.7 L1110.5 347.9 L1111.5 347.1 L1112.5 346.3 L1113.5 345.6 L1114.5 344.8 L1115.5 344.0 L1116.5 343.3 L1117.5 342.5 L1118.5 341.9 L1119.5 341.2 L1120.5 340.5 L1121.5 339.9 L1122.5 339.3 L1123.5 338.7 L1124.5 338.1 L1125.5 337.5 L1126.5 337.0 L1127.5 336.5 L1128.5 336.0 L1129.5 335.5 L1130.5 335.0 L1131.5 334.6 L1132.5 334.2 L1133.5 333.8 L1134.5 333.4 L1135.5 333.0 L1136.5 332.7 L1137.5 332.4 L1138.5 332.1 L1139.5 331.9 L1140.5 331.8 L1141.5 331.6 L1142.5 331.5 L1143.5 331.5 L1144.5 331.4 L1145.5 331.3 L1146.5 331.2 L1147.5 331.0 L1148.5 330.5 L1149.5 329.8 L1150.5 328.8 L1151.5 327.5 L1152.5 326.0 L1153.5 324.5 L1154.5 323.0 L1155.5 321.5 L1156.5 320.1 L1157.5 318.8 L1158.5 317.5 L1159.5 316.3 L1160.5 315.0 L1161.5 313.8 L1162.5 312.5 L1163.5 311.3 L1164.5 310.0 L1165.5 308.8 L1166.5 307.6 L1167.5 306.4 L1168.5 305.3 L1169.5 304.3 L1170.5 303.3 L1171.5 302.3 L1172.5 301.3 L1173.5 300.3 L1174.5 299.3 L1175.5 298.2 L1176.5 297.2 L1177.5 296.2 L1178.5 295.3 L1179.5 294.5 L1180.5 293.7 L1181.5 293.0 L1182.5 292.4 L1183.5 291.7 L1184.5 291.1 L1185.5 290.6 L1186.5 290.0 L1187.5 289.5 L1188.5 289.0 L1189.5 288.5 L1190.5 288.1 L1191.5 287.7 L1192.5 287.4 L1193.5 287.0 L1194.5 286.7 L1195.5 286.5 L1196.5 286.2 L1197.5 285.9 L1198.5 285.7 L1199.5 285.5 L1200.5 285.3 L1201.5 285.1 L1202.5 285.0 L1203.5 285.0 L1204.5 285.0 L1205.5 285.0 L1206.5 285.0 L1207.5 285.0 L1208.5 285.0 L1209.5 285.1 L1210.5 285.2 L1211.5 285.4 L1212.5 285.6 L1213.5 285.9 L1214.5 286.1 L1215.5 286.3 L1216.5 286.6 L1217.5 286.7 L1218.5 286.9 L1219.5 287.1 L1220.5 287.2 L1221.5 287.3 L1222.5 287.5 L1223.5 287.6 L1224.5 287.7 L1225.5 287.8 L1226.5 288.0 L1227.5 288.1 L1228.5 288.2 L1229.5 288.3 L1230.5 288.4 L1231.5 288.6 L1232.5 288.7 L1233.5 288.9 L1234.5 289.0 L1235.5 289.3 L1236.5 289.5 L1237.5 289.7 L1238.5 290.0 L1239.5 290.3 L1240.5 290.7 L1241.5 291.0 L1242.5 291.3 L1243.5 291.7 L1244.5 292.0 L1245.5 292.4 L1246.5 292.8 L1247.5 293.2 L1248.5 293.6 L1249.5 294.0 L1250.5 294.4 L1251.5 294.9 L1252.5 295.4 L1253.5 295.9 L1254.5 296.5 L1255.5 297.1M1269.5 303.3 L1270.5 303.4 L1271.5 303.6 L1272.5 303.7 L1273.5 303.8 L1274.5 303.9 L1275.5 303.9 L1276.5 304.0 L1277.5 304.1 L1278.5 304.3 L1279.5 304.4 L1280.5 304.6 L1281.5 304.8 L1282.5 305.0 L1283.5 305.3 L1284.5 305.5 L1285.5 305.8M1287.5 306.4 L1288.5 306.7 L1289.5 307.1 L1290.5 307.4 L1291.5 307.8 L1292.5 308.2 L1293.5 308.5 L1294.5 308.8 L1295.5 309.1 L1296.5 309.3 L1297.5 309.4 L1298.5 309.6 L1299.5 309.7 L1300.5 309.8 L1301.5 309.9 L1302.5 310.0 L1303.5 310.0 L1304.5 310.1 L1305.5 310.1 L1306.5 310.0 L1307.5 310.0 L1308.5 309.9 L1309.5 309.8 L1310.5 309.7 L1311.5 309.5 L1312.5 309.4 L1313.5 309.2 L1314.5 308.9 L1315.5 308.7 L1316.5 308.3 L1317.5 307.9 L1318.5 307.5 L1319.5 307.2 L1320.5 306.8 L1321.5 306.6 L1322.5 306.3 L1323.5 306.1 L1324.5 306.0 L1325.5 305.9 L1326.5 305.8 L1327.5 305.8 L1328.5 305.8 L1329.5 305.8 L1330.5 305.9 L1331.5 306.1 L1332.5 306.2 L1333.5 306.4 L1334.5 306.6 L1335.5 306.9 L1336.5 307.1 L1337.5 307.3 L1338.5 307.5 L1339.5 307.8 L1340.5 308.0 L1341.5 308.3 L1342.5 308.5 L1343.5 308.8 L1344.5 309.0 L1345.5 309.1 L1346.5 309.3 L1347.5 309.4 L1348.5 309.5 L1349.5 309.6 L1350.5 309.7 L1351.5 309.8 L1352.5 310.0 L1353.5 310.2 L1354.5 310.6M1602.5 429.5 L1603.5 429.1 L1604.5 428.7 L1605.5 428.3 L1606.5 428.0 L1607.5 427.6 L1608.5 427.3 L1609.5 426.9 L1610.5 426.6 L1611.5 426.3 L1612.5 426.0 L1613.5 425.7 L1614.5 425.4 L1615.5 425.2 L1616.5 424.9 L1617.5 424.6 L1618.5 424.4 L1619.5 424.2 L1620.5 423.9M1626.5 422.9 L1627.5 422.7 L1628.5 422.5 L1629.5 422.3 L1630.5 422.1 L1631.5 421.8 L1632.5 421.6 L1633.5 421.3 L1634.5 421.1 L1635.5 420.8 L1636.5 420.6 L1637.5 420.3M1639.5 420.0 L1640.5 419.9M1653.5 420.4 L1654.5 420.1 L1655.5 419.6 L1656.5 419.2 L1657.5 418.7 L1658.5 418.2 L1659.5 417.7 L1660.5 417.2 L1661.5 416.7 L1662.5 416.1 L1663.5 415.6 L1664.5 415.1 L1665.5 414.7 L1666.5 414.4"/>
<path stroke="#d67b26" d="M142.5 737.6 L143.5 737.9 L144.5 738.5 L145.5 739.1 L146.5 739.9 L147.5 740.8 L148.5 741.9 L149.5 743.0 L150.5 744.3 L151.5 745.6 L152.5 746.9 L153.5 748.2 L154.5 749.5 L155.5 750.7 L156.5 752.0 L157.5 753.3 L158.5 754.5 L159.5 755.8 L160.5 757.1 L161.5 758.4 L162.5 759.7 L163.5 761.0 L164.5 762.3 L165.5 763.5 L166.5 764.7 L167.5 765.8 L168.5 766.9 L169.5 767.9 L170.5 768.9 L171.5 769.8 L172.5 770.7 L173.5 771.6 L174.5 772.4 L175.5 773.2 L176.5 774.1 L177.5 774.9 L178.5 775.7 L179.5 776.5 L180.5 777.3 L181.5 778.1 L182.5 778.8 L183.5 779.6 L184.5 780.4 L185.5 781.1 L186.5 781.8 L187.5 782.5 L188.5 783.2 L189.5 783.9 L190.5 784.6 L191.5 785.3 L192.5 785.9 L193.5 786.6 L194.5 787.2 L195.5 787.8 L196.5 788.4 L197.5 789.0 L198.5 789.6 L199.5 790.2 L200.5 790.8 L201.5 791.4 L202.5 791.9 L203.5 792.5 L204.5 793.1 L205.5 793.6 L206.5 794.2 L207.5 794.7 L208.5 795.2 L209.5 795.7 L210.5 796.2 L211.5 796.8 L212.5 797.2 L213.5 797.7 L214.5 798.2 L215.5 798.7 L216.5 799.2 L217.5 799.6 L218.5 800.1 L219.5 800.5 L220.5 801.0 L221.5 801.4 L222.5 801.8 L223.5 802.2 L224.5 802.6 L225.5 803.0 L226.5 803.4 L227.5 803.8 L228.5 804.1 L229.5 804.5 L230.5 804.8 L231.5 805.2 L232.5 805.5 L233.5 805.8 L234.5 806.1 L235.5 806.4 L236.5 806.7 L237.5 806.9 L238.5 807.2 L239.5 807.4 L240.5 807.7 L241.5 807.9 L242.5 808.1 L243.5 808.3 L244.5 808.5 L245.5 808.7 L246.5 808.9 L247.5 809.0 L248.5 809.2 L249.5 809.3 L250.5 809.4 L251.5 809.5 L252.5 809.6 L253.5 809.7 L254.5 809.7 L255.5 809.8 L256.5 809.9 L257.5 809.9 L258.5 810.0 L259.5 810.0 L260.5 810.1 L261.5 810.1 L262.5 810.1 L263.5 810.1 L264.5 810.1 L265.5 810.0 L266.5 809.9 L267.5 809.8 L268.5 809.7 L269.5 809.6 L270.5 809.4 L271.5 809.2 L272.5 809.0 L273.5 808.6 L274.5 808.1 L275.5 807.6M499.5 683.8 L500.5 684.2 L501.5 684.6 L502.5 685.0 L503.5 685.5M513.5 690.2 L514.5 690.6 L515.5 691.0 L516.5 691.4 L517.5 691.8 L518.5 692.1 L519.5 692.5 L520.5 692.9 L521.5 693.2 L522.5 693.5 L523.5 693.7 L524.5 694.0 L525.5 694.2 L526.5 694.4 L527.5 694.7M603.5 679.8 L604.5 680.8 L605.5 682.1 L606.5 683.5 L607.5 684.8 L608.5 686.1 L609.5 687.2 L610.5 688.2 L611.5 689.1 L612.5 689.9 L613.5 690.7 L614.5 691.3 L615.5 691.9 L616.5 692.4 L617.5 692.8 L618.5 693.2 L619.5 693.6 L620.5 693.9 L621.5 694.2 L622.5 694.5 L623.5 694.6 L624.5 694.8 L625.5 694.8 L626.5 694.8 L627.5 694.8 L628.5 694.8 L629.5 694.8M631.5 695.0 L632.5 695.2 L633.5 695.5 L634.5 695.8 L635.5 696.2 L636.5 696.6 L637.5 697.0 L638.5 697.4 L639.5 697.8 L640.5 698.2M1255.5 297.1 L1256.5 297.8 L1257.5 298.4 L1258.5 299.1 L1259.5 299.6 L1260.5 300.2 L1261.5 300.6 L1262.5 301.1 L1263.5 301.5 L1264.5 301.9 L1265.5 302.2 L1266.5 302.5 L1267.5 302.8 L1268.5 303.1 L1269.5 303.3M1285.5 305.8 L1286.5 306.1 L1287.5 306.4M1354.5 310.6 L1355.5 311.2 L1356.5 311.8 L1357.5 312.7 L1358.5 313.5 L1359.5 314.3 L1360.5 315.1 L1361.5 315.9 L1362.5 316.6 L1363.5 317.3 L1364.5 318.0 L1365.5 318.6 L1366.5 319.3 L1367.5 319.9 L1368.5 320.5 L1369.5 321.1 L1370.5 321.6 L1371.5 322.2 L1372.5 322.7 L1373.5 323.1 L1374.5 323.6 L1375.5 324.1 L1376.5 324.6 L1377.5 325.1 L1378.5 325.6 L1379.5 326.1 L1380.5 326.6 L1381.5 327.1 L1382.5 327.6 L1383.5 328.1 L1384.5 328.6 L1385.5 329.3 L1386.5 330.0 L1387.5 330.8 L1388.5 331.8 L1389.5 333.0 L1390.5 334.4 L1391.5 335.9 L1392.5 337.4 L1393.5 338.9 L1394.5 340.4 L1395.5 341.8 L1396.5 343.2 L1397.5 344.5 L1398.5 345.8 L1399.5 347.0 L1400.5 348.2 L1401.5 349.3 L1402.5 350.4 L1403.5 351.5 L1404.5 352.4 L1405.5 353.4 L1406.5 354.2 L1407.5 355.1 L1408.5 355.9 L1409.5 356.7 L1410.5 357.4 L1411.5 358.2 L1412.5 358.9 L1413.5 359.6 L1414.5 360.2 L1415.5 360.8 L1416.5 361.5 L1417.5 362.0 L1418.5 362.6 L1419.5 363.2 L1420.5 363.7 L1421.5 364.3 L1422.5 364.8 L1423.5 365.3 L1424.5 365.7 L1425.5 366.2 L1426.5 366.6 L1427.5 367.0 L1428.5 367.4 L1429.5 367.7 L1430.5 368.1 L1431.5 368.4 L1432.5 368.7 L1433.5 369.0 L1434.5 369.3 L1435.5 369.6 L1436.5 369.9 L1437.5 370.2 L1438.5 370.4 L1439.5 370.6 L1440.5 370.9 L1441.5 371.1 L1442.5 371.3 L1443.5 371.5 L1444.5 371.7 L1445.5 371.8 L1446.5 372.0 L1447.5 372.2 L1448.5 372.4 L1449.5 372.6 L1450.5 372.8 L1451.5 373.1 L1452.5 373.4 L1453.5 373.7 L1454.5 374.0 L1455.5 374.4 L1456.5 374.7 L1457.5 375.1 L1458.5 375.5 L1459.5 375.9 L1460.5 376.3 L1461.5 376.8 L1462.5 377.2 L1463.5 377.6 L1464.5 378.1 L1465.5 378.5 L1466.5 379.0 L1467.5 379.5 L1468.5 380.0 L1469.5 380.5 L1470.5 381.0 L1471.5 381.5 L1472.5 382.1 L1473.5 382.6 L1474.5 383.1 L1475.5 383.6 L1476.5 384.1 L1477.5 384.6 L1478.5 385.1 L1479.5 385.6 L1480.5 386.1 L1481.5 386.6 L1482.5 387.1 L1483.5 387.6 L1484.5 388.1 L1485.5 388.6 L1486.5 389.1 L1487.5 389.6 L1488.5 390.1 L1489.5 390.6 L1490.5 391.1 L1491.5 391.7 L1492.5 392.2 L1493.5 392.7 L1494.5 393.2 L1495.5 393.7 L1496.5 394.3 L1497.5 394.8 L1498.5 395.3 L1499.5 395.9 L1500.5 396.4 L1501.5 396.9 L1502.5 397.4 L1503.5 397.9 L1504.5 398.3 L1505.5 398.8 L1506.5 399.2 L1507.5 399.5 L1508.5 399.9 L1509.5 400.2 L1510.5 400.6 L1511.5 400.9 L1512.5 401.2 L1513.5 401.5 L1514.5 401.8 L1515.5 402.1 L1516.5 402.3 L1517.5 402.6 L1518.5 402.8 L1519.5 403.0 L1520.5 403.2 L1521.5 403.4 L1522.5 403.6 L1523.5 403.8 L1524.5 403.9 L1525.5 404.1 L1526.5 404.3 L1527.5 404.5 L1528.5 404.7 L1529.5 405.0 L1530.5 405.3 L1531.5 405.7 L1532.5 406.2 L1533.5 406.7 L1534.5 407.2 L1535.5 407.8 L1536.5 408.3 L1537.5 408.8 L1538.5 409.3 L1539.5 409.8 L1540.5 410.3 L1541.5 410.8 L1542.5 411.3 L1543.5 411.8 L1544.5 412.3 L1545.5 412.8 L1546.5 413.3 L1547.5 413.8 L1548.5 414.3 L1549.5 414.8 L1550.5 415.3 L1551.5 415.9 L1552.5 416.4 L1553.5 416.9 L1554.5 417.4 L1555.5 417.9 L1556.5 418.4 L1557.5 418.9 L1558.5 419.3 L1559.5 419.8 L1560.5 420.2 L1561.5 420.6 L1562.5 420.9 L1563.5 421.3 L1564.5 421.6 L1565.5 422.0 L1566.5 422.3 L1567.5 422.7 L1568.5 423.1 L1569.5 423.5 L1570.5 423.9 L1571.5 424.5 L1572.5 425.1 L1573.5 425.6 L1574.5 426.2 L1575.5 426.7 L1576.5 427.1 L1577.5 427.4 L1578.5 427.7 L1579.5 427.9 L1580.5 428.2 L1581.5 428.4 L1582.5 428.6 L1583.5 428.8 L1584.5 429.1 L1585.5 429.3 L1586.5 429.5 L1587.5 429.7 L1588.5 429.9 L1589.5 430.2 L1590.5 430.4 L1591.5 430.6 L1592.5 430.8 L1593.5 430.9 L1594.5 430.9 L1595.5 430.9 L1596.5 430.9 L1597.5 430.7 L1598.5 430.6 L1599.5 430.4 L1600.5 430.1 L1601.5 429.8 L1602.5 429.5M1620.5 423.9 L1621.5 423.7 L1622.5 423.6 L1623.5 423.4 L1624.5 423.2 L1625.5 423.1 L1626.5 422.9M1637.5 420.3 L1638.5 420.1 L1639.5 420.0M1640.5 419.9 L1641.5 419.9 L1642.5 419.9 L1643.5 420.0 L1644.5 420.1 L1645.5 420.2 L1646.5 420.4 L1647.5 420.5 L1648.5 420.7 L1649.5 420.8 L1650.5 420.9 L1651.5 420.8 L1652.5 420.7 L1653.5 420.4"/>
<path stroke="#8f5fc0" d="M15.5 710.9 L16.5 711.2M24.5 713.2 L25.5 712.3 L26.5 711.3 L27.5 709.4 L28.5 707.0 L29.5 704.9 L30.5 703.2 L31.5 701.6 L32.5 700.2 L33.5 698.8 L34.5 697.5 L35.5 696.3 L36.5 695.4 L37.5 694.9 L38.5 694.6 L39.5 694.4 L40.5 694.7 L41.5 695.3 L42.5 696.2 L43.5 697.2 L44.5 698.5M66.5 711.1 L67.5 710.6 L68.5 710.1 L69.5 709.6 L70.5 709.1 L71.5 708.7 L72.5 708.2 L73.5 707.8 L74.5 707.6 L75.5 707.8 L76.5 709.1 L77.5 710.9M91.5 717.7 L92.5 717.8 L93.5 717.9 L94.5 718.1 L95.5 718.2 L96.5 718.3 L97.5 718.5 L98.5 718.6 L99.5 718.7 L100.5 718.8 L101.5 719.0 L102.5 719.1 L103.5 719.2 L104.5 719.3 L105.5 719.4 L106.5 719.5 L107.5 719.6 L108.5 719.7 L109.5 719.8M112.5 720.1 L113.5 720.3 L114.5 720.4 L115.5 720.5 L116.5 720.6 L117.5 720.7 L118.5 720.8 L119.5 720.9 L120.5 721.0M132.5 721.9 L133.5 721.9 L134.5 722.0 L135.5 722.1 L136.5 722.2 L137.5 722.3 L138.5 722.4M275.5 806.5 L276.5 800.7 L277.5 796.3 L278.5 794.0 L279.5 792.2 L280.5 790.6 L281.5 789.2 L282.5 787.9 L283.5 787.0 L284.5 786.3 L285.5 785.8 L286.5 785.2 L287.5 784.7 L288.5 784.1 L289.5 783.5 L290.5 782.7 L291.5 781.9 L292.5 781.2 L293.5 780.4 L294.5 779.7 L295.5 778.9 L296.5 778.2 L297.5 777.7 L298.5 777.8 L299.5 778.1 L300.5 778.3 L301.5 778.1 L302.5 777.4 L303.5 776.6 L304.5 775.6 L305.5 774.2 L306.5 772.6 L307.5 771.0 L308.5 769.6 L309.5 767.9 L310.5 765.7 L311.5 762.4 L312.5 758.0 L313.5 751.8 L314.5 746.1 L315.5 740.8 L316.5 737.4 L317.5 735.1 L318.5 733.2 L319.5 731.5 L320.5 729.8 L321.5 728.3 L322.5 726.7 L323.5 724.9 L324.5 722.5 L325.5 719.7 L326.5 717.2 L327.5 715.4 L328.5 714.0 L329.5 712.8 L330.5 711.6 L331.5 710.4 L332.5 709.2 L333.5 708.5 L334.5 708.9 L335.5 709.9 L336.5 710.5 L337.5 710.5 L338.5 710.5 L339.5 710.5 L340.5 710.5 L341.5 710.0 L342.5 709.1 L343.5 708.0 L344.5 706.6 L345.5 704.1 L346.5 701.2 L347.5 698.5 L348.5 696.1 L349.5 693.6 L350.5 690.9 L351.5 687.7 L352.5 684.6 L353.5 682.1 L354.5 679.5 L355.5 675.9 L356.5 671.8 L357.5 667.3 L358.5 663.0 L359.5 659.1 L360.5 656.2 L361.5 654.4 L362.5 653.0 L363.5 651.8 L364.5 650.7 L365.5 649.3 L366.5 647.5 L367.5 645.5 L368.5 644.0 L369.5 643.4 L370.5 643.4 L371.5 643.5 L372.5 643.6 L373.5 643.8 L374.5 644.2 L375.5 645.2 L376.5 646.5 L377.5 647.7 L378.5 648.4 L379.5 648.8 L380.5 649.1 L381.5 649.3 L382.5 649.7 L383.5 650.3 L384.5 651.2 L385.5 652.2 L386.5 653.1 L387.5 653.9 L388.5 654.2 L389.5 653.6 L390.5 652.0 L391.5 649.8 L392.5 647.7 L393.5 645.7 L394.5 643.4 L395.5 641.0 L396.5 639.1 L397.5 637.9 L398.5 637.2 L399.5 636.8 L400.5 636.7 L401.5 637.4 L402.5 638.6 L403.5 639.8 L404.5 640.4 L405.5 640.4 L406.5 640.4 L407.5 640.4 L408.5 640.4 L409.5 640.5 L410.5 640.6 L411.5 641.0 L412.5 641.4 L413.5 641.8 L414.5 642.3 L415.5 642.9 L416.5 643.7 L417.5 644.6 L418.5 645.2 L419.5 645.4 L420.5 644.7 L421.5 643.5 L422.5 642.4 L423.5 641.6 L424.5 641.4 L425.5 641.2 L426.5 641.0 L427.5 640.8 L428.5 640.7 L429.5 640.6 L430.5 640.5 L431.5 640.4 L432.5 640.4 L433.5 640.4 L434.5 640.5 L435.5 640.6 L436.5 640.7 L437.5 640.8 L438.5 641.0 L439.5 641.2 L440.5 641.4 L441.5 641.8 L442.5 643.0M453.5 660.6 L454.5 661.4 L455.5 662.1 L456.5 662.8 L457.5 663.3 L458.5 663.8 L459.5 664.0 L460.5 664.2 L461.5 664.4 L462.5 664.6 L463.5 664.7 L464.5 665.0 L465.5 665.3M467.5 666.4 L468.5 666.9 L469.5 667.2M472.5 660.3 L473.5 658.4 L474.5 657.7 L475.5 657.2 L476.5 656.8 L477.5 656.5 L478.5 656.3 L479.5 656.1 L480.5 656.0 L481.5 655.9 L482.5 655.7 L483.5 655.7 L484.5 655.6 L485.5 655.7 L486.5 655.9 L487.5 656.4 L488.5 657.0 L489.5 657.6 L490.5 658.3 L491.5 659.1 L492.5 659.9 L493.5 661.0 L494.5 662.1M541.5 685.0 L542.5 683.4 L543.5 681.4 L544.5 679.4 L545.5 677.8 L546.5 676.5 L547.5 675.4 L548.5 674.3 L549.5 673.3 L550.5 672.4 L551.5 671.6 L552.5 671.0 L553.5 670.5 L554.5 670.0 L555.5 669.6 L556.5 669.1 L557.5 668.6 L558.5 667.8 L559.5 666.9 L560.5 665.8 L561.5 664.7 L562.5 663.6 L563.5 662.6 L564.5 661.6 L565.5 660.6 L566.5 659.6 L567.5 658.6 L568.5 657.6 L569.5 656.6 L570.5 655.5 L571.5 654.4 L572.5 653.3 L573.5 652.3 L574.5 651.4 L575.5 650.7 L576.5 650.1 L577.5 649.5 L578.5 648.9 L579.5 648.5 L580.5 648.2 L581.5 648.0 L582.5 647.8 L583.5 647.7 L584.5 647.6 L585.5 647.5 L586.5 647.5 L587.5 647.5 L588.5 647.6 L589.5 647.8 L590.5 648.1 L591.5 648.3 L592.5 648.7 L593.5 649.0M595.5 650.0 L596.5 650.6 L597.5 651.4 L598.5 652.3 L599.5 653.5 L600.5 655.1 L601.5 658.0M646.5 686.4 L647.5 684.3M648.5 682.4 L649.5 680.3 L650.5 678.2 L651.5 676.1 L652.5 674.3 L653.5 672.9 L654.5 671.5 L655.5 670.3 L656.5 669.0 L657.5 667.7 L658.5 666.3 L659.5 664.9 L660.5 663.6 L661.5 662.4 L662.5 661.2 L663.5 660.0 L664.5 658.9 L665.5 657.9 L666.5 657.1 L667.5 656.7 L668.5 656.3 L669.5 656.0 L670.5 655.7 L671.5 655.5 L672.5 655.4 L673.5 655.5 L674.5 656.2 L675.5 656.8 L676.5 656.6 L677.5 655.7 L678.5 654.4 L679.5 653.1 L680.5 652.3 L681.5 651.7 L682.5 651.1 L683.5 650.6 L684.5 650.1 L685.5 649.8 L686.5 649.4 L687.5 649.1 L688.5 648.7 L689.5 648.4 L690.5 648.2 L691.5 648.1 L692.5 648.1 L693.5 648.4 L694.5 648.7 L695.5 649.1 L696.5 649.4 L697.5 649.5 L698.5 649.5 L699.5 649.4 L700.5 649.2 L701.5 648.9 L702.5 648.8 L703.5 648.7 L704.5 648.8 L705.5 649.0 L706.5 649.4 L707.5 649.8 L708.5 650.2 L709.5 650.4 L710.5 650.6 L711.5 650.7 L712.5 650.8 L713.5 650.9 L714.5 651.0 L715.5 651.0 L716.5 650.9 L717.5 650.8 L718.5 650.6 L719.5 650.4 L720.5 650.2 L721.5 650.1 L722.5 650.1 L723.5 650.0 L724.5 650.0 L725.5 649.9 L726.5 649.9 L727.5 649.8 L728.5 649.6 L729.5 649.4 L730.5 649.0 L731.5 648.6 L732.5 647.7 L733.5 646.2 L734.5 644.5 L735.5 642.7 L736.5 640.8 L737.5 638.7 L738.5 636.6 L739.5 634.6 L740.5 632.9 L741.5 631.4 L742.5 630.1 L743.5 628.8 L744.5 627.6 L745.5 626.5 L746.5 625.5 L747.5 624.5 L748.5 623.5 L749.5 622.6 L750.5 621.6 L751.5 620.6 L752.5 619.5 L753.5 618.5 L754.5 617.6 L755.5 616.8 L756.5 616.4 L757.5 616.2 L758.5 616.0 L759.5 615.8 L760.5 615.7 L761.5 615.5 L762.5 615.3 L763.5 615.0 L764.5 614.7 L765.5 614.4 L766.5 614.1 L767.5 613.8 L768.5 613.7 L769.5 613.6 L770.5 614.1 L771.5 615.1 L772.5 616.2 L773.5 617.2 L774.5 618.0 L775.5 618.9 L776.5 619.8 L777.5 620.5 L778.5 621.0 L779.5 621.2 L780.5 621.1 L781.5 620.8 L782.5 620.4 L783.5 620.0 L784.5 619.7 L785.5 619.4 L786.5 619.3 L787.5 619.2 L788.5 619.0 L789.5 618.9 L790.5 618.9 L791.5 618.9 L792.5 618.9 L793.5 619.1 L794.5 619.2 L795.5 619.4 L796.5 619.4 L797.5 619.5 L798.5 619.4 L799.5 619.3 L800.5 619.1 L801.5 618.8 L802.5 618.3 L803.5 617.8 L804.5 617.1 L805.5 616.5 L806.5 615.9 L807.5 615.1 L808.5 614.2 L809.5 613.4 L810.5 612.6 L811.5 612.0 L812.5 611.6 L813.5 611.3 L814.5 611.1 L815.5 610.7 L816.5 610.1 L817.5 608.5 L818.5 606.3 L819.5 604.1 L820.5 602.4 L821.5 600.8 L822.5 599.3 L823.5 597.8 L824.5 596.4 L825.5 595.0 L826.5 593.7 L827.5 592.5 L828.5 591.4 L829.5 590.2 L830.5 588.9 L831.5 587.2 L832.5 584.6 L833.5 581.1 L834.5 578.3 L835.5 576.3 L836.5 574.6 L837.5 573.1 L838.5 571.7 L839.5 570.3 L840.5 568.6 L841.5 566.6 L842.5 563.9 L843.5 560.6 L844.5 557.2 L845.5 554.4 L846.5 551.6 L847.5 548.8 L848.5 546.2 L849.5 544.1 L850.5 542.6 L851.5 541.9 L852.5 541.7 L853.5 541.4 L854.5 540.8 L855.5 538.6 L856.5 536.2 L857.5 534.6 L858.5 533.2 L859.5 531.9 L860.5 530.8 L861.5 529.9 L862.5 529.3 L863.5 529.1 L864.5 529.0 L865.5 528.9 L866.5 528.7 L867.5 528.3 L868.5 527.7 L869.5 526.8 L870.5 525.6 L871.5 523.4 L872.5 518.0 L873.5 512.5 L874.5 508.8 L875.5 505.5 L876.5 502.5 L877.5 499.6 L878.5 497.0 L879.5 494.2 L880.5 491.0 L881.5 487.0 L882.5 482.6 L883.5 478.0 L884.5 473.7 L885.5 469.9 L886.5 466.1 L887.5 461.7 L888.5 455.7 L889.5 445.2 L890.5 433.0 L891.5 423.9 L892.5 419.7 L893.5 416.5 L894.5 414.0 L895.5 412.1 L896.5 410.6 L897.5 409.4 L898.5 408.3 L899.5 407.4 L900.5 406.8 L901.5 406.3 L902.5 405.9 L903.5 405.6 L904.5 405.4 L905.5 405.5 L906.5 405.9 L907.5 406.4 L908.5 406.8 L909.5 406.8 L910.5 406.5 L911.5 405.9 L912.5 405.1 L913.5 404.0 L914.5 402.3 L915.5 399.5 L916.5 396.0 L917.5 392.4 L918.5 389.1 L919.5 385.8 L920.5 382.3 L921.5 378.8 L922.5 375.2 L923.5 371.5 L924.5 367.7 L925.5 363.7 L926.5 359.5 L927.5 355.3 L928.5 351.2 L929.5 347.5 L930.5 343.9 L931.5 339.9 L932.5 336.0 L933.5 332.7 L934.5 330.3 L935.5 329.4 L936.5 329.4 L937.5 329.4 L938.5 329.4 L939.5 329.4 L940.5 329.4 L941.5 328.9 L942.5 328.2 L943.5 327.3 L944.5 326.3 L945.5 324.5 L946.5 322.1 L947.5 319.2 L948.5 316.2 L949.5 313.4 L950.5 311.1 L951.5 308.8 L952.5 306.6 L953.5 304.5 L954.5 302.5 L955.5 300.9 L956.5 299.5 L957.5 298.1 L958.5 296.8 L959.5 295.7 L960.5 294.8 L961.5 294.4 L962.5 294.4 L963.5 294.4 L964.5 294.4 L965.5 294.4 L966.5 294.3 L967.5 293.5 L968.5 292.0 L969.5 290.2 L970.5 288.6 L971.5 287.3 L972.5 286.0 L973.5 284.7 L974.5 283.5 L975.5 282.3 L976.5 281.1 L977.5 280.1 L978.5 279.1 L979.5 278.1 L980.5 277.2 L981.5 276.2 L982.5 275.1 L983.5 273.8 L984.5 272.3 L985.5 271.0 L986.5 270.0 L987.5 269.6 L988.5 269.9 L989.5 270.8 L990.5 271.9 L991.5 273.1 L992.5 274.7 L993.5 276.5 L994.5 277.8 L995.5 278.3 L996.5 278.2 L997.5 277.9 L998.5 277.5 L999.5 277.0 L1000.5 276.4 L1001.5 275.6 L1002.5 274.6 L1003.5 273.6 L1004.5 272.6 L1005.5 271.7 L1006.5 270.9 L1007.5 270.0 L1008.5 269.2 L1009.5 268.7 L1010.5 268.8 L1011.5 269.5 L1012.5 270.8 L1013.5 272.4 L1014.5 274.2 L1015.5 276.8 L1016.5 280.2 L1017.5 283.2 L1018.5 285.9 L1019.5 288.5M1025.5 302.6 L1026.5 304.7M1033.5 313.8 L1034.5 314.6 L1035.5 315.3M1039.5 317.6 L1040.5 317.8 L1041.5 317.6 L1042.5 317.2 L1043.5 316.7 L1044.5 316.4 L1045.5 316.4 L1046.5 317.5 L1047.5 319.1 L1048.5 320.9 L1049.5 322.2M1057.5 327.7 L1058.5 328.1 L1059.5 328.6M1061.5 329.7 L1062.5 330.3 L1063.5 331.0 L1064.5 331.8 L1065.5 332.6 L1066.5 333.4M1070.5 337.4 L1071.5 338.4 L1072.5 339.4M1080.5 342.0 L1081.5 340.1 L1082.5 337.6 L1083.5 334.7 L1084.5 332.4 L1085.5 330.6 L1086.5 329.0 L1087.5 327.6 L1088.5 326.2 L1089.5 324.8 L1090.5 323.4 L1091.5 321.8 L1092.5 320.3 L1093.5 318.8 L1094.5 317.2 L1095.5 315.8 L1096.5 314.4 L1097.5 313.0 L1098.5 311.7 L1099.5 310.4 L1100.5 309.1 L1101.5 308.0 L1102.5 307.1 L1103.5 306.3 L1104.5 305.6 L1105.5 304.9 L1106.5 304.2 L1107.5 303.5 L1108.5 302.6 L1109.5 301.6 L1110.5 300.6 L1111.5 299.6 L1112.5 298.5 L1113.5 297.5 L1114.5 296.5 L1115.5 295.5 L1116.5 294.4 L1117.5 293.4 L1118.5 292.4 L1119.5 291.5 L1120.5 290.6 L1121.5 289.6 L1122.5 288.7 L1123.5 288.1 L1124.5 287.7 L1125.5 287.9 L1126.5 288.6 L1127.5 289.5 L1128.5 290.1 L1129.5 290.4 L1130.5 290.6 L1131.5 290.8 L1132.5 291.0 L1133.5 291.3 L1134.5 291.6 L1135.5 292.0 L1136.5 292.5 L1137.5 293.1 L1138.5 293.6 L1139.5 294.1 L1140.5 294.6 L1141.5 295.2 L1142.5 295.8 L1143.5 296.3 L1144.5 296.6 L1145.5 296.7 L1146.5 296.2 L1147.5 295.3 L1148.5 294.0 L1149.5 292.5 L1150.5 290.7 L1151.5 288.1 L1152.5 284.7 L1153.5 281.3 L1154.5 278.2 L1155.5 275.4 L1156.5 272.7 L1157.5 270.1 L1158.5 267.5 L1159.5 265.0 L1160.5 262.3 L1161.5 259.8 L1162.5 257.7 L1163.5 256.2 L1164.5 255.0 L1165.5 254.0 L1166.5 253.1 L1167.5 252.3 L1168.5 251.4 L1169.5 250.6 L1170.5 249.9 L1171.5 249.2 L1172.5 248.5 L1173.5 247.8 L1174.5 247.1 L1175.5 246.5 L1176.5 245.9 L1177.5 245.3 L1178.5 244.6 L1179.5 243.8 L1180.5 242.7 L1181.5 241.5 L1182.5 240.2 L1183.5 239.2 L1184.5 238.3 L1185.5 237.6 L1186.5 237.1 L1187.5 236.7 L1188.5 236.4 L1189.5 236.2 L1190.5 236.2 L1191.5 236.8 L1192.5 237.8 L1193.5 238.9 L1194.5 239.5 L1195.5 240.1 L1196.5 240.7 L1197.5 241.2 L1198.5 241.6 L1199.5 242.0 L1200.5 242.3 L1201.5 242.6 L1202.5 242.8 L1203.5 243.0 L1204.5 243.3 L1205.5 243.5 L1206.5 243.7 L1207.5 243.8 L1208.5 244.1 L1209.5 245.0M1211.5 248.7 L1212.5 250.4 L1213.5 251.6 L1214.5 252.7 L1215.5 253.8 L1216.5 254.8M1217.5 255.7 L1218.5 256.5 L1219.5 257.3 L1220.5 258.2 L1221.5 259.0 L1222.5 259.8 L1223.5 260.2 L1224.5 260.4 L1225.5 260.4 L1226.5 260.4 L1227.5 260.4 L1228.5 260.4 L1229.5 260.4 L1230.5 260.4 L1231.5 260.5 L1232.5 260.8 L1233.5 261.1 L1234.5 261.6 L1235.5 262.1 L1236.5 262.7 L1237.5 264.1 L1238.5 266.0 L1239.5 268.0M1247.5 276.5 L1248.5 277.2 L1249.5 277.9M1271.5 287.1 L1272.5 286.0 L1273.5 285.5 L1274.5 285.1 L1275.5 284.8 L1276.5 284.6 L1277.5 284.4 L1278.5 284.4 L1279.5 284.8 L1280.5 285.8 L1281.5 287.1 L1282.5 288.4 L1283.5 289.3M1290.5 292.1 L1291.5 291.2 L1292.5 290.4 L1293.5 290.3 L1294.5 290.6 L1295.5 291.3 L1296.5 292.0 L1297.5 292.7M1300.5 293.1 L1301.5 293.1 L1302.5 293.1M1306.5 292.9 L1307.5 292.5 L1308.5 292.0 L1309.5 291.5 L1310.5 290.7 L1311.5 289.6 L1312.5 288.4 L1313.5 287.4 L1314.5 286.5 L1315.5 285.7 L1316.5 284.9 L1317.5 284.1 L1318.5 283.5 L1319.5 282.9 L1320.5 282.4 L1321.5 281.8 L1322.5 281.4 L1323.5 281.0 L1324.5 280.9 L1325.5 281.2 L1326.5 282.3 L1327.5 283.6 L1328.5 284.7 L1329.5 285.8 L1330.5 286.9 L1331.5 288.1 L1332.5 289.1 L1333.5 289.9 L1334.5 290.5 L1335.5 290.9 L1336.5 291.3M1338.5 291.9 L1339.5 292.2 L1340.5 292.5 L1341.5 292.7M1602.5 429.2 L1603.5 427.7 L1604.5 426.4 L1605.5 425.3 L1606.5 424.5 L1607.5 423.7 L1608.5 423.0M1609.5 422.3 L1610.5 421.6 L1611.5 420.8 L1612.5 419.9 L1613.5 419.2M1615.5 418.1 L1616.5 417.6M1627.5 418.8 L1628.5 415.5 L1629.5 413.8 L1630.5 412.6 L1631.5 411.7 L1632.5 411.4 L1633.5 411.3 L1634.5 411.2 L1635.5 411.2 L1636.5 411.2M1654.5 407.7 L1655.5 405.9 L1656.5 403.8 L1657.5 401.7 L1658.5 400.2 L1659.5 398.9 L1660.5 397.9 L1661.5 397.1 L1662.5 396.6 L1663.5 396.2 L1664.5 395.8 L1665.5 395.5 L1666.5 395.1"/>
<path stroke="#d67b26" d="M10.5 710.2 L11.5 710.3 L12.5 710.5 L13.5 710.6 L14.5 710.7 L15.5 710.9M16.5 711.2 L17.5 711.7 L18.5 712.4 L19.5 713.0 L20.5 713.6 L21.5 714.0 L22.5 714.1 L23.5 713.8 L24.5 713.2M44.5 698.5 L45.5 700.4 L46.5 702.3 L47.5 703.9 L48.5 705.3 L49.5 706.7 L50.5 708.0 L51.5 709.1 L52.5 710.1 L53.5 710.9 L54.5 711.7 L55.5 712.3 L56.5 712.8 L57.5 713.3 L58.5 713.7 L59.5 714.0 L60.5 714.1 L61.5 714.0 L62.5 713.5 L63.5 712.9 L64.5 712.2 L65.5 711.6 L66.5 711.1M77.5 710.9 L78.5 712.4 L79.5 713.3 L80.5 714.0 L81.5 714.6 L82.5 715.1 L83.5 715.6 L84.5 716.0 L85.5 716.4 L86.5 716.7 L87.5 716.9 L88.5 717.2 L89.5 717.3 L90.5 717.5 L91.5 717.7M109.5 719.8 L110.5 719.9 L111.5 720.0 L112.5 720.1M120.5 721.0 L121.5 721.1 L122.5 721.2 L123.5 721.3 L124.5 721.4 L125.5 721.4 L126.5 721.5 L127.5 721.6 L128.5 721.7 L129.5 721.7 L130.5 721.8 L131.5 721.8 L132.5 721.9M138.5 722.4 L139.5 722.6 L140.5 723.1 L141.5 723.9 L142.5 725.0 L143.5 726.2 L144.5 727.9 L145.5 730.0 L146.5 732.2 L147.5 734.4 L148.5 736.6 L149.5 738.9 L150.5 741.2 L151.5 743.5 L152.5 745.7 L153.5 747.7 L154.5 749.7 L155.5 751.6 L156.5 753.5 L157.5 755.6 L158.5 757.9 L159.5 760.4 L160.5 763.1 L161.5 765.7 L162.5 768.1 L163.5 770.4 L164.5 772.5 L165.5 774.6 L166.5 776.5 L167.5 778.4 L168.5 780.3 L169.5 782.4 L170.5 784.5 L171.5 786.1 L172.5 786.4 L173.5 786.2 L174.5 785.7 L175.5 785.2 L176.5 784.7 L177.5 784.2 L178.5 783.8 L179.5 783.9 L180.5 784.3 L181.5 784.8 L182.5 785.5 L183.5 786.1 L184.5 786.7 L185.5 787.4 L186.5 788.2 L187.5 789.0 L188.5 789.5 L189.5 789.6 L190.5 789.5 L191.5 789.4 L192.5 789.3 L193.5 789.1 L194.5 789.1 L195.5 789.4 L196.5 790.3 L197.5 791.5 L198.5 792.8 L199.5 794.0 L200.5 794.9 L201.5 795.8 L202.5 796.7 L203.5 797.6 L204.5 798.4 L205.5 799.2 L206.5 800.0 L207.5 800.7 L208.5 801.5 L209.5 802.2 L210.5 802.9 L211.5 803.5 L212.5 804.2 L213.5 804.8 L214.5 805.5 L215.5 806.1 L216.5 806.8 L217.5 807.5 L218.5 808.3 L219.5 809.1 L220.5 809.8 L221.5 810.4 L222.5 810.8 L223.5 810.9 L224.5 810.9 L225.5 810.9 L226.5 810.9 L227.5 810.9 L228.5 810.9 L229.5 810.9 L230.5 810.9 L231.5 810.9 L232.5 810.7 L233.5 810.2 L234.5 809.5 L235.5 808.7 L236.5 807.9 L237.5 807.3 L238.5 806.8 L239.5 806.7 L240.5 806.9 L241.5 807.2 L242.5 807.6 L243.5 808.0 L244.5 808.5 L245.5 808.9 L246.5 809.2 L247.5 809.4 L248.5 809.5 L249.5 809.6 L250.5 809.7 L251.5 809.8 L252.5 809.9 L253.5 810.0 L254.5 810.0 L255.5 810.1 L256.5 810.1 L257.5 810.1 L258.5 810.1 L259.5 810.1 L260.5 810.0 L261.5 810.0 L262.5 809.9 L263.5 809.8 L264.5 809.7 L265.5 809.6 L266.5 809.5 L267.5 809.4 L268.5 809.3 L269.5 809.2 L270.5 809.0 L271.5 808.8 L272.5 808.6 L273.5 808.3 L274.5 807.8 L275.5 806.5M442.5 643.0 L443.5 645.0 L444.5 647.3 L445.5 649.8 L446.5 651.9 L447.5 653.5 L448.5 654.9 L449.5 656.3 L450.5 657.6 L451.5 658.7 L452.5 659.7 L453.5 660.6M465.5 665.3 L466.5 665.8 L467.5 666.4M469.5 667.2 L470.5 667.2 L471.5 664.5 L472.5 660.3M494.5 662.1 L495.5 663.4 L496.5 665.1 L497.5 667.1 L498.5 668.9 L499.5 670.2 L500.5 670.9 L501.5 671.6 L502.5 672.1 L503.5 672.6 L504.5 673.0 L505.5 673.4 L506.5 673.8 L507.5 674.2 L508.5 674.7 L509.5 675.2 L510.5 675.7 L511.5 676.3 L512.5 676.8 L513.5 677.3 L514.5 677.8 L515.5 678.3 L516.5 678.8 L517.5 679.2 L518.5 679.5 L519.5 679.9 L520.5 680.3 L521.5 680.6 L522.5 680.9 L523.5 681.2 L524.5 681.5 L525.5 681.8 L526.5 682.1 L527.5 682.3 L528.5 682.6 L529.5 682.8 L530.5 683.1 L531.5 683.3 L532.5 683.5 L533.5 683.7 L534.5 683.9 L535.5 684.1 L536.5 684.2 L537.5 684.4 L538.5 684.7 L539.5 685.5 L540.5 685.9 L541.5 685.0M593.5 649.0 L594.5 649.4 L595.5 650.0M601.5 658.0 L602.5 661.6 L603.5 665.4 L604.5 669.8 L605.5 673.7 L606.5 676.4 L607.5 678.9 L608.5 681.0 L609.5 682.5 L610.5 683.5 L611.5 684.1 L612.5 684.6 L613.5 685.0 L614.5 685.4 L615.5 685.8 L616.5 686.4 L617.5 687.1 L618.5 687.9 L619.5 688.7 L620.5 689.3 L621.5 689.6 L622.5 689.5 L623.5 689.2 L624.5 688.7 L625.5 688.2 L626.5 687.7 L627.5 687.5 L628.5 687.6 L629.5 687.8 L630.5 688.1 L631.5 688.5 L632.5 688.8 L633.5 689.0 L634.5 689.1 L635.5 689.2 L636.5 689.3 L637.5 689.4 L638.5 689.5 L639.5 689.6 L640.5 689.6 L641.5 689.6 L642.5 689.4 L643.5 689.3 L644.5 689.0 L645.5 688.2 L646.5 686.4M647.5 684.3 L648.5 682.4M1019.5 288.5 L1020.5 291.1 L1021.5 293.5 L1022.5 295.8 L1023.5 298.1 L1024.5 300.3 L1025.5 302.6M1026.5 304.7 L1027.5 306.6 L1028.5 308.3 L1029.5 309.7 L1030.5 310.9 L1031.5 312.0 L1032.5 313.0 L1033.5 313.8M1035.5 315.3 L1036.5 316.0 L1037.5 316.6 L1038.5 317.2 L1039.5 317.6M1049.5 322.2 L1050.5 323.1 L1051.5 323.9 L1052.5 324.7 L1053.5 325.4 L1054.5 326.0 L1055.5 326.6 L1056.5 327.2 L1057.5 327.7M1059.5 328.6 L1060.5 329.1 L1061.5 329.7M1066.5 333.4 L1067.5 334.3 L1068.5 335.3 L1069.5 336.3 L1070.5 337.4M1072.5 339.4 L1073.5 340.3 L1074.5 341.3 L1075.5 342.3 L1076.5 343.1 L1077.5 343.8 L1078.5 344.0 L1079.5 343.5 L1080.5 342.0M1209.5 245.0 L1210.5 246.7 L1211.5 248.7M1216.5 254.8 L1217.5 255.7M1239.5 268.0 L1240.5 269.7 L1241.5 270.9 L1242.5 272.0 L1243.5 273.0 L1244.5 273.9 L1245.5 274.8 L1246.5 275.7 L1247.5 276.5M1249.5 277.9 L1250.5 278.6 L1251.5 279.3 L1252.5 280.2 L1253.5 281.4 L1254.5 282.6 L1255.5 284.0 L1256.5 285.3 L1257.5 286.6 L1258.5 287.8 L1259.5 289.1 L1260.5 290.4 L1261.5 291.6 L1262.5 292.6 L1263.5 293.1 L1264.5 293.1 L1265.5 292.9 L1266.5 292.6 L1267.5 292.1 L1268.5 291.6 L1269.5 290.4 L1270.5 288.7 L1271.5 287.1M1283.5 289.3 L1284.5 290.3 L1285.5 291.3 L1286.5 292.1 L1287.5 292.8 L1288.5 293.1 L1289.5 292.9 L1290.5 292.1M1297.5 292.7 L1298.5 293.1 L1299.5 293.1 L1300.5 293.1M1302.5 293.1 L1303.5 293.1 L1304.5 293.1 L1305.5 293.1 L1306.5 292.9M1336.5 291.3 L1337.5 291.6 L1338.5 291.9M1341.5 292.7 L1342.5 293.0 L1343.5 293.4 L1344.5 293.7 L1345.5 293.9 L1346.5 294.2 L1347.5 294.5 L1348.5 294.8 L1349.5 295.1 L1350.5 295.5 L1351.5 296.0 L1352.5 296.7 L1353.5 297.8 L1354.5 299.0 L1355.5 300.6 L1356.5 302.7 L1357.5 305.0 L1358.5 307.1 L1359.5 308.8 L1360.5 310.5 L1361.5 312.1 L1362.5 313.6 L1363.5 315.0 L1364.5 316.2 L1365.5 317.5 L1366.5 318.6 L1367.5 319.7 L1368.5 320.8 L1369.5 321.8 L1370.5 322.7 L1371.5 323.5 L1372.5 324.1 L1373.5 324.7 L1374.5 325.3 L1375.5 325.8 L1376.5 326.3 L1377.5 326.8 L1378.5 327.2 L1379.5 327.6 L1380.5 328.1 L1381.5 328.5 L1382.5 328.8 L1383.5 329.2 L1384.5 329.5 L1385.5 329.8 L1386.5 330.2 L1387.5 330.8 L1388.5 331.5 L1389.5 332.7 L1390.5 335.0 L1391.5 339.8 L1392.5 345.1 L1393.5 348.7 L1394.5 351.7 L1395.5 354.4 L1396.5 356.8 L1397.5 358.8 L1398.5 360.6 L1399.5 362.3 L1400.5 363.8 L1401.5 365.2 L1402.5 366.4 L1403.5 367.6 L1404.5 368.7 L1405.5 369.7 L1406.5 370.7 L1407.5 371.7 L1408.5 372.5 L1409.5 373.1 L1410.5 373.6 L1411.5 374.0 L1412.5 374.3 L1413.5 374.6 L1414.5 374.8 L1415.5 375.1 L1416.5 375.5 L1417.5 376.1 L1418.5 376.8 L1419.5 377.6 L1420.5 378.3 L1421.5 378.8 L1422.5 378.8 L1423.5 378.5 L1424.5 378.1 L1425.5 377.6 L1426.5 377.4 L1427.5 377.5 L1428.5 377.8 L1429.5 378.2 L1430.5 378.5 L1431.5 378.8 L1432.5 378.9 L1433.5 378.7 L1434.5 378.4 L1435.5 378.1 L1436.5 377.7 L1437.5 377.5 L1438.5 377.4 L1439.5 377.5 L1440.5 377.8 L1441.5 378.0 L1442.5 378.3 L1443.5 378.6 L1444.5 378.8 L1445.5 378.9 L1446.5 378.8 L1447.5 378.5 L1448.5 378.1 L1449.5 377.8 L1450.5 377.5 L1451.5 377.4 L1452.5 377.7 L1453.5 378.4 L1454.5 379.2 L1455.5 380.1 L1456.5 381.1 L1457.5 382.3 L1458.5 383.6 L1459.5 385.0 L1460.5 386.3 L1461.5 387.6 L1462.5 388.6 L1463.5 389.7 L1464.5 390.7 L1465.5 391.7 L1466.5 392.6 L1467.5 393.6 L1468.5 394.6 L1469.5 395.8 L1470.5 397.0 L1471.5 398.0 L1472.5 398.6 L1473.5 398.7 L1474.5 398.3 L1475.5 397.5 L1476.5 396.8 L1477.5 396.4 L1478.5 396.7 L1479.5 397.5 L1480.5 398.7 L1481.5 400.0 L1482.5 401.3 L1483.5 402.3 L1484.5 403.0 L1485.5 403.8 L1486.5 404.5 L1487.5 405.1 L1488.5 405.7 L1489.5 406.2 L1490.5 406.5 L1491.5 406.8 L1492.5 407.0 L1493.5 407.2 L1494.5 407.3 L1495.5 407.4 L1496.5 407.6 L1497.5 407.7 L1498.5 407.9 L1499.5 408.1 L1500.5 408.4 L1501.5 408.7 L1502.5 409.1 L1503.5 409.5 L1504.5 409.9 L1505.5 410.4 L1506.5 410.9 L1507.5 411.3 L1508.5 411.9 L1509.5 412.5 L1510.5 413.2 L1511.5 413.9 L1512.5 414.4 L1513.5 414.9 L1514.5 415.3 L1515.5 415.4 L1516.5 415.3 L1517.5 415.1 L1518.5 414.8 L1519.5 414.4 L1520.5 414.0 L1521.5 413.7 L1522.5 413.4 L1523.5 413.3 L1524.5 413.1 L1525.5 413.0 L1526.5 412.8 L1527.5 412.7 L1528.5 412.6 L1529.5 412.5 L1530.5 412.5 L1531.5 412.5 L1532.5 413.0 L1533.5 414.6 L1534.5 416.7 L1535.5 418.8 L1536.5 420.4 L1537.5 421.8 L1538.5 423.1 L1539.5 424.4 L1540.5 425.6 L1541.5 426.7 L1542.5 427.7 L1543.5 428.6 L1544.5 429.5 L1545.5 430.4 L1546.5 431.2 L1547.5 431.9 L1548.5 432.6 L1549.5 433.1 L1550.5 433.5 L1551.5 433.9 L1552.5 434.3 L1553.5 434.7 L1554.5 435.0 L1555.5 435.3 L1556.5 435.6 L1557.5 435.8 L1558.5 435.9 L1559.5 436.0 L1560.5 436.1 L1561.5 436.2 L1562.5 436.3 L1563.5 436.3 L1564.5 436.4 L1565.5 436.5 L1566.5 436.7 L1567.5 436.9 L1568.5 437.3 L1569.5 437.7 L1570.5 438.3 L1571.5 438.9 L1572.5 439.4 L1573.5 440.0 L1574.5 440.4 L1575.5 440.9 L1576.5 441.3 L1577.5 441.7 L1578.5 442.1 L1579.5 442.5 L1580.5 442.9 L1581.5 443.3 L1582.5 443.6 L1583.5 444.0 L1584.5 444.4 L1585.5 444.8 L1586.5 445.2 L1587.5 445.6 L1588.5 446.0 L1589.5 446.2 L1590.5 446.4 L1591.5 446.4 L1592.5 446.1 L1593.5 445.4 L1594.5 444.5 L1595.5 443.0 L1596.5 440.9 L1597.5 438.9 L1598.5 437.0 L1599.5 434.9 L1600.5 432.8 L1601.5 430.8 L1602.5 429.2M1608.5 423.0 L1609.5 422.3M1613.5 419.2 L1614.5 418.5 L1615.5 418.1M1616.5 417.6 L1617.5 417.3 L1618.5 417.2 L1619.5 417.2 L1620.5 417.2 L1621.5 417.2 L1622.5 417.6 L1623.5 418.7 L1624.5 419.8 L1625.5 420.2 L1626.5 419.9 L1627.5 418.8M1636.5 411.2 L1637.5 411.2 L1638.5 411.2 L1639.5 411.2 L1640.5 411.3 L1641.5 411.4 L1642.5 411.6 L1643.5 412.1 L1644.5 412.7 L1645.5 413.4 L1646.5 414.1 L1647.5 415.0 L1648.5 415.9 L1649.5 417.3 L1650.5 418.2 L1651.5 416.5 L1652.5 413.9 L1653.5 410.3 L1654.5 407.7"/>
</g>
<g clip-path="url(#cp)" fill="none" stroke-width="1.05">
<path stroke="#f58200" d="M10.5 714.8V744.6M11.5 715.8V721.1M12.5 715.5V726.0M13.5 715.3V725.6M14.5 711.8V724.5M15.5 704.9V719.3M16.5 705.3V716.1M17.5 712.8V720.0M19.5 707.2V718.5M20.5 715.1V726.6M21.5 718.7V729.2M22.5 722.5V733.0M23.5 721.0V732.9M23.5 711.4V725.1M24.5 701.7V728.8M25.5 689.4V714.1M43.5 663.7V687.1M44.5 671.1V695.6M45.5 693.5V704.6M45.5 697.1V711.0M46.5 688.1V717.2M47.5 706.4V718.1M48.5 712.8V731.7M49.5 710.0V730.0M50.5 717.1V735.8M51.5 718.2V729.0M52.5 718.8V728.0M53.5 720.0V726.6M54.5 718.9V739.9M55.5 719.3V726.6M56.5 713.6V721.5M57.5 715.6V720.0M58.5 711.7V721.2M59.5 712.4V719.6M60.5 715.7V721.2M61.5 715.9V727.0M62.5 703.1V719.8M63.5 713.1V724.1M76.5 692.3V712.4M77.5 706.8V727.0M78.5 712.1V728.2M79.5 722.0V728.8M80.5 719.2V726.5M81.5 717.8V721.5M82.5 715.5V719.9M87.5 717.3V725.6M88.5 715.5V726.4M89.5 720.1V728.8M94.5 714.2V722.4M110.5 718.9V733.1M111.5 719.7V726.7M111.5 715.4V723.4M112.5 707.0V721.1M115.5 718.7V721.4M116.5 718.0V720.8M117.5 719.4V721.1M118.5 719.3V722.5M119.5 718.1V721.5M120.5 719.8V722.1M121.5 719.7V722.8M122.5 720.2V722.4M123.5 720.8V724.1M124.5 721.6V723.5M125.5 720.7V723.1M126.5 721.4V723.3M127.5 720.4V723.7M128.5 722.3V727.3M129.5 721.0V725.0M130.5 722.6V724.7M131.5 721.6V724.9M132.5 721.2V724.6M132.5 720.2V723.1M139.5 720.4V733.1M140.5 715.7V732.7M141.5 720.8V739.5M145.5 755.3V785.0M146.5 772.4V805.0M154.5 823.1V842.1M154.5 808.8V832.8M155.5 810.7V824.8M156.5 806.7V832.8M157.5 825.5V839.2M158.5 826.4V837.8M159.5 828.4V842.5M160.5 835.8V845.0M161.5 833.2V858.3M162.5 833.9V852.0M163.5 840.6V856.9M164.5 854.9V879.8M165.5 861.1V869.9M166.5 855.0V871.1M167.5 860.5V866.9M168.5 862.8V873.2M169.5 869.4V875.6M170.5 859.6V878.6M171.5 868.2V887.2M172.5 860.8V883.7M173.5 845.6V869.8M174.5 836.7V870.6M175.5 826.8V851.7M197.5 842.4V848.9M198.5 840.6V853.9M198.5 840.4V857.9M199.5 846.5V862.7M200.5 849.7V856.0M201.5 849.0V854.5M202.5 850.3V854.0M203.5 852.0V855.8M204.5 843.0V857.5M205.5 852.7V855.3M206.5 851.9V855.7M207.5 851.9V856.3M208.5 853.1V858.7M209.5 855.3V859.7M210.5 850.9V861.6M211.5 855.8V861.5M212.5 860.8V864.8M213.5 858.7V866.9M214.5 861.5V867.1M215.5 860.1V872.4M216.5 860.7V867.3M217.5 861.4V867.5M218.5 863.1V865.7M219.5 863.2V866.7M220.5 864.7V869.0M220.5 863.4V871.3M221.5 863.5V871.9M222.5 865.0V871.8M226.5 850.5V859.1M227.5 854.4V859.2M228.5 855.2V857.8M229.5 855.2V857.1M230.5 853.6V856.6M231.5 850.6V856.9M232.5 850.7V857.1M233.5 845.3V857.6M234.5 841.3V848.8M336.5 668.3V680.7M337.5 676.9V684.0M338.5 673.4V682.7M339.5 667.4V683.4M340.5 665.8V673.7M373.5 587.9V602.5M374.5 583.6V604.6M375.5 595.4V638.1M376.5 598.5V621.9M377.5 603.7V617.7M378.5 592.8V611.6M379.5 603.3V614.4M380.5 603.3V613.2M381.5 602.9V610.0M382.5 608.1V613.4M383.5 610.4V618.7M384.5 614.0V623.5M385.5 609.7V621.8M386.5 612.8V626.9M387.5 618.9V638.1M388.5 617.7V632.4M389.5 610.7V623.6M404.5 600.5V614.2M405.5 607.1V623.9M406.5 611.2V627.9M407.5 607.8V615.4M408.5 607.6V614.6M409.5 596.6V616.9M410.5 612.2V616.6M411.5 609.4V617.9M412.5 613.3V617.1M413.5 613.9V619.1M414.5 611.8V619.5M415.5 611.4V619.4M416.5 614.9V621.6M416.5 616.1V622.5M417.5 616.6V632.8M418.5 620.5V633.3M419.5 613.1V626.8M420.5 609.7V622.9M421.5 608.4V622.5M433.5 604.8V611.0M434.5 605.4V611.4M435.5 609.2V613.5M436.5 611.7V615.6M437.5 611.1V616.9M438.5 614.0V624.9M438.5 609.7V617.8M439.5 611.1V631.6M440.5 615.1V636.7M441.5 612.5V634.7M445.5 645.9V668.3M446.5 659.5V673.1M447.5 659.3V662.9M448.5 659.2V663.2M449.5 660.0V664.6M450.5 661.0V666.1M451.5 659.2V676.1M452.5 658.0V663.5M453.5 658.4V665.9M454.5 657.6V662.4M455.5 653.7V659.9M456.5 653.7V662.7M457.5 652.4V657.5M458.5 646.9V659.7M459.5 652.6V660.0M460.5 653.4V663.2M460.5 653.5V663.1M461.5 657.6V661.5M462.5 658.3V662.6M463.5 660.8V666.3M464.5 663.3V666.4M465.5 663.6V673.7M466.5 664.1V670.1M467.5 661.5V667.5M468.5 657.6V669.5M469.5 650.0V672.4M485.5 631.6V636.2M486.5 633.8V642.3M487.5 640.1V648.2M488.5 644.2V649.4M489.5 645.5V650.3M490.5 646.7V649.7M491.5 647.1V652.6M492.5 647.1V655.1M493.5 650.6V661.2M494.5 657.2V668.5M495.5 653.6V674.7M496.5 658.4V683.9M503.5 682.1V699.5M504.5 674.6V689.2M504.5 681.0V687.7M505.5 681.9V692.5M506.5 683.9V688.7M507.5 683.7V688.0M508.5 685.0V689.5M509.5 683.1V687.8M510.5 684.3V696.5M511.5 683.6V688.7M512.5 686.9V690.2M513.5 688.5V692.2M514.5 688.7V694.1M515.5 690.6V696.6M516.5 692.4V696.1M517.5 692.8V698.3M518.5 693.8V699.7M519.5 695.5V698.5M520.5 695.7V699.0M521.5 695.9V701.5M522.5 697.0V706.7M523.5 700.4V719.3M524.5 695.1V708.8M525.5 698.9V712.6M525.5 684.8V707.3M526.5 694.0V702.4M527.5 691.5V695.6M528.5 689.8V694.6M529.5 688.6V692.0M530.5 688.3V690.9M531.5 688.5V691.2M532.5 683.4V692.0M533.5 689.1V692.3M534.5 689.0V692.3M535.5 690.4V694.0M536.5 689.4V694.2M537.5 691.0V696.9M538.5 687.3V695.6M539.5 691.6V704.4M540.5 685.7V696.5M589.5 626.1V637.5M590.5 629.2V642.1M591.5 640.8V650.9M591.5 641.6V652.0M592.5 642.5V650.1M593.5 646.3V657.4M594.5 646.9V651.7M595.5 645.9V650.2M596.5 642.8V649.0M597.5 640.0V646.6M598.5 635.5V652.6M599.5 636.4V645.7M600.5 635.7V656.8M601.5 639.4V677.8M607.5 716.3V807.3M608.5 718.4V784.1M609.5 735.0V780.1M610.5 747.8V771.4M611.5 733.4V757.6M612.5 725.5V741.2M613.5 722.0V739.6M613.5 720.1V751.2M643.5 688.7V697.5M676.5 633.3V647.8M691.5 617.4V627.7M692.5 621.9V625.7M693.5 623.4V629.8M694.5 622.5V633.4M695.5 628.4V639.1M696.5 633.7V643.7M697.5 635.5V637.9M698.5 634.0V637.6M699.5 633.2V637.1M700.5 629.0V635.7M700.5 626.2V631.9M701.5 626.5V630.2M702.5 622.1V632.0M704.5 630.5V636.0M705.5 632.1V639.5M706.5 634.9V641.9M707.5 639.2V645.4M708.5 640.3V645.6M709.5 639.7V644.2M710.5 640.1V642.7M711.5 638.8V641.7M712.5 636.0V640.3M713.5 635.5V638.2M714.5 635.6V638.7M715.5 633.8V638.6M716.5 633.5V637.3M717.5 630.6V637.2M718.5 633.8V635.8M719.5 633.5V637.3M720.5 633.9V638.0M721.5 634.2V637.2M722.5 633.9V638.0M722.5 635.0V638.4M723.5 635.1V638.1M724.5 636.2V638.3M725.5 636.3V640.8M726.5 636.6V640.3M727.5 636.7V638.7M728.5 632.9V639.0M729.5 633.8V639.5M730.5 631.0V637.2M764.5 581.8V592.6M765.5 582.6V587.5M766.5 583.6V588.7M766.5 585.2V587.5M767.5 582.8V587.3M774.5 605.8V616.1M775.5 604.5V620.7M776.5 607.0V614.6M777.5 609.1V612.6M778.5 608.0V611.1M779.5 607.1V612.3M780.5 605.9V610.1M781.5 605.0V609.7M782.5 601.7V606.8M789.5 601.2V610.2M790.5 602.6V613.0M791.5 608.3V613.3M792.5 604.1V612.0M793.5 602.4V609.5M794.5 602.0V605.5M795.5 600.9V607.3M796.5 599.0V603.9M797.5 595.5V604.3M798.5 599.1V604.4M799.5 600.9V604.4M800.5 600.5V605.0M801.5 597.9V604.4M802.5 594.5V599.4M803.5 593.3V601.3M804.5 591.4V597.8M866.5 472.2V485.4M867.5 474.5V486.1M906.5 317.7V368.9M907.5 323.5V341.7M908.5 333.2V349.7M909.5 334.1V352.2M910.5 339.4V352.8M911.5 339.5V367.4M940.5 242.7V261.6M941.5 254.4V267.1M942.5 257.3V276.9M966.5 211.3V230.4M979.5 202.2V212.5M989.5 202.4V215.7M990.5 200.3V221.3M991.5 200.5V230.8M992.5 209.7V230.0M993.5 220.7V233.9M994.5 225.3V256.4M995.5 234.9V247.1M996.5 230.9V239.0M997.5 224.2V241.4M998.5 220.7V241.5M999.5 212.7V229.6M1000.5 207.8V222.6M1001.5 213.9V220.4M1002.5 205.3V217.4M1003.5 211.7V220.9M1004.5 207.8V228.7M1005.5 209.6V217.7M1006.5 205.4V215.4M1006.5 207.1V211.5M1007.5 201.9V208.9M1008.5 201.8V208.7M1009.5 204.7V218.4M1010.5 210.5V231.6M1011.5 215.3V226.9M1012.5 219.0V233.2M1013.5 221.5V247.3M1014.5 223.6V255.1M1015.5 241.5V269.7M1016.5 254.6V295.7M1024.5 290.0V312.0M1025.5 289.8V308.3M1026.5 290.6V308.9M1027.5 303.3V311.6M1027.5 299.5V315.8M1028.5 310.8V317.7M1029.5 313.2V321.4M1030.5 317.0V335.3M1031.5 313.7V327.2M1032.5 313.4V325.6M1033.5 303.1V317.4M1034.5 305.1V319.5M1035.5 304.4V321.2M1036.5 315.2V324.0M1037.5 320.4V352.8M1038.5 320.6V330.2M1039.5 304.9V328.7M1040.5 308.4V317.3M1041.5 298.2V315.2M1042.5 294.6V311.7M1043.5 289.5V307.6M1047.5 292.7V317.2M1048.5 290.9V319.8M1049.5 311.0V330.4M1049.5 318.6V340.5M1050.5 332.8V370.3M1051.5 332.1V354.3M1052.5 335.9V347.1M1053.5 329.5V345.7M1054.5 336.9V354.6M1055.5 339.0V358.7M1056.5 333.2V347.6M1057.5 316.3V335.8M1058.5 319.4V332.9M1059.5 324.5V331.4M1060.5 326.3V334.9M1061.5 327.5V332.8M1062.5 325.7V330.7M1063.5 320.7V329.5M1064.5 323.8V329.9M1065.5 326.2V333.0M1066.5 331.0V336.7M1067.5 330.7V336.7M1068.5 333.5V338.1M1069.5 335.2V338.4M1070.5 334.9V339.3M1071.5 335.6V339.8M1071.5 335.7V341.2M1072.5 338.8V346.0M1073.5 340.6V351.2M1074.5 342.1V352.1M1075.5 343.9V353.6M1076.5 348.2V358.6M1077.5 349.5V366.0M1078.5 348.3V354.8M1079.5 333.1V355.8M1080.5 333.4V350.9M1125.5 243.3V278.3M1126.5 250.1V259.5M1127.5 248.1V260.3M1128.5 249.9V257.1M1129.5 254.3V260.4M1130.5 257.9V272.5M1131.5 257.1V262.8M1137.5 253.6V272.6M1137.5 261.9V279.0M1138.5 274.1V285.4M1139.5 276.2V295.8M1140.5 276.4V288.0M1141.5 266.6V285.0M1142.5 279.6V286.1M1143.5 279.6V284.0M1144.5 279.3V285.1M1145.5 273.7V284.1M1146.5 263.3V290.0M1192.5 189.7V201.5M1193.5 199.7V207.1M1194.5 198.3V209.4M1195.5 202.4V214.0M1196.5 205.7V218.7M1197.5 204.2V211.2M1198.5 201.1V208.8M1199.5 201.0V209.1M1200.5 203.8V213.5M1201.5 205.4V216.8M1202.5 210.1V215.0M1202.5 211.4V226.0M1203.5 208.0V214.8M1204.5 200.7V214.5M1205.5 201.8V217.2M1206.5 202.8V219.7M1207.5 206.2V228.4M1209.5 232.6V254.5M1210.5 232.0V255.9M1211.5 240.0V261.6M1212.5 236.2V247.0M1213.5 238.8V247.7M1214.5 240.8V250.4M1215.5 247.2V253.0M1216.5 248.8V256.5M1217.5 252.9V257.1M1218.5 251.6V259.7M1219.5 250.0V262.5M1220.5 252.4V255.5M1221.5 249.4V255.7M1222.5 249.0V256.0M1223.5 245.6V256.3M1224.5 251.5V257.8M1224.5 248.0V261.1M1232.5 244.4V252.5M1233.5 250.6V256.5M1234.5 251.3V261.9M1235.5 253.3V259.0M1236.5 253.1V259.8M1237.5 254.5V263.2M1238.5 253.9V266.4M1239.5 256.6V271.3M1240.5 265.2V280.8M1241.5 271.9V286.9M1242.5 273.3V289.9M1243.5 280.5V293.1M1244.5 278.8V285.9M1245.5 275.0V284.1M1246.5 273.6V281.5M1246.5 274.2V280.4M1247.5 271.2V277.2M1248.5 274.6V279.2M1249.5 277.1V280.5M1250.5 275.9V283.1M1251.5 277.8V285.5M1252.5 272.8V289.5M1259.5 321.2V326.6M1260.5 317.9V323.8M1261.5 312.0V322.0M1262.5 309.0V317.4M1263.5 305.6V314.2M1264.5 307.0V313.5M1265.5 303.4V311.7M1266.5 299.0V310.3M1267.5 302.6V317.2M1268.5 302.1V317.3M1280.5 270.4V280.4M1281.5 269.5V286.0M1282.5 271.4V288.1M1283.5 283.8V295.0M1284.5 290.2V304.7M1285.5 297.5V306.5M1286.5 298.1V314.4M1287.5 297.7V329.7M1288.5 294.6V317.0M1289.5 288.5V304.2M1289.5 288.6V300.2M1295.5 271.6V290.0M1296.5 275.9V297.0M1297.5 286.8V310.7M1298.5 293.7V300.1M1299.5 281.5V301.5M1300.5 287.4V297.5M1301.5 287.8V294.1M1302.5 287.2V297.2M1303.5 293.4V299.2M1304.5 290.6V307.8M1326.5 265.5V275.9M1327.5 268.7V278.7M1328.5 273.7V287.6M1329.5 273.2V281.0M1330.5 273.5V279.4M1331.5 277.4V284.8M1332.5 282.8V288.4M1333.5 284.5V299.0M1333.5 285.5V294.4M1334.5 285.9V290.3M1335.5 288.0V293.3M1336.5 289.4V294.6M1337.5 287.9V297.0M1338.5 289.0V293.1M1339.5 278.5V292.0M1340.5 283.3V296.0M1341.5 287.0V297.4M1342.5 293.8V298.5M1343.5 294.3V299.7M1344.5 295.2V300.1M1345.5 294.8V298.4M1346.5 296.5V300.5M1347.5 296.8V302.3M1348.5 298.0V301.2M1349.5 296.0V302.4M1350.5 297.3V309.2M1351.5 296.7V305.9M1352.5 293.0V306.9M1353.5 293.7V312.6M1354.5 293.1V317.4M1362.5 352.3V367.0M1363.5 354.6V360.1M1364.5 351.6V360.2M1365.5 357.4V362.2M1366.5 359.0V365.9M1367.5 362.6V365.5M1368.5 362.4V368.5M1369.5 365.1V369.3M1370.5 362.9V367.9M1371.5 363.9V366.9M1372.5 364.7V369.3M1373.5 363.1V370.3M1374.5 364.0V369.6M1375.5 364.9V377.9M1376.5 359.3V369.8M1377.5 354.7V364.3M1377.5 346.7V357.1M1378.5 344.3V359.2M1379.5 346.7V356.0M1380.5 347.5V362.0M1381.5 355.0V361.7M1382.5 359.2V367.6M1383.5 355.5V366.2M1385.5 347.4V358.4M1386.5 350.5V368.6M1387.5 355.5V369.6M1388.5 352.5V393.1M1389.5 348.2V385.9M1398.5 450.9V464.6M1399.5 445.8V458.8M1399.5 441.4V452.9M1400.5 440.2V448.6M1401.5 443.0V450.2M1402.5 434.4V448.4M1403.5 434.3V446.0M1404.5 437.2V450.1M1405.5 445.3V458.6M1406.5 444.4V458.4M1407.5 451.9V463.5M1410.5 453.9V466.0M1411.5 450.9V457.7M1412.5 440.0V454.8M1413.5 442.0V451.8M1414.5 439.0V453.8M1415.5 428.5V445.8M1416.5 431.1V440.6M1417.5 428.8V444.2M1418.5 431.5V446.0M1419.5 439.9V468.0M1420.5 442.0V459.5M1420.5 437.2V455.0M1421.5 442.9V451.6M1422.5 428.4V450.1M1423.5 429.3V439.8M1442.5 418.8V428.5M1442.5 417.6V423.5M1454.5 416.4V428.0M1455.5 411.6V434.7M1456.5 425.9V435.4M1457.5 431.8V446.7M1458.5 434.2V445.5M1459.5 435.0V443.7M1460.5 430.4V443.9M1461.5 432.7V440.9M1462.5 434.9V442.4M1463.5 439.6V450.4M1464.5 446.7V453.9M1464.5 447.8V454.9M1465.5 448.8V462.1M1466.5 450.4V455.1M1467.5 449.0V455.3M1468.5 452.9V455.6M1469.5 453.0V460.5M1470.5 459.5V463.9M1471.5 460.3V465.0M1472.5 452.8V469.8M1473.5 447.8V470.7M1474.5 450.0V473.8M1482.5 451.8V461.3M1483.5 447.8V467.7M1484.5 457.2V464.2M1485.5 455.7V461.7M1486.5 458.1V468.0M1486.5 465.0V472.9M1487.5 469.0V478.3M1488.5 466.0V475.2M1489.5 457.2V469.8M1490.5 459.7V471.2M1495.5 460.3V466.2M1496.5 456.4V464.0M1497.5 454.5V462.5M1498.5 455.4V460.9M1501.5 452.3V456.8M1502.5 451.8V457.8M1503.5 454.6V457.8M1504.5 454.0V461.9M1505.5 457.9V462.7M1506.5 459.9V464.7M1507.5 461.2V467.4M1508.5 463.4V477.6M1508.5 461.6V469.7M1509.5 464.2V470.2M1510.5 463.5V467.9M1511.5 460.4V466.6M1512.5 460.7V466.3M1513.5 461.1V466.6M1514.5 463.5V471.8M1515.5 463.0V466.8M1516.5 459.0V464.1M1517.5 456.0V464.4M1518.5 452.6V465.6M1519.5 447.8V461.5M1535.5 481.5V502.3M1536.5 488.2V500.0M1537.5 492.7V502.0M1538.5 492.8V498.7M1539.5 493.2V498.7M1540.5 492.8V508.9M1541.5 495.6V503.4M1542.5 496.9V503.0M1543.5 499.4V503.9M1544.5 502.4V505.4M1545.5 503.5V515.6M1546.5 504.6V512.3M1547.5 503.2V508.6M1548.5 495.2V506.5M1549.5 499.0V503.3M1550.5 500.6V504.8M1551.5 500.0V509.9M1551.5 500.1V507.4M1552.5 497.4V503.0M1569.5 483.3V492.6M1570.5 485.3V496.8M1571.5 493.3V503.3M1572.5 494.0V503.6M1573.5 493.1V499.8M1573.5 497.0V499.5M1574.5 496.5V500.7M1575.5 496.3V499.4M1576.5 496.8V498.5M1577.5 497.1V499.0M1578.5 496.5V500.0M1579.5 496.1V500.4M1580.5 497.6V499.9M1581.5 498.7V503.0M1582.5 498.8V502.4M1583.5 499.4V501.7M1584.5 498.5V500.8M1585.5 498.1V500.5M1586.5 497.0V499.4M1637.5 410.9V426.0M1641.5 421.4V432.5M1642.5 427.0V436.1M1643.5 425.1V436.1M1644.5 422.6V434.8M1645.5 421.1V440.8M1646.5 428.5V448.3M1647.5 444.4V456.5M1650.5 430.2V459.0M1651.5 416.3V439.0"/>
<path stroke="#ea5400" d="M142.5 728.6V745.6M143.5 738.7V769.4M144.5 745.7V763.2M147.5 787.0V809.2M148.5 791.2V821.1M149.5 796.5V811.3M150.5 798.7V816.0M151.5 809.7V828.2M152.5 822.6V863.5M153.5 817.4V845.8M442.5 628.6V676.1M443.5 643.8V671.3M444.5 649.5V665.7M470.5 668.1V690.1M471.5 662.7V690.1M497.5 661.0V688.0M498.5 674.4V686.3M499.5 667.6V686.8M500.5 677.7V708.2M501.5 684.3V716.4M502.5 692.0V699.5M602.5 646.1V718.5M603.5 655.3V706.7M604.5 653.0V741.6M605.5 687.4V838.0M606.5 674.9V764.8M772.5 583.5V603.0M773.5 594.1V616.5M1017.5 259.6V293.7M1018.5 261.4V293.9M1019.5 271.8V363.0M1020.5 274.7V316.5M1021.5 291.9V312.0M1022.5 304.4V352.8M1023.5 307.9V322.2M1208.5 224.4V285.0M1253.5 278.9V311.5M1254.5 286.9V299.9M1255.5 291.1V322.4M1256.5 308.0V325.2M1257.5 317.2V338.4M1258.5 319.7V332.9M1355.5 304.3V332.3M1355.5 293.9V333.2M1356.5 309.9V355.2M1357.5 313.5V349.3M1358.5 332.3V357.9M1359.5 351.9V366.0M1360.5 357.7V401.2M1361.5 359.4V372.9M1390.5 360.2V396.2M1391.5 350.5V397.1M1392.5 380.7V408.4M1393.5 391.5V424.7M1394.5 418.6V451.0M1395.5 439.8V460.3M1396.5 447.3V457.5M1397.5 447.0V485.5M1408.5 459.8V472.4M1409.5 456.7V468.2M1532.5 438.6V471.5M1533.5 450.5V513.8M1534.5 462.9V493.3M1648.5 429.1V454.9M1649.5 443.9V462.0"/>
<path stroke="#8f5dc3" d="M18.5 706.0V718.2M26.5 684.9V709.1M27.5 677.8V697.1M28.5 659.8V689.2M29.5 676.8V691.4M30.5 679.9V692.6M31.5 674.0V692.3M32.5 680.2V698.4M33.5 671.9V689.5M35.5 662.5V669.8M36.5 654.3V674.5M37.5 660.3V673.2M38.5 661.2V670.3M39.5 663.4V669.8M40.5 660.8V673.5M41.5 661.2V677.8M42.5 663.0V677.3M64.5 712.7V722.4M65.5 712.7V720.9M66.5 708.7V716.1M67.5 698.9V712.1M67.5 696.1V705.3M68.5 696.1V707.2M69.5 695.5V706.6M70.5 695.3V705.4M71.5 693.0V700.4M72.5 691.5V698.8M73.5 686.8V700.9M74.5 686.2V695.8M75.5 687.2V708.8M83.5 714.9V720.4M84.5 717.0V722.9M85.5 715.5V721.4M86.5 717.5V723.3M89.5 716.4V728.3M90.5 709.2V725.0M91.5 711.8V717.3M92.5 713.5V720.8M93.5 712.0V718.5M95.5 715.2V721.1M96.5 710.1V717.9M97.5 709.7V716.1M98.5 710.7V714.7M99.5 712.4V716.0M100.5 714.3V716.1M101.5 713.6V717.9M102.5 714.5V717.1M103.5 714.6V717.2M104.5 714.0V717.8M105.5 715.4V717.2M106.5 713.6V716.7M107.5 714.1V716.9M108.5 711.5V719.5M109.5 715.8V721.0M113.5 717.6V721.2M114.5 718.4V721.0M133.5 720.4V722.1M134.5 717.0V722.3M135.5 715.5V722.0M136.5 716.0V721.3M137.5 719.1V724.8M138.5 720.8V727.1M176.5 824.0V850.0M176.5 820.2V842.8M177.5 820.6V843.9M178.5 827.0V844.4M179.5 818.0V836.8M180.5 826.9V836.8M181.5 832.3V840.5M182.5 831.3V840.9M183.5 837.3V856.1M184.5 840.1V846.1M185.5 839.4V845.8M186.5 838.3V843.5M187.5 838.9V844.1M188.5 836.8V849.6M189.5 838.2V842.5M190.5 835.6V840.9M191.5 835.0V839.0M192.5 834.4V841.6M193.5 830.0V842.3M194.5 823.2V839.0M195.5 827.9V847.7M196.5 833.1V846.0M223.5 847.7V867.1M224.5 854.6V861.1M225.5 853.4V857.4M235.5 831.7V843.5M236.5 825.6V838.7M237.5 830.0V837.7M238.5 826.5V840.8M239.5 820.6V837.9M240.5 830.7V839.5M241.5 836.5V841.4M242.5 838.7V850.9M242.5 842.3V850.2M243.5 843.8V847.1M244.5 842.0V846.8M245.5 843.1V847.0M246.5 843.0V849.6M247.5 838.7V844.8M248.5 839.1V842.3M249.5 838.1V842.8M250.5 837.2V840.9M251.5 836.8V840.0M252.5 837.8V840.0M253.5 837.4V840.5M254.5 837.1V839.2M255.5 836.6V843.0M256.5 837.2V839.4M257.5 837.4V840.2M258.5 835.9V840.8M259.5 836.2V839.8M260.5 829.8V838.5M261.5 833.8V837.3M262.5 831.5V834.6M263.5 831.3V834.2M263.5 831.8V833.8M264.5 832.1V834.2M265.5 832.3V835.9M266.5 833.3V835.7M267.5 833.2V839.0M268.5 831.9V837.6M269.5 830.3V834.6M270.5 827.8V833.9M271.5 821.0V830.6M272.5 807.4V830.1M273.5 812.2V830.5M274.5 806.1V831.4M279.5 765.5V776.7M280.5 759.3V775.3M281.5 760.2V769.3M282.5 763.4V772.0M283.5 768.3V774.9M284.5 769.0V776.3M285.5 770.9V781.8M285.5 772.3V776.6M286.5 770.8V775.6M287.5 769.3V772.7M288.5 766.8V771.6M289.5 766.6V770.8M290.5 766.1V770.3M291.5 765.3V769.3M292.5 763.2V769.0M293.5 754.6V769.2M294.5 751.2V769.0M295.5 750.6V765.5M296.5 756.1V762.8M297.5 755.7V770.3M298.5 762.3V786.5M299.5 764.8V779.3M300.5 760.7V775.8M301.5 759.6V771.5M302.5 759.6V766.2M318.5 669.7V715.5M319.5 671.0V690.9M320.5 665.4V686.8M321.5 661.5V678.8M322.5 658.5V679.2M323.5 663.0V684.6M324.5 664.9V685.1M325.5 664.1V681.5M326.5 659.3V669.5M327.5 654.1V666.2M328.5 647.0V666.4M329.5 646.2V661.4M329.5 640.4V655.7M330.5 646.8V654.0M331.5 646.8V663.4M332.5 653.3V667.1M333.5 657.0V666.9M334.5 663.6V675.2M335.5 667.7V684.8M341.5 664.9V672.5M342.5 657.8V669.4M343.5 650.9V667.5M344.5 647.7V658.9M345.5 639.0V656.6M346.5 631.6V651.3M347.5 632.9V642.0M348.5 626.7V639.8M349.5 622.9V632.3M350.5 614.7V627.5M351.5 611.5V630.2M358.5 545.8V566.1M359.5 550.9V573.6M360.5 554.1V584.9M361.5 576.7V597.5M362.5 591.0V624.9M363.5 591.3V603.1M364.5 586.7V595.5M365.5 578.0V599.0M366.5 572.7V583.4M367.5 558.7V578.5M368.5 553.4V573.1M369.5 560.8V581.0M370.5 573.6V586.2M371.5 571.0V593.7M372.5 573.8V590.9M373.5 578.2V594.7M390.5 597.4V616.3M391.5 595.0V621.6M392.5 594.3V609.6M393.5 589.9V610.0M394.5 592.3V604.6M394.5 580.0V595.8M395.5 568.8V585.8M396.5 569.2V584.6M397.5 573.6V590.5M398.5 581.9V594.9M399.5 581.4V593.6M400.5 582.3V593.5M401.5 580.6V601.9M402.5 590.0V606.5M403.5 592.4V604.0M422.5 600.1V615.3M423.5 601.7V607.6M424.5 596.6V609.7M425.5 598.1V609.1M426.5 602.4V610.0M427.5 604.4V612.3M428.5 606.0V610.6M429.5 607.7V611.2M430.5 609.4V613.7M431.5 608.0V614.4M432.5 604.8V612.2M472.5 637.7V670.1M473.5 605.4V638.5M474.5 606.4V628.7M475.5 618.2V650.6M476.5 622.7V642.1M477.5 627.5V639.1M478.5 629.5V637.1M479.5 630.2V634.3M480.5 627.6V631.8M481.5 627.4V632.6M482.5 627.0V631.3M482.5 626.3V633.4M483.5 627.3V635.7M484.5 628.6V637.0M541.5 679.0V693.5M542.5 656.9V690.7M543.5 668.2V683.3M544.5 669.3V674.7M545.5 668.2V673.2M546.5 664.9V673.3M547.5 659.1V671.3M547.5 660.5V666.4M548.5 653.7V665.2M549.5 657.9V663.7M553.5 647.7V655.9M554.5 650.2V654.4M555.5 652.1V654.6M556.5 652.6V654.9M557.5 651.3V661.2M558.5 650.4V654.5M559.5 645.5V652.8M560.5 641.4V655.9M561.5 642.5V649.7M562.5 636.2V643.6M563.5 629.1V637.2M564.5 625.0V636.8M565.5 628.3V634.6M566.5 630.4V639.3M567.5 630.4V633.5M568.5 627.6V634.8M569.5 624.0V631.5M569.5 624.7V630.0M570.5 620.1V627.0M571.5 618.5V623.1M572.5 616.9V624.5M576.5 609.7V618.4M577.5 606.6V613.9M578.5 609.7V615.3M579.5 612.4V616.7M580.5 614.6V618.3M581.5 615.7V620.3M582.5 617.8V621.9M583.5 617.8V632.0M584.5 619.2V624.1M585.5 619.2V625.4M586.5 621.6V629.4M587.5 621.7V627.2M588.5 624.3V636.6M614.5 717.1V748.0M615.5 721.4V731.1M616.5 720.5V732.1M617.5 711.4V725.3M618.5 702.1V719.1M619.5 707.6V727.6M620.5 713.7V729.5M621.5 715.4V741.6M622.5 714.6V727.2M623.5 711.6V719.5M624.5 704.8V726.3M625.5 701.8V718.1M626.5 702.2V713.5M627.5 694.8V711.0M628.5 691.8V707.6M629.5 686.7V699.7M630.5 684.9V699.0M631.5 688.3V699.3M632.5 693.5V699.7M633.5 696.6V704.0M634.5 698.2V706.8M635.5 699.1V707.4M635.5 701.8V707.7M636.5 697.2V709.4M637.5 700.5V718.8M638.5 704.1V716.2M639.5 700.2V709.9M640.5 693.3V703.0M641.5 685.4V700.4M642.5 691.1V709.4M644.5 688.8V702.2M645.5 689.4V696.7M646.5 683.9V692.2M647.5 676.3V695.5M648.5 674.0V689.3M660.5 619.3V661.2M661.5 626.3V648.9M662.5 637.9V651.3M663.5 631.1V651.0M664.5 633.1V642.5M665.5 628.4V638.1M666.5 624.3V634.7M667.5 618.3V628.8M668.5 622.0V631.9M669.5 625.7V632.7M670.5 628.2V639.7M671.5 627.6V640.2M672.5 632.2V640.2M673.5 635.8V644.1M674.5 635.0V648.8M675.5 637.1V650.4M677.5 637.7V643.0M678.5 626.2V639.2M678.5 620.0V634.9M679.5 620.1V630.4M680.5 621.3V631.0M681.5 618.4V629.1M682.5 608.7V627.9M683.5 618.3V626.3M684.5 620.0V629.0M685.5 621.2V629.3M686.5 623.4V627.1M687.5 622.6V625.3M688.5 624.0V625.8M689.5 621.5V627.4M690.5 622.1V625.7M703.5 625.6V635.7M731.5 626.9V641.2M732.5 619.6V631.7M733.5 609.4V620.7M743.5 581.5V585.2M744.5 581.2V587.6M744.5 581.8V587.0M745.5 581.6V586.3M746.5 578.5V584.4M747.5 575.1V584.8M748.5 579.2V582.7M749.5 578.8V584.1M750.5 579.9V592.6M751.5 577.5V583.2M752.5 577.6V585.0M753.5 575.8V582.5M754.5 571.4V577.2M755.5 566.3V580.1M756.5 570.5V582.0M757.5 570.2V578.6M758.5 573.6V578.9M759.5 577.1V582.9M760.5 579.3V583.8M761.5 580.1V584.1M762.5 580.9V583.8M763.5 581.2V584.7M768.5 580.5V584.3M769.5 577.3V588.1M770.5 573.6V590.9M771.5 574.5V585.4M783.5 596.7V603.7M784.5 596.5V600.0M785.5 593.9V601.4M786.5 593.1V601.6M787.5 591.1V598.7M787.5 595.7V605.3M788.5 603.2V607.8M805.5 590.3V596.2M806.5 586.0V593.3M807.5 580.8V593.6M808.5 583.0V590.5M809.5 578.9V586.2M809.5 578.8V586.1M810.5 582.0V585.4M811.5 582.0V587.3M812.5 584.6V586.7M813.5 584.4V589.2M814.5 578.3V587.5M815.5 581.6V587.6M816.5 570.3V587.8M838.5 506.1V517.5M852.5 465.7V479.0M853.5 468.7V504.7M853.5 472.7V497.4M854.5 465.0V486.6M855.5 462.5V476.0M856.5 457.1V466.1M857.5 458.2V467.4M858.5 464.0V469.7M859.5 464.4V468.3M860.5 463.3V471.0M861.5 464.9V470.6M862.5 462.6V473.8M863.5 468.4V473.3M864.5 466.9V475.2M865.5 469.1V484.8M868.5 466.1V486.1M869.5 460.2V480.4M870.5 461.2V476.2M871.5 448.6V477.2M872.5 439.2V462.3M896.5 292.5V360.1M897.5 304.1V319.1M897.5 303.4V314.5M898.5 295.3V311.4M899.5 291.0V309.9M900.5 297.0V305.9M901.5 301.9V315.0M902.5 305.7V323.8M903.5 309.6V323.8M904.5 304.1V323.5M905.5 311.0V324.4M912.5 339.7V348.5M913.5 339.0V347.4M914.5 334.8V341.6M915.5 321.7V340.0M916.5 319.7V331.3M917.5 321.3V329.0M918.5 303.1V325.0M918.5 304.1V320.9M919.5 298.4V320.7M920.5 284.9V316.2M921.5 283.3V303.0M922.5 264.2V296.6M926.5 252.4V264.6M927.5 251.2V272.5M928.5 242.3V255.4M929.5 238.8V254.1M930.5 238.0V251.6M931.5 232.8V246.2M932.5 222.0V245.0M937.5 205.4V227.8M938.5 222.7V240.2M939.5 226.4V252.5M940.5 240.4V255.7M943.5 247.3V261.8M944.5 246.6V261.4M945.5 247.0V261.5M946.5 240.4V260.8M947.5 240.8V247.8M948.5 230.4V242.9M949.5 219.6V231.2M950.5 205.8V225.6M951.5 209.2V219.4M952.5 210.1V220.8M953.5 203.2V223.9M954.5 202.9V218.4M955.5 193.0V211.9M956.5 199.9V210.8M957.5 205.0V228.7M958.5 212.0V218.8M959.5 208.9V215.5M960.5 207.4V217.6M961.5 202.1V213.0M962.5 199.4V211.9M962.5 199.0V209.0M963.5 199.2V207.2M964.5 204.2V221.7M965.5 213.3V240.3M967.5 210.9V223.1M968.5 207.6V218.4M969.5 208.6V219.7M970.5 205.6V215.9M971.5 203.3V210.2M972.5 202.4V206.9M973.5 201.7V207.1M974.5 200.9V209.0M975.5 206.9V209.6M976.5 205.3V209.8M977.5 204.2V212.7M978.5 202.6V217.0M980.5 199.5V206.3M981.5 196.5V201.7M982.5 191.9V205.1M983.5 192.4V200.2M984.5 188.9V195.5M984.5 185.3V200.0M985.5 181.9V192.4M986.5 184.5V195.2M987.5 191.6V211.6M988.5 204.8V215.3M1044.5 287.1V302.0M1045.5 288.6V307.1M1046.5 294.5V311.2M1081.5 311.4V341.2M1082.5 305.3V334.6M1083.5 307.3V320.5M1084.5 298.5V316.1M1085.5 294.2V311.8M1086.5 291.3V318.2M1087.5 287.1V303.1M1088.5 279.4V293.4M1089.5 280.1V291.8M1090.5 283.5V297.4M1091.5 294.9V303.0M1092.5 293.0V306.3M1093.5 294.3V310.5M1093.5 279.3V299.3M1094.5 284.5V295.8M1095.5 269.9V290.3M1098.5 260.7V266.9M1099.5 256.8V263.9M1100.5 252.4V263.8M1101.5 252.0V261.7M1102.5 251.2V258.9M1103.5 253.9V259.3M1104.5 256.1V261.1M1105.5 256.9V267.0M1106.5 257.8V272.5M1107.5 250.6V269.3M1108.5 253.3V262.4M1109.5 247.3V257.2M1110.5 243.4V252.4M1111.5 240.3V253.3M1112.5 246.0V252.4M1113.5 246.1V252.5M1114.5 248.9V254.2M1115.5 248.6V254.6M1115.5 248.1V254.0M1116.5 249.7V257.9M1117.5 247.5V251.9M1118.5 241.8V251.1M1119.5 238.0V246.7M1120.5 239.0V249.0M1121.5 239.2V246.9M1122.5 228.6V252.4M1123.5 229.1V246.3M1124.5 236.7V248.7M1132.5 254.5V260.3M1133.5 250.2V260.5M1134.5 249.2V256.7M1135.5 246.9V257.1M1136.5 247.6V261.1M1147.5 260.1V270.6M1148.5 243.4V268.7M1149.5 230.3V260.1M1150.5 237.8V267.3M1151.5 231.5V259.6M1152.5 230.8V246.9M1153.5 219.2V240.8M1154.5 220.6V228.8M1155.5 216.3V230.8M1156.5 216.4V225.3M1157.5 215.0V222.4M1158.5 214.9V221.1M1158.5 215.0V223.5M1159.5 204.9V221.1M1160.5 203.0V211.0M1161.5 194.4V209.6M1162.5 195.5V203.3M1163.5 185.5V205.3M1167.5 174.8V200.2M1168.5 177.0V192.2M1169.5 183.4V195.8M1170.5 189.1V202.6M1171.5 192.9V202.7M1172.5 195.5V200.2M1173.5 195.4V208.4M1174.5 194.3V199.2M1175.5 188.6V202.0M1176.5 194.0V200.1M1177.5 194.4V198.1M1178.5 187.4V200.2M1179.5 188.9V195.1M1180.5 188.2V194.7M1180.5 186.5V199.7M1181.5 188.8V199.5M1182.5 183.5V198.0M1183.5 180.8V189.1M1184.5 176.6V187.0M1185.5 168.1V181.5M1186.5 171.7V178.1M1187.5 170.6V178.0M1188.5 175.3V181.4M1189.5 176.3V185.7M1190.5 177.4V190.4M1191.5 186.3V193.9M1225.5 244.4V253.0M1226.5 240.4V254.8M1227.5 235.3V249.2M1228.5 232.8V244.5M1229.5 238.5V245.3M1230.5 241.2V248.8M1231.5 244.0V249.2M1268.5 292.2V314.3M1269.5 295.6V306.2M1270.5 286.7V299.4M1271.5 266.0V292.5M1272.5 263.4V275.8M1273.5 262.8V276.0M1274.5 271.7V285.8M1275.5 276.7V286.8M1276.5 275.2V287.1M1277.5 272.6V282.2M1278.5 266.7V279.1M1279.5 268.4V275.3M1290.5 284.3V297.1M1291.5 271.0V293.0M1292.5 265.3V281.6M1293.5 265.4V281.8M1294.5 267.6V296.1M1305.5 295.3V303.7M1306.5 292.4V299.1M1307.5 287.2V295.1M1308.5 278.6V290.3M1309.5 279.9V285.7M1310.5 275.2V283.8M1311.5 275.2V279.7M1311.5 271.9V282.9M1312.5 272.3V278.2M1313.5 268.4V275.3M1314.5 266.1V273.0M1318.5 251.4V264.0M1319.5 250.7V255.9M1320.5 251.1V256.4M1321.5 254.9V260.4M1322.5 258.0V266.9M1323.5 258.3V263.5M1324.5 255.1V265.6M1325.5 261.1V269.4M1384.5 348.7V361.4M1424.5 416.9V435.4M1425.5 410.4V428.1M1426.5 412.4V424.0M1427.5 410.2V419.7M1428.5 411.2V425.1M1429.5 418.0V429.0M1430.5 425.6V434.2M1431.5 423.1V438.2M1432.5 428.8V447.5M1433.5 424.2V441.6M1434.5 414.2V435.3M1435.5 407.6V424.9M1436.5 406.6V421.4M1437.5 407.0V414.4M1438.5 408.0V418.1M1439.5 415.4V421.8M1440.5 415.3V421.4M1441.5 415.6V423.0M1443.5 413.2V421.3M1444.5 415.4V421.0M1445.5 412.8V422.8M1446.5 412.5V419.3M1447.5 408.1V415.9M1448.5 402.0V411.6M1449.5 405.4V411.1M1450.5 401.0V412.2M1451.5 400.9V410.5M1452.5 400.9V411.0M1453.5 405.5V421.1M1475.5 452.7V463.5M1476.5 432.9V459.6M1477.5 424.4V442.1M1478.5 425.0V442.2M1479.5 424.9V436.3M1480.5 424.3V442.9M1481.5 442.1V454.3M1491.5 459.5V465.7M1492.5 451.9V464.1M1493.5 460.7V467.6M1494.5 463.9V472.1M1499.5 449.8V459.7M1500.5 449.6V458.8M1520.5 452.2V458.4M1521.5 447.9V458.1M1522.5 443.1V455.7M1523.5 442.3V451.3M1524.5 443.4V449.5M1525.5 447.5V451.1M1526.5 446.8V453.7M1527.5 446.9V454.8M1528.5 444.6V451.3M1529.5 443.9V448.8M1530.5 438.7V459.0M1530.5 438.5V463.7M1531.5 440.8V464.1M1553.5 489.3V499.2M1554.5 489.8V497.4M1555.5 491.3V499.2M1556.5 490.8V496.1M1557.5 490.4V496.3M1558.5 490.8V493.7M1559.5 490.7V494.1M1560.5 491.0V492.5M1561.5 489.6V492.9M1562.5 489.5V492.9M1563.5 487.7V491.7M1564.5 483.7V492.5M1565.5 486.2V491.7M1566.5 483.0V494.0M1567.5 475.9V488.7M1568.5 478.7V490.7M1587.5 495.0V499.2M1588.5 494.8V499.3M1589.5 492.2V498.8M1590.5 490.0V496.7M1591.5 485.0V496.1M1592.5 486.0V498.7M1593.5 487.4V494.3M1594.5 468.1V496.5M1611.5 414.3V423.3M1612.5 414.7V420.7M1613.5 417.7V423.0M1614.5 420.5V426.0M1615.5 410.8V422.8M1616.5 413.8V418.7M1617.5 415.7V423.2M1617.5 418.9V426.4M1618.5 420.5V425.3M1619.5 417.9V426.3M1620.5 420.6V431.1M1621.5 427.3V438.1M1622.5 431.6V438.9M1623.5 429.9V437.8M1624.5 424.1V440.3M1625.5 417.8V440.0M1626.5 418.7V434.5M1627.5 405.0V428.6M1628.5 400.9V414.5M1629.5 400.7V409.4M1630.5 403.7V416.1M1631.5 405.3V418.0M1632.5 401.2V411.0M1633.5 400.1V408.0M1634.5 400.1V407.1M1635.5 399.8V411.8M1636.5 405.2V418.4M1638.5 413.7V426.4M1639.5 417.1V423.3M1639.5 413.6V419.8M1640.5 414.1V427.4M1652.5 414.2V443.6M1653.5 389.8V429.3M1654.5 380.4V426.1M1655.5 392.3V408.4M1656.5 378.7V403.9M1657.5 378.8V397.3M1658.5 377.5V397.8M1659.5 369.1V389.3M1660.5 374.2V385.3M1661.5 373.5V381.0M1661.5 369.9V381.3M1662.5 375.1V388.6M1663.5 378.6V383.2M1664.5 375.0V387.8M1665.5 375.6V384.9M1666.5 374.4V389.8"/>
<path stroke="#6512cc" d="M34.5 655.0V679.9M275.5 762.3V809.6M276.5 758.5V788.5M277.5 759.4V791.8M278.5 764.8V783.6M303.5 752.7V766.5M304.5 752.8V759.2M305.5 751.5V759.7M306.5 744.9V754.9M307.5 742.4V748.6M307.5 740.1V755.2M308.5 731.5V753.6M309.5 726.5V750.8M310.5 712.9V734.7M311.5 702.8V722.6M312.5 683.1V716.3M313.5 690.7V707.8M314.5 673.3V703.9M315.5 676.8V688.7M316.5 658.5V678.1M317.5 660.5V675.9M351.5 604.6V622.5M352.5 593.0V618.2M353.5 564.1V597.7M354.5 541.6V572.6M355.5 544.9V557.6M356.5 540.7V564.6M357.5 543.4V556.6M550.5 652.6V663.3M551.5 640.8V659.3M552.5 647.2V655.7M573.5 614.6V622.1M574.5 614.1V619.0M575.5 611.8V617.3M649.5 661.0V677.3M650.5 653.6V676.3M651.5 646.6V663.9M652.5 630.6V660.3M653.5 633.2V651.2M654.5 634.1V649.6M655.5 636.4V648.7M656.5 626.0V642.8M656.5 618.5V629.7M657.5 616.8V628.5M658.5 615.4V635.4M659.5 615.5V632.0M734.5 601.4V617.8M735.5 595.1V616.7M736.5 585.3V606.0M737.5 579.5V605.5M738.5 588.0V609.5M739.5 583.2V599.5M740.5 587.3V594.3M741.5 572.7V589.9M742.5 581.9V586.6M817.5 564.6V585.2M818.5 557.4V576.5M819.5 552.0V569.5M820.5 549.1V565.3M821.5 549.6V561.9M822.5 548.2V558.6M823.5 547.7V556.9M824.5 544.3V552.2M825.5 546.1V550.1M826.5 538.0V547.8M827.5 541.6V548.5M828.5 537.8V546.6M829.5 533.0V546.4M830.5 528.4V540.4M831.5 523.2V540.7M831.5 517.2V536.8M832.5 509.7V529.7M833.5 511.7V525.8M834.5 516.9V531.6M835.5 512.8V524.2M836.5 513.2V518.6M837.5 512.4V516.3M839.5 503.6V514.8M840.5 505.2V514.8M841.5 498.7V509.9M842.5 490.6V507.6M843.5 488.5V497.1M844.5 478.4V495.7M845.5 471.4V486.9M846.5 473.6V481.2M847.5 473.9V479.8M848.5 473.2V479.6M849.5 467.0V481.8M850.5 466.8V475.1M851.5 461.2V475.9M873.5 411.8V444.2M874.5 412.8V439.9M875.5 415.4V432.2M875.5 412.2V432.6M876.5 422.3V428.3M877.5 409.9V434.6M878.5 402.6V413.2M879.5 399.1V416.1M880.5 393.5V415.5M881.5 392.3V413.9M882.5 379.4V412.2M883.5 368.7V397.1M884.5 363.4V382.6M885.5 355.1V381.4M886.5 358.6V375.5M887.5 344.4V367.9M888.5 336.3V379.1M889.5 335.8V354.5M890.5 320.4V364.7M891.5 311.8V346.2M892.5 308.0V332.3M893.5 305.7V323.0M894.5 282.7V316.3M895.5 288.0V302.9M923.5 260.5V276.5M924.5 253.2V275.8M925.5 243.9V268.8M933.5 217.9V235.7M934.5 205.7V229.7M935.5 205.8V221.2M936.5 205.3V220.4M1096.5 259.6V281.7M1097.5 263.5V274.8M1164.5 184.7V197.3M1165.5 174.5V191.7M1166.5 174.7V181.1M1315.5 259.6V275.1M1316.5 261.8V269.1M1317.5 250.8V265.9M1595.5 456.9V481.4M1595.5 443.9V464.5M1596.5 436.9V460.0M1597.5 445.8V456.2M1598.5 438.5V453.3M1599.5 436.6V449.7M1600.5 435.6V450.5M1601.5 429.6V446.4M1602.5 418.1V436.5M1603.5 419.6V435.2M1604.5 413.5V428.8M1605.5 420.9V430.1M1606.5 421.1V425.2M1607.5 414.9V422.7M1608.5 416.3V424.7M1609.5 417.1V425.6M1610.5 418.0V424.6"/>
</g>
<text x="10.3" y="20" font-size="12" fill="#e0e3eb" textLength="412" lengthAdjust="spacingAndGlyphs">lambot-web3 a publié sur TradingView.com, Mars 28, 2023 22:43 UTC+2</text>
<text x="18.4" y="47.0" font-size="12" fill="#d1d4dc" textLength="144.6" lengthAdjust="spacingAndGlyphs">Bitcoin / Dollar, 1D, INDEX</text>
<text x="18.4" y="64.0" font-size="12" fill="#d1d4dc" textLength="180.9" lengthAdjust="spacingAndGlyphs">Trend candles - Lambot-Trading</text>
<text x="206.7" y="64.0" font-size="12" fill="#a062d0" textLength="32.8" lengthAdjust="spacingAndGlyphs">27141</text>
<text x="246.5" y="64.0" font-size="12" fill="#a062d0" textLength="33.8" lengthAdjust="spacingAndGlyphs">27514</text>
<text x="287.6" y="64.0" font-size="12" fill="#a062d0" textLength="36.8" lengthAdjust="spacingAndGlyphs">26635</text>
<text x="332.0" y="64.0" font-size="12" fill="#a062d0" textLength="35.0" lengthAdjust="spacingAndGlyphs">27322</text>
<text x="375.0" y="64.0" font-size="12" fill="#2f9bf5" textLength="35.0" lengthAdjust="spacingAndGlyphs">27322</text>
<text x="18.4" y="81.0" font-size="12" fill="#d1d4dc" textLength="224.1" lengthAdjust="spacingAndGlyphs">Fibonacci ribbon - Lambot-Trading beta</text>
<text x="250.2" y="81.0" font-size="12" fill="#a062d0" textLength="53.5" lengthAdjust="spacingAndGlyphs">25872.55</text>
<text x="311.0" y="81.0" font-size="12" fill="#a062d0" textLength="52.9" lengthAdjust="spacingAndGlyphs">24732.78</text>
<text x="371.2" y="81.0" font-size="12" fill="#a062d0" textLength="54.2" lengthAdjust="spacingAndGlyphs">24603.25</text>
<text x="433.4" y="81.0" font-size="12" fill="#a062d0" textLength="51.6" lengthAdjust="spacingAndGlyphs">23871.65</text>
<text x="1708.5" y="44.6" font-size="12" fill="#b8bbc4" textLength="24.3" lengthAdjust="spacingAndGlyphs">USD</text>
<text x="1708.5" y="67.0" font-size="12" fill="#b8bbc4" textLength="63.0" lengthAdjust="spacingAndGlyphs">108000.00</text>
<text x="1708.5" y="105.4" font-size="12" fill="#b8bbc4" textLength="55.7" lengthAdjust="spacingAndGlyphs">92000.00</text>
<text x="1708.5" y="137.2" font-size="12" fill="#b8bbc4" textLength="55.7" lengthAdjust="spacingAndGlyphs">80000.00</text>
<text x="1708.5" y="168.1" font-size="12" fill="#b8bbc4" textLength="55.7" lengthAdjust="spacingAndGlyphs">70000.00</text>
<text x="1708.5" y="204.4" font-size="12" fill="#b8bbc4" textLength="55.7" lengthAdjust="spacingAndGlyphs">60000.00</text>
<text x="1708.5" y="238.2" font-size="12" fill="#b8bbc4" textLength="55.7" lengthAdjust="spacingAndGlyphs">52000.00</text>
<text x="1708.5" y="277.0" font-size="12" fill="#b8bbc4" textLength="55.7" lengthAdjust="spacingAndGlyphs">44000.00</text>
<text x="1708.5" y="311.3" font-size="12" fill="#b8bbc4" textLength="55.7" lengthAdjust="spacingAndGlyphs">38000.00</text>
<text x="1708.5" y="351.3" font-size="12" fill="#b8bbc4" textLength="55.7" lengthAdjust="spacingAndGlyphs">32000.00</text>
<text x="1708.5" y="381.6" font-size="12" fill="#b8bbc4" textLength="55.7" lengthAdjust="spacingAndGlyphs">28000.00</text>
<text x="1708.5" y="417.7" font-size="12" fill="#b8bbc4" textLength="55.7" lengthAdjust="spacingAndGlyphs">24000.00</text>
<text x="1708.5" y="448.9" font-size="12" fill="#b8bbc4" textLength="55.7" lengthAdjust="spacingAndGlyphs">21000.00</text>
<text x="1708.5" y="485.4" font-size="12" fill="#b8bbc4" textLength="55.7" lengthAdjust="spacingAndGlyphs">18000.00</text>
<text x="1708.5" y="526.9" font-size="12" fill="#b8bbc4" textLength="55.7" lengthAdjust="spacingAndGlyphs">15000.00</text>
<text x="1708.5" y="560.5" font-size="12" fill="#b8bbc4" textLength="55.7" lengthAdjust="spacingAndGlyphs">13000.00</text>
<text x="1708.5" y="590.8" font-size="12" fill="#b8bbc4" textLength="55.7" lengthAdjust="spacingAndGlyphs">11400.00</text>
<text x="1708.5" y="625.4" font-size="12" fill="#b8bbc4" textLength="48.4" lengthAdjust="spacingAndGlyphs">9800.00</text>
<text x="1708.5" y="658.4" font-size="12" fill="#b8bbc4" textLength="48.4" lengthAdjust="spacingAndGlyphs">8550.00</text>
<text x="1708.5" y="695.2" font-size="12" fill="#b8bbc4" textLength="48.4" lengthAdjust="spacingAndGlyphs">7300.00</text>
<text x="1708.5" y="728.6" font-size="12" fill="#b8bbc4" textLength="48.4" lengthAdjust="spacingAndGlyphs">6300.00</text>
<text x="1708.5" y="761.2" font-size="12" fill="#b8bbc4" textLength="48.4" lengthAdjust="spacingAndGlyphs">5500.00</text>
<text x="1708.5" y="797.1" font-size="12" fill="#b8bbc4" textLength="48.4" lengthAdjust="spacingAndGlyphs">4700.00</text>
<text x="1708.5" y="828.9" font-size="12" fill="#b8bbc4" textLength="48.4" lengthAdjust="spacingAndGlyphs">4100.00</text>
<text x="1708.5" y="858.7" font-size="12" fill="#b8bbc4" textLength="48.4" lengthAdjust="spacingAndGlyphs">3600.00</text>
<text x="1708.5" y="890.0" font-size="12" fill="#b8bbc4" textLength="48.4" lengthAdjust="spacingAndGlyphs">3150.00</text>
<text x="1708.5" y="921.8" font-size="12" fill="#b8bbc4" textLength="48.4" lengthAdjust="spacingAndGlyphs">2750.00</text>
<text x="1708.5" y="952.9" font-size="12" fill="#b8bbc4" textLength="48.4" lengthAdjust="spacingAndGlyphs">2410.00</text>
<path d="M1698 375.2H1768.8a2 2 0 0 1 2 2V403.7a2 2 0 0 1-2 2H1698Z" fill="#8f5fc0"/>
<text x="1708.8" y="388.0" font-size="12" fill="#ffffff" textLength="55.4" lengthAdjust="spacingAndGlyphs">27321.89</text>
<text x="1708.8" y="402.0" font-size="12" fill="#ece4f6" textLength="51.3" lengthAdjust="spacingAndGlyphs">03:16:55</text>
<g clip-path="url(#ct)">
<text x="11.9" y="983" font-size="12" fill="#c9ccd4" text-anchor="middle" textLength="21.8" lengthAdjust="spacingAndGlyphs">Juill</text>
<text x="99.8" y="983" font-size="12" fill="#c9ccd4" text-anchor="middle" textLength="19.6" lengthAdjust="spacingAndGlyphs">Oct</text>
<text x="187.8" y="983" font-size="12.2" fill="#c9ccd4" stroke="#c9ccd4" stroke-width="0.55" text-anchor="middle" textLength="30.3" lengthAdjust="spacingAndGlyphs">2019</text>
<text x="273.9" y="983" font-size="12" fill="#c9ccd4" text-anchor="middle" textLength="18.0" lengthAdjust="spacingAndGlyphs">Avr</text>
<text x="360.9" y="983" font-size="12" fill="#c9ccd4" text-anchor="middle" textLength="21.8" lengthAdjust="spacingAndGlyphs">Juill</text>
<text x="448.8" y="983" font-size="12" fill="#c9ccd4" text-anchor="middle" textLength="19.6" lengthAdjust="spacingAndGlyphs">Oct</text>
<text x="536.8" y="983" font-size="12.2" fill="#c9ccd4" stroke="#c9ccd4" stroke-width="0.55" text-anchor="middle" textLength="30.3" lengthAdjust="spacingAndGlyphs">2020</text>
<text x="623.8" y="983" font-size="12" fill="#c9ccd4" text-anchor="middle" textLength="18.0" lengthAdjust="spacingAndGlyphs">Avr</text>
<text x="710.8" y="983" font-size="12" fill="#c9ccd4" text-anchor="middle" textLength="21.8" lengthAdjust="spacingAndGlyphs">Juill</text>
<text x="798.8" y="983" font-size="12" fill="#c9ccd4" text-anchor="middle" textLength="19.6" lengthAdjust="spacingAndGlyphs">Oct</text>
<text x="886.8" y="983" font-size="12.2" fill="#c9ccd4" stroke="#c9ccd4" stroke-width="0.55" text-anchor="middle" textLength="30.3" lengthAdjust="spacingAndGlyphs">2021</text>
<text x="972.8" y="983" font-size="12" fill="#c9ccd4" text-anchor="middle" textLength="18.0" lengthAdjust="spacingAndGlyphs">Avr</text>
<text x="1059.9" y="983" font-size="12" fill="#c9ccd4" text-anchor="middle" textLength="21.8" lengthAdjust="spacingAndGlyphs">Juill</text>
<text x="1147.8" y="983" font-size="12" fill="#c9ccd4" text-anchor="middle" textLength="19.6" lengthAdjust="spacingAndGlyphs">Oct</text>
<text x="1235.8" y="983" font-size="12.2" fill="#c9ccd4" stroke="#c9ccd4" stroke-width="0.55" text-anchor="middle" textLength="30.3" lengthAdjust="spacingAndGlyphs">2022</text>
<text x="1321.9" y="983" font-size="12" fill="#c9ccd4" text-anchor="middle" textLength="18.0" lengthAdjust="spacingAndGlyphs">Avr</text>
<text x="1408.9" y="983" font-size="12" fill="#c9ccd4" text-anchor="middle" textLength="21.8" lengthAdjust="spacingAndGlyphs">Juill</text>
<text x="1496.8" y="983" font-size="12" fill="#c9ccd4" text-anchor="middle" textLength="19.6" lengthAdjust="spacingAndGlyphs">Oct</text>
<text x="1584.8" y="983" font-size="12.2" fill="#c9ccd4" stroke="#c9ccd4" stroke-width="0.55" text-anchor="middle" textLength="30.3" lengthAdjust="spacingAndGlyphs">2023</text>
<text x="1670.9" y="983" font-size="12" fill="#c9ccd4" text-anchor="middle" textLength="18.0" lengthAdjust="spacingAndGlyphs">Avr</text>
</g>
<circle cx="1666.5" cy="951.6" r="9.7" fill="#131722" stroke="#bb4fd0" stroke-width="1.9"/>
<path d="M1669.96 946.09L1662.4 951.56L1666.1 951.88L1663.2 956.86L1670.76 951.4L1667.2 951.08Z" fill="#bb4fd0"/>
<g fill="#d6d8e0"><path d="M10 1004.1H18.1V1013.9H13.8V1008.1H10Z"/><circle cx="21.2" cy="1006.1" r="2"/><path d="M24.3 1004.1H29.6L26.1 1013.9H20.7Z"/></g>
<text x="33.3" y="1015" font-size="13.4" fill="#d6d8e0" stroke="#d6d8e0" stroke-width="0.35" textLength="74.3" lengthAdjust="spacingAndGlyphs">TradingView</text>
</svg></body></html>
